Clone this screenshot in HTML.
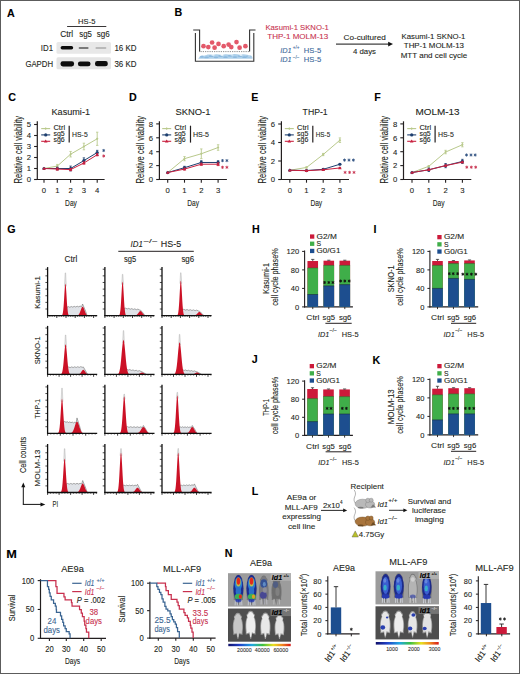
<!DOCTYPE html><html><head><meta charset="utf-8"><title>Figure</title><style>html,body{margin:0;padding:0;background:#fff;}svg{display:block;}</style></head><body>
<svg width="520" height="674" viewBox="0 0 520 674" font-family='"Liberation Sans", sans-serif' fill="#231f20">
<defs><filter id="bl" x="-50%" y="-50%" width="200%" height="200%"><feGaussianBlur stdDeviation="0.7"/></filter><filter id="bl3" x="-30%" y="-60%" width="160%" height="220%"><feGaussianBlur stdDeviation="0.45"/></filter><filter id="bl2" x="-20%" y="-20%" width="140%" height="140%"><feGaussianBlur stdDeviation="0.35"/></filter><linearGradient id="cbar" x1="0" x2="1" y1="0" y2="0"><stop offset="0" stop-color="#10106a"/><stop offset="0.18" stop-color="#1f3fc8"/><stop offset="0.38" stop-color="#20a8e0"/><stop offset="0.55" stop-color="#3cc040"/><stop offset="0.72" stop-color="#e8e020"/><stop offset="0.86" stop-color="#f08a20"/><stop offset="1" stop-color="#d81818"/></linearGradient></defs>
<rect x="0.00" y="0.00" width="520.00" height="674.00" fill="#fff"/>
<text x="7.00" y="17.20" font-size="10.7" fill="#000" font-weight="bold" stroke="#000" stroke-width="0.1">A</text>
<text x="78.10" y="23.50" font-size="8.0" textLength="17.30" lengthAdjust="spacingAndGlyphs" stroke="#231f20" stroke-width="0.1">HS-5</text>
<line x1="67.10" y1="26.50" x2="106.30" y2="26.50" stroke="#231f20" stroke-width="0.9"/>
<text x="60.20" y="36.60" font-size="8.2" textLength="13.00" lengthAdjust="spacingAndGlyphs" stroke="#231f20" stroke-width="0.1">Ctrl</text>
<text x="79.20" y="36.60" font-size="8.2" textLength="12.70" lengthAdjust="spacingAndGlyphs" stroke="#231f20" stroke-width="0.1">sg5</text>
<text x="96.80" y="36.60" font-size="8.2" textLength="13.00" lengthAdjust="spacingAndGlyphs" stroke="#231f20" stroke-width="0.1">sg6</text>
<text x="40.80" y="50.90" font-size="8.2" textLength="12.20" lengthAdjust="spacingAndGlyphs" stroke="#231f20" stroke-width="0.1">ID1</text>
<text x="25.40" y="67.00" font-size="8.2" textLength="27.60" lengthAdjust="spacingAndGlyphs" stroke="#231f20" stroke-width="0.1">GAPDH</text>
<text x="114.40" y="51.30" font-size="8.2" textLength="22.10" lengthAdjust="spacingAndGlyphs" stroke="#231f20" stroke-width="0.1">16 KD</text>
<text x="114.40" y="66.80" font-size="8.2" textLength="22.10" lengthAdjust="spacingAndGlyphs" stroke="#231f20" stroke-width="0.1">36 KD</text>
<rect x="56.5" y="42" width="54.5" height="11.8" rx="1.5" fill="#e8e8e8" filter="url(#bl)"/>
<rect x="56.5" y="57.3" width="54.5" height="12" rx="1.5" fill="#e4e4e4" filter="url(#bl)"/>
<g filter="url(#bl3)">
<rect x="60.6" y="46" width="12.6" height="3.4" rx="1.7" fill="#111"/>
<rect x="78.6" y="46.9" width="10" height="2" rx="1" fill="#7a7a7a"/>
<rect x="95.4" y="47.2" width="11" height="1.6" rx="0.8" fill="#aaa"/>
<rect x="60.5" y="61.2" width="13.6" height="5.2" rx="2.4" fill="#0a0a0a"/>
<rect x="77.9" y="61.4" width="12.6" height="4.8" rx="2.3" fill="#111"/>
<rect x="95" y="61" width="12.8" height="5.3" rx="2.4" fill="#0a0a0a"/>
</g>
<text x="174.60" y="16.40" font-size="10.7" fill="#000" font-weight="bold" stroke="#000" stroke-width="0.1">B</text>
<path d="M195.4,33 V61.2 H253.8 V33" stroke="#333" fill="none" stroke-width="1.1"/>
<path d="M193.2,30 H199.6 V51.5" stroke="#333" fill="none" stroke-width="1.1"/>
<path d="M255.5,30 H249.6 V51.5" stroke="#333" fill="none" stroke-width="1.1"/>
<line x1="199.60" y1="51.60" x2="249.60" y2="51.60" stroke="#333" stroke-width="0.7" stroke-dasharray="0.8 1"/>
<path d="M198.2,58.8 C200,55.2 203,54.6 206,55.2 C209,53.8 212,55.4 215,54.4 C218,53.6 221,55.6 224,54.6 C227,53.4 230,55.4 233,54.2 C236,53.6 239,55.2 242,54.4 C245,53.8 248,55.2 251,55.4 C252.6,56.4 252.8,58 252.4,58.8 Z" fill="#aed0ea" filter="url(#bl3)"/>
<ellipse cx="202" cy="56.8" rx="2.3" ry="0.9" fill="#6fa6d6" opacity="0.55"/>
<ellipse cx="206.5" cy="57.4" rx="2.3" ry="0.9" fill="#6fa6d6" opacity="0.55"/>
<ellipse cx="211" cy="56.2" rx="2.3" ry="0.9" fill="#6fa6d6" opacity="0.55"/>
<ellipse cx="216" cy="57.3" rx="2.3" ry="0.9" fill="#6fa6d6" opacity="0.55"/>
<ellipse cx="220.5" cy="56" rx="2.3" ry="0.9" fill="#6fa6d6" opacity="0.55"/>
<ellipse cx="225.5" cy="57.2" rx="2.3" ry="0.9" fill="#6fa6d6" opacity="0.55"/>
<ellipse cx="230" cy="55.8" rx="2.3" ry="0.9" fill="#6fa6d6" opacity="0.55"/>
<ellipse cx="235" cy="57.1" rx="2.3" ry="0.9" fill="#6fa6d6" opacity="0.55"/>
<ellipse cx="240" cy="56.1" rx="2.3" ry="0.9" fill="#6fa6d6" opacity="0.55"/>
<ellipse cx="244.5" cy="57.2" rx="2.3" ry="0.9" fill="#6fa6d6" opacity="0.55"/>
<ellipse cx="248.5" cy="56.4" rx="2.3" ry="0.9" fill="#6fa6d6" opacity="0.55"/>
<ellipse cx="204" cy="55.6" rx="1.6" ry="0.6" fill="#eef6fc" opacity="0.8"/>
<ellipse cx="213" cy="55.2" rx="1.6" ry="0.6" fill="#eef6fc" opacity="0.8"/>
<ellipse cx="222" cy="55.4" rx="1.6" ry="0.6" fill="#eef6fc" opacity="0.8"/>
<ellipse cx="232" cy="55" rx="1.6" ry="0.6" fill="#eef6fc" opacity="0.8"/>
<ellipse cx="241" cy="55.3" rx="1.6" ry="0.6" fill="#eef6fc" opacity="0.8"/>
<ellipse cx="249" cy="56" rx="1.6" ry="0.6" fill="#eef6fc" opacity="0.8"/>
<circle cx="203.5" cy="46.2" r="2.35" fill="#e3596a"/>
<circle cx="208.3" cy="47.1" r="2.35" fill="#e3596a"/>
<circle cx="212.1" cy="42.5" r="2.35" fill="#e3596a"/>
<circle cx="214.6" cy="47.7" r="2.35" fill="#e3596a"/>
<circle cx="218.5" cy="43.9" r="2.35" fill="#e3596a"/>
<circle cx="223.7" cy="46.2" r="2.35" fill="#e3596a"/>
<circle cx="231.3" cy="47.1" r="2.35" fill="#e3596a"/>
<circle cx="236.5" cy="42.1" r="2.35" fill="#e3596a"/>
<circle cx="239.6" cy="47.7" r="2.35" fill="#e3596a"/>
<circle cx="245.4" cy="46.2" r="2.35" fill="#e3596a"/>
<circle cx="228.6" cy="44.6" r="2.35" fill="#e3596a"/>
<text x="265.40" y="30.00" font-size="7.9" fill="#c8334f" textLength="63.40" lengthAdjust="spacingAndGlyphs" stroke="#c8334f" stroke-width="0.1">Kasumi-1 SKNO-1</text>
<text x="267.30" y="39.00" font-size="7.9" fill="#c8334f" textLength="61.00" lengthAdjust="spacingAndGlyphs" stroke="#c8334f" stroke-width="0.1">THP-1 MOLM-13</text>
<text x="280.20" y="52.50" font-size="7.9" font-style="italic" fill="#3b6a9b" textLength="11.50" lengthAdjust="spacingAndGlyphs" stroke="#3b6a9b" stroke-width="0.1">ID1</text>
<text x="292.70" y="49.20" font-size="4.6" fill="#3b6a9b" textLength="6.70" lengthAdjust="spacingAndGlyphs" stroke="#3b6a9b" stroke-width="0.1">+/+</text>
<text x="303.80" y="52.50" font-size="7.9" fill="#3b6a9b" textLength="17.40" lengthAdjust="spacingAndGlyphs" stroke="#3b6a9b" stroke-width="0.1">HS-5</text>
<text x="280.20" y="62.00" font-size="7.9" font-style="italic" fill="#3b6a9b" textLength="11.50" lengthAdjust="spacingAndGlyphs" stroke="#3b6a9b" stroke-width="0.1">ID1</text>
<text x="292.70" y="58.70" font-size="4.6" fill="#3b6a9b" textLength="6.70" lengthAdjust="spacingAndGlyphs" stroke="#3b6a9b" stroke-width="0.1">−/−</text>
<text x="303.80" y="62.00" font-size="7.9" fill="#3b6a9b" textLength="17.40" lengthAdjust="spacingAndGlyphs" stroke="#3b6a9b" stroke-width="0.1">HS-5</text>
<line x1="336.00" y1="44.10" x2="389.50" y2="44.10" stroke="#111" stroke-width="1"/>
<path d="M393,44.1 L388.2,41.7 L388.2,46.5 Z" stroke="none" fill="#111" stroke-width="0.8"/>
<text x="343.50" y="39.60" font-size="7.9" textLength="42.30" lengthAdjust="spacingAndGlyphs" stroke="#231f20" stroke-width="0.1">Co-cultured</text>
<text x="353.00" y="54.40" font-size="7.9" textLength="23.00" lengthAdjust="spacingAndGlyphs" stroke="#231f20" stroke-width="0.1">4 days</text>
<text x="433.50" y="38.80" font-size="7.9" text-anchor="middle" textLength="63.90" lengthAdjust="spacingAndGlyphs" stroke="#231f20" stroke-width="0.1">Kasumi-1 SKNO-1</text>
<text x="433.90" y="48.30" font-size="7.9" text-anchor="middle" textLength="60.20" lengthAdjust="spacingAndGlyphs" stroke="#231f20" stroke-width="0.1">THP-1 MOLM-13</text>
<text x="434.00" y="57.90" font-size="7.9" text-anchor="middle" textLength="66.70" lengthAdjust="spacingAndGlyphs" stroke="#231f20" stroke-width="0.1">MTT and cell cycle</text>
<text x="8.30" y="101.40" font-size="10.7" fill="#000" font-weight="bold" stroke="#000" stroke-width="0.1">C</text>
<text x="51.50" y="115.40" font-size="9.3" textLength="38.50" lengthAdjust="spacingAndGlyphs" stroke="#231f20" stroke-width="0.1">Kasumi-1</text>
<text x="0" y="0" font-size="10.2" text-anchor="middle" transform="translate(22.10,149.7) rotate(-90)" textLength="67.5" lengthAdjust="spacingAndGlyphs" stroke="#231f20" stroke-width="0.1">Relative cell viability</text>
<line x1="37.30" y1="121.30" x2="37.30" y2="180.00" stroke="#231f20" stroke-width="1.2"/>
<line x1="36.70" y1="179.50" x2="104.60" y2="179.50" stroke="#231f20" stroke-width="1.2"/>
<line x1="34.10" y1="179.50" x2="37.30" y2="179.50" stroke="#231f20" stroke-width="1.1"/>
<text x="31.00" y="182.35" font-size="8.1" text-anchor="end" textLength="4.30" lengthAdjust="spacingAndGlyphs" stroke="#231f20" stroke-width="0.1">0</text>
<line x1="34.10" y1="168.50" x2="37.30" y2="168.50" stroke="#231f20" stroke-width="1.1"/>
<text x="31.00" y="171.35" font-size="8.1" text-anchor="end" textLength="4.30" lengthAdjust="spacingAndGlyphs" stroke="#231f20" stroke-width="0.1">1</text>
<line x1="34.10" y1="157.50" x2="37.30" y2="157.50" stroke="#231f20" stroke-width="1.1"/>
<text x="31.00" y="160.35" font-size="8.1" text-anchor="end" textLength="4.30" lengthAdjust="spacingAndGlyphs" stroke="#231f20" stroke-width="0.1">2</text>
<line x1="34.10" y1="146.50" x2="37.30" y2="146.50" stroke="#231f20" stroke-width="1.1"/>
<text x="31.00" y="149.35" font-size="8.1" text-anchor="end" textLength="4.30" lengthAdjust="spacingAndGlyphs" stroke="#231f20" stroke-width="0.1">3</text>
<line x1="34.10" y1="135.50" x2="37.30" y2="135.50" stroke="#231f20" stroke-width="1.1"/>
<text x="31.00" y="138.35" font-size="8.1" text-anchor="end" textLength="4.30" lengthAdjust="spacingAndGlyphs" stroke="#231f20" stroke-width="0.1">4</text>
<line x1="34.10" y1="124.50" x2="37.30" y2="124.50" stroke="#231f20" stroke-width="1.1"/>
<text x="31.00" y="127.35" font-size="8.1" text-anchor="end" textLength="4.30" lengthAdjust="spacingAndGlyphs" stroke="#231f20" stroke-width="0.1">5</text>
<line x1="44.00" y1="179.50" x2="44.00" y2="182.70" stroke="#231f20" stroke-width="1.1"/>
<text x="44.00" y="192.80" font-size="8.1" text-anchor="middle" textLength="4.30" lengthAdjust="spacingAndGlyphs" stroke="#231f20" stroke-width="0.1">0</text>
<line x1="57.30" y1="179.50" x2="57.30" y2="182.70" stroke="#231f20" stroke-width="1.1"/>
<text x="57.30" y="192.80" font-size="8.1" text-anchor="middle" textLength="4.30" lengthAdjust="spacingAndGlyphs" stroke="#231f20" stroke-width="0.1">1</text>
<line x1="70.60" y1="179.50" x2="70.60" y2="182.70" stroke="#231f20" stroke-width="1.1"/>
<text x="70.60" y="192.80" font-size="8.1" text-anchor="middle" textLength="4.30" lengthAdjust="spacingAndGlyphs" stroke="#231f20" stroke-width="0.1">2</text>
<line x1="83.90" y1="179.50" x2="83.90" y2="182.70" stroke="#231f20" stroke-width="1.1"/>
<text x="83.90" y="192.80" font-size="8.1" text-anchor="middle" textLength="4.30" lengthAdjust="spacingAndGlyphs" stroke="#231f20" stroke-width="0.1">3</text>
<line x1="97.20" y1="179.50" x2="97.20" y2="182.70" stroke="#231f20" stroke-width="1.1"/>
<text x="97.20" y="192.80" font-size="8.1" text-anchor="middle" textLength="4.30" lengthAdjust="spacingAndGlyphs" stroke="#231f20" stroke-width="0.1">4</text>
<text x="71.00" y="205.60" font-size="8.9" text-anchor="middle" textLength="11.80" lengthAdjust="spacingAndGlyphs" stroke="#231f20" stroke-width="0.1">Day</text>
<path d="M44.00,168.50 L57.30,166.08 L70.60,154.20 L83.90,146.50 L97.20,138.80" stroke="#b9c98c" fill="none" stroke-width="1.0"/>
<path d="M42.70,168.50 L44.00,167.20 L45.30,168.50 L44.00,169.80 Z" fill="#b9c98c"/>
<line x1="57.30" y1="164.43" x2="57.30" y2="167.73" stroke="#b9c98c" stroke-width="0.9"/>
<line x1="56.10" y1="164.43" x2="58.50" y2="164.43" stroke="#b9c98c" stroke-width="0.8"/>
<line x1="56.10" y1="167.73" x2="58.50" y2="167.73" stroke="#b9c98c" stroke-width="0.8"/>
<path d="M56.00,166.08 L57.30,164.78 L58.60,166.08 L57.30,167.38 Z" fill="#b9c98c"/>
<line x1="70.60" y1="151.45" x2="70.60" y2="156.95" stroke="#b9c98c" stroke-width="0.9"/>
<line x1="69.40" y1="151.45" x2="71.80" y2="151.45" stroke="#b9c98c" stroke-width="0.8"/>
<line x1="69.40" y1="156.95" x2="71.80" y2="156.95" stroke="#b9c98c" stroke-width="0.8"/>
<path d="M69.30,154.20 L70.60,152.90 L71.90,154.20 L70.60,155.50 Z" fill="#b9c98c"/>
<line x1="83.90" y1="143.20" x2="83.90" y2="149.80" stroke="#b9c98c" stroke-width="0.9"/>
<line x1="82.70" y1="143.20" x2="85.10" y2="143.20" stroke="#b9c98c" stroke-width="0.8"/>
<line x1="82.70" y1="149.80" x2="85.10" y2="149.80" stroke="#b9c98c" stroke-width="0.8"/>
<path d="M82.60,146.50 L83.90,145.20 L85.20,146.50 L83.90,147.80 Z" fill="#b9c98c"/>
<line x1="97.20" y1="132.20" x2="97.20" y2="145.40" stroke="#b9c98c" stroke-width="0.9"/>
<line x1="96.00" y1="132.20" x2="98.40" y2="132.20" stroke="#b9c98c" stroke-width="0.8"/>
<line x1="96.00" y1="145.40" x2="98.40" y2="145.40" stroke="#b9c98c" stroke-width="0.8"/>
<path d="M95.90,138.80 L97.20,137.50 L98.50,138.80 L97.20,140.10 Z" fill="#b9c98c"/>
<path d="M44.00,168.50 L57.30,168.50 L70.60,168.50 L83.90,160.58 L97.20,152.55" stroke="#1e3f6f" fill="none" stroke-width="1.0"/>
<circle cx="44.00" cy="168.50" r="1.6" fill="#1e3f6f"/>
<line x1="57.30" y1="167.18" x2="57.30" y2="169.82" stroke="#1e3f6f" stroke-width="0.9"/>
<line x1="56.10" y1="167.18" x2="58.50" y2="167.18" stroke="#1e3f6f" stroke-width="0.8"/>
<line x1="56.10" y1="169.82" x2="58.50" y2="169.82" stroke="#1e3f6f" stroke-width="0.8"/>
<circle cx="57.30" cy="168.50" r="1.6" fill="#1e3f6f"/>
<line x1="70.60" y1="166.08" x2="70.60" y2="170.92" stroke="#1e3f6f" stroke-width="0.9"/>
<line x1="69.40" y1="166.08" x2="71.80" y2="166.08" stroke="#1e3f6f" stroke-width="0.8"/>
<line x1="69.40" y1="170.92" x2="71.80" y2="170.92" stroke="#1e3f6f" stroke-width="0.8"/>
<circle cx="70.60" cy="168.50" r="1.6" fill="#1e3f6f"/>
<line x1="83.90" y1="157.83" x2="83.90" y2="163.33" stroke="#1e3f6f" stroke-width="0.9"/>
<line x1="82.70" y1="157.83" x2="85.10" y2="157.83" stroke="#1e3f6f" stroke-width="0.8"/>
<line x1="82.70" y1="163.33" x2="85.10" y2="163.33" stroke="#1e3f6f" stroke-width="0.8"/>
<circle cx="83.90" cy="160.58" r="1.6" fill="#1e3f6f"/>
<line x1="97.20" y1="150.35" x2="97.20" y2="154.75" stroke="#1e3f6f" stroke-width="0.9"/>
<line x1="96.00" y1="150.35" x2="98.40" y2="150.35" stroke="#1e3f6f" stroke-width="0.8"/>
<line x1="96.00" y1="154.75" x2="98.40" y2="154.75" stroke="#1e3f6f" stroke-width="0.8"/>
<circle cx="97.20" cy="152.55" r="1.6" fill="#1e3f6f"/>
<path d="M44.00,168.50 L57.30,169.05 L70.60,169.60 L83.90,163.00 L97.20,154.75" stroke="#c8203f" fill="none" stroke-width="1.0"/>
<path d="M42.20,169.70 L44.00,166.80 L45.80,169.70 Z" fill="#c8203f"/>
<line x1="57.30" y1="167.95" x2="57.30" y2="170.15" stroke="#c8203f" stroke-width="0.9"/>
<line x1="56.10" y1="167.95" x2="58.50" y2="167.95" stroke="#c8203f" stroke-width="0.8"/>
<line x1="56.10" y1="170.15" x2="58.50" y2="170.15" stroke="#c8203f" stroke-width="0.8"/>
<path d="M55.50,170.25 L57.30,167.35 L59.10,170.25 Z" fill="#c8203f"/>
<line x1="70.60" y1="168.50" x2="70.60" y2="170.70" stroke="#c8203f" stroke-width="0.9"/>
<line x1="69.40" y1="168.50" x2="71.80" y2="168.50" stroke="#c8203f" stroke-width="0.8"/>
<line x1="69.40" y1="170.70" x2="71.80" y2="170.70" stroke="#c8203f" stroke-width="0.8"/>
<path d="M68.80,170.80 L70.60,167.90 L72.40,170.80 Z" fill="#c8203f"/>
<line x1="83.90" y1="161.90" x2="83.90" y2="164.10" stroke="#c8203f" stroke-width="0.9"/>
<line x1="82.70" y1="161.90" x2="85.10" y2="161.90" stroke="#c8203f" stroke-width="0.8"/>
<line x1="82.70" y1="164.10" x2="85.10" y2="164.10" stroke="#c8203f" stroke-width="0.8"/>
<path d="M82.10,164.20 L83.90,161.30 L85.70,164.20 Z" fill="#c8203f"/>
<line x1="97.20" y1="153.65" x2="97.20" y2="155.85" stroke="#c8203f" stroke-width="0.9"/>
<line x1="96.00" y1="153.65" x2="98.40" y2="153.65" stroke="#c8203f" stroke-width="0.8"/>
<line x1="96.00" y1="155.85" x2="98.40" y2="155.85" stroke="#c8203f" stroke-width="0.8"/>
<path d="M95.40,155.95 L97.20,153.05 L99.00,155.95 Z" fill="#c8203f"/>
<line x1="41.20" y1="128.60" x2="50.20" y2="128.60" stroke="#b9c98c" stroke-width="1.1"/>
<path d="M44.40,128.60 L45.70,127.30 L47.00,128.60 L45.70,129.90 Z" fill="#b9c98c"/>
<text x="53.40" y="130.40" font-size="7.5" textLength="11.70" lengthAdjust="spacingAndGlyphs" stroke="#231f20" stroke-width="0.1">Ctrl</text>
<line x1="41.20" y1="134.90" x2="50.20" y2="134.90" stroke="#1e3f6f" stroke-width="1.1"/>
<circle cx="45.70" cy="134.90" r="1.6" fill="#1e3f6f"/>
<text x="53.40" y="136.30" font-size="7.5" textLength="11.30" lengthAdjust="spacingAndGlyphs" stroke="#231f20" stroke-width="0.1">sg5</text>
<line x1="41.20" y1="141.30" x2="50.20" y2="141.30" stroke="#c8203f" stroke-width="1.1"/>
<path d="M43.90,142.50 L45.70,139.60 L47.50,142.50 Z" fill="#c8203f"/>
<text x="53.40" y="142.30" font-size="7.5" textLength="11.30" lengthAdjust="spacingAndGlyphs" stroke="#231f20" stroke-width="0.1">sg6</text>
<line x1="69.20" y1="125.70" x2="69.20" y2="142.60" stroke="#231f20" stroke-width="1.2"/>
<text x="72.10" y="136.60" font-size="7.4" textLength="15.60" lengthAdjust="spacingAndGlyphs" stroke="#231f20" stroke-width="0.1">HS-5</text>
<path d="M103.70,148.95 L103.70,152.05 M102.36,149.72 L105.04,151.28 M105.04,149.72 L102.36,151.28 " stroke="#2d4f80" stroke-width="0.85" fill="none"/>
<path d="M103.70,154.45 L103.70,157.55 M102.36,155.22 L105.04,156.78 M105.04,155.22 L102.36,156.78 " stroke="#c8304e" stroke-width="0.85" fill="none"/>
<text x="129.00" y="101.40" font-size="10.7" fill="#000" font-weight="bold" stroke="#000" stroke-width="0.1">D</text>
<text x="175.50" y="115.40" font-size="9.3" textLength="34.90" lengthAdjust="spacingAndGlyphs" stroke="#231f20" stroke-width="0.1">SKNO-1</text>
<text x="0" y="0" font-size="10.2" text-anchor="middle" transform="translate(144.20,149.7) rotate(-90)" textLength="67.5" lengthAdjust="spacingAndGlyphs" stroke="#231f20" stroke-width="0.1">Relative cell viability</text>
<line x1="159.40" y1="121.30" x2="159.40" y2="180.00" stroke="#231f20" stroke-width="1.2"/>
<line x1="158.80" y1="179.50" x2="226.90" y2="179.50" stroke="#231f20" stroke-width="1.2"/>
<line x1="156.20" y1="179.50" x2="159.40" y2="179.50" stroke="#231f20" stroke-width="1.1"/>
<text x="153.10" y="182.35" font-size="8.1" text-anchor="end" textLength="4.30" lengthAdjust="spacingAndGlyphs" stroke="#231f20" stroke-width="0.1">0</text>
<line x1="156.20" y1="165.60" x2="159.40" y2="165.60" stroke="#231f20" stroke-width="1.1"/>
<text x="153.10" y="168.45" font-size="8.1" text-anchor="end" textLength="4.30" lengthAdjust="spacingAndGlyphs" stroke="#231f20" stroke-width="0.1">2</text>
<line x1="156.20" y1="151.70" x2="159.40" y2="151.70" stroke="#231f20" stroke-width="1.1"/>
<text x="153.10" y="154.55" font-size="8.1" text-anchor="end" textLength="4.30" lengthAdjust="spacingAndGlyphs" stroke="#231f20" stroke-width="0.1">4</text>
<line x1="156.20" y1="137.80" x2="159.40" y2="137.80" stroke="#231f20" stroke-width="1.1"/>
<text x="153.10" y="140.65" font-size="8.1" text-anchor="end" textLength="4.30" lengthAdjust="spacingAndGlyphs" stroke="#231f20" stroke-width="0.1">6</text>
<line x1="156.20" y1="123.90" x2="159.40" y2="123.90" stroke="#231f20" stroke-width="1.1"/>
<text x="153.10" y="126.75" font-size="8.1" text-anchor="end" textLength="4.30" lengthAdjust="spacingAndGlyphs" stroke="#231f20" stroke-width="0.1">8</text>
<line x1="167.70" y1="179.50" x2="167.70" y2="182.70" stroke="#231f20" stroke-width="1.1"/>
<text x="167.70" y="192.80" font-size="8.1" text-anchor="middle" textLength="4.30" lengthAdjust="spacingAndGlyphs" stroke="#231f20" stroke-width="0.1">0</text>
<line x1="184.50" y1="179.50" x2="184.50" y2="182.70" stroke="#231f20" stroke-width="1.1"/>
<text x="184.50" y="192.80" font-size="8.1" text-anchor="middle" textLength="4.30" lengthAdjust="spacingAndGlyphs" stroke="#231f20" stroke-width="0.1">1</text>
<line x1="201.30" y1="179.50" x2="201.30" y2="182.70" stroke="#231f20" stroke-width="1.1"/>
<text x="201.30" y="192.80" font-size="8.1" text-anchor="middle" textLength="4.30" lengthAdjust="spacingAndGlyphs" stroke="#231f20" stroke-width="0.1">2</text>
<line x1="218.10" y1="179.50" x2="218.10" y2="182.70" stroke="#231f20" stroke-width="1.1"/>
<text x="218.10" y="192.80" font-size="8.1" text-anchor="middle" textLength="4.30" lengthAdjust="spacingAndGlyphs" stroke="#231f20" stroke-width="0.1">3</text>
<text x="193.20" y="205.60" font-size="8.9" text-anchor="middle" textLength="11.80" lengthAdjust="spacingAndGlyphs" stroke="#231f20" stroke-width="0.1">Day</text>
<path d="M167.70,172.55 L184.50,158.65 L201.30,153.78 L218.10,147.53" stroke="#b9c98c" fill="none" stroke-width="1.0"/>
<path d="M166.40,172.55 L167.70,171.25 L169.00,172.55 L167.70,173.85 Z" fill="#b9c98c"/>
<line x1="184.50" y1="156.56" x2="184.50" y2="160.74" stroke="#b9c98c" stroke-width="0.9"/>
<line x1="183.30" y1="156.56" x2="185.70" y2="156.56" stroke="#b9c98c" stroke-width="0.8"/>
<line x1="183.30" y1="160.74" x2="185.70" y2="160.74" stroke="#b9c98c" stroke-width="0.8"/>
<path d="M183.20,158.65 L184.50,157.35 L185.80,158.65 L184.50,159.95 Z" fill="#b9c98c"/>
<line x1="201.30" y1="148.92" x2="201.30" y2="158.65" stroke="#b9c98c" stroke-width="0.9"/>
<line x1="200.10" y1="148.92" x2="202.50" y2="148.92" stroke="#b9c98c" stroke-width="0.8"/>
<line x1="200.10" y1="158.65" x2="202.50" y2="158.65" stroke="#b9c98c" stroke-width="0.8"/>
<path d="M200.00,153.78 L201.30,152.48 L202.60,153.78 L201.30,155.09 Z" fill="#b9c98c"/>
<line x1="218.10" y1="144.75" x2="218.10" y2="150.31" stroke="#b9c98c" stroke-width="0.9"/>
<line x1="216.90" y1="144.75" x2="219.30" y2="144.75" stroke="#b9c98c" stroke-width="0.8"/>
<line x1="216.90" y1="150.31" x2="219.30" y2="150.31" stroke="#b9c98c" stroke-width="0.8"/>
<path d="M216.80,147.53 L218.10,146.23 L219.40,147.53 L218.10,148.83 Z" fill="#b9c98c"/>
<path d="M167.70,172.55 L184.50,167.69 L201.30,162.47 L218.10,162.47" stroke="#1e3f6f" fill="none" stroke-width="1.0"/>
<circle cx="167.70" cy="172.55" r="1.6" fill="#1e3f6f"/>
<line x1="184.50" y1="166.30" x2="184.50" y2="169.07" stroke="#1e3f6f" stroke-width="0.9"/>
<line x1="183.30" y1="166.30" x2="185.70" y2="166.30" stroke="#1e3f6f" stroke-width="0.8"/>
<line x1="183.30" y1="169.07" x2="185.70" y2="169.07" stroke="#1e3f6f" stroke-width="0.8"/>
<circle cx="184.50" cy="167.69" r="1.6" fill="#1e3f6f"/>
<line x1="201.30" y1="160.73" x2="201.30" y2="164.21" stroke="#1e3f6f" stroke-width="0.9"/>
<line x1="200.10" y1="160.73" x2="202.50" y2="160.73" stroke="#1e3f6f" stroke-width="0.8"/>
<line x1="200.10" y1="164.21" x2="202.50" y2="164.21" stroke="#1e3f6f" stroke-width="0.8"/>
<circle cx="201.30" cy="162.47" r="1.6" fill="#1e3f6f"/>
<line x1="218.10" y1="160.73" x2="218.10" y2="164.21" stroke="#1e3f6f" stroke-width="0.9"/>
<line x1="216.90" y1="160.73" x2="219.30" y2="160.73" stroke="#1e3f6f" stroke-width="0.8"/>
<line x1="216.90" y1="164.21" x2="219.30" y2="164.21" stroke="#1e3f6f" stroke-width="0.8"/>
<circle cx="218.10" cy="162.47" r="1.6" fill="#1e3f6f"/>
<path d="M167.70,172.55 L184.50,169.07 L201.30,164.21 L218.10,164.21" stroke="#c8203f" fill="none" stroke-width="1.0"/>
<path d="M165.90,173.75 L167.70,170.85 L169.50,173.75 Z" fill="#c8203f"/>
<line x1="184.50" y1="168.03" x2="184.50" y2="170.12" stroke="#c8203f" stroke-width="0.9"/>
<line x1="183.30" y1="168.03" x2="185.70" y2="168.03" stroke="#c8203f" stroke-width="0.8"/>
<line x1="183.30" y1="170.12" x2="185.70" y2="170.12" stroke="#c8203f" stroke-width="0.8"/>
<path d="M182.70,170.27 L184.50,167.38 L186.30,170.27 Z" fill="#c8203f"/>
<line x1="201.30" y1="163.17" x2="201.30" y2="165.25" stroke="#c8203f" stroke-width="0.9"/>
<line x1="200.10" y1="163.17" x2="202.50" y2="163.17" stroke="#c8203f" stroke-width="0.8"/>
<line x1="200.10" y1="165.25" x2="202.50" y2="165.25" stroke="#c8203f" stroke-width="0.8"/>
<path d="M199.50,165.41 L201.30,162.51 L203.10,165.41 Z" fill="#c8203f"/>
<line x1="218.10" y1="162.82" x2="218.10" y2="165.60" stroke="#c8203f" stroke-width="0.9"/>
<line x1="216.90" y1="162.82" x2="219.30" y2="162.82" stroke="#c8203f" stroke-width="0.8"/>
<line x1="216.90" y1="165.60" x2="219.30" y2="165.60" stroke="#c8203f" stroke-width="0.8"/>
<path d="M216.30,165.41 L218.10,162.51 L219.90,165.41 Z" fill="#c8203f"/>
<line x1="162.20" y1="128.60" x2="171.20" y2="128.60" stroke="#b9c98c" stroke-width="1.1"/>
<path d="M165.40,128.60 L166.70,127.30 L168.00,128.60 L166.70,129.90 Z" fill="#b9c98c"/>
<text x="174.40" y="130.40" font-size="7.5" textLength="11.70" lengthAdjust="spacingAndGlyphs" stroke="#231f20" stroke-width="0.1">Ctrl</text>
<line x1="162.20" y1="134.90" x2="171.20" y2="134.90" stroke="#1e3f6f" stroke-width="1.1"/>
<circle cx="166.70" cy="134.90" r="1.6" fill="#1e3f6f"/>
<text x="174.40" y="136.30" font-size="7.5" textLength="11.30" lengthAdjust="spacingAndGlyphs" stroke="#231f20" stroke-width="0.1">sg5</text>
<line x1="162.20" y1="141.30" x2="171.20" y2="141.30" stroke="#c8203f" stroke-width="1.1"/>
<path d="M164.90,142.50 L166.70,139.60 L168.50,142.50 Z" fill="#c8203f"/>
<text x="174.40" y="142.30" font-size="7.5" textLength="11.30" lengthAdjust="spacingAndGlyphs" stroke="#231f20" stroke-width="0.1">sg6</text>
<line x1="190.50" y1="125.70" x2="190.50" y2="142.60" stroke="#231f20" stroke-width="1.2"/>
<text x="192.90" y="136.60" font-size="7.4" textLength="16.10" lengthAdjust="spacingAndGlyphs" stroke="#231f20" stroke-width="0.1">HS-5</text>
<path d="M222.50,159.05 L222.50,162.15 M221.16,159.82 L223.84,161.38 M223.84,159.82 L221.16,161.38 " stroke="#2d4f80" stroke-width="0.85" fill="none"/>
<path d="M226.90,159.05 L226.90,162.15 M225.56,159.82 L228.24,161.38 M228.24,159.82 L225.56,161.38 " stroke="#2d4f80" stroke-width="0.85" fill="none"/>
<path d="M222.50,165.75 L222.50,168.85 M221.16,166.53 L223.84,168.08 M223.84,166.53 L221.16,168.08 " stroke="#c8304e" stroke-width="0.85" fill="none"/>
<path d="M226.90,165.75 L226.90,168.85 M225.56,166.53 L228.24,168.08 M228.24,166.53 L225.56,168.08 " stroke="#c8304e" stroke-width="0.85" fill="none"/>
<text x="251.30" y="101.40" font-size="10.7" fill="#000" font-weight="bold" stroke="#000" stroke-width="0.1">E</text>
<text x="302.60" y="115.40" font-size="9.3" textLength="25.10" lengthAdjust="spacingAndGlyphs" stroke="#231f20" stroke-width="0.1">THP-1</text>
<text x="0" y="0" font-size="10.2" text-anchor="middle" transform="translate(266.20,149.7) rotate(-90)" textLength="67.5" lengthAdjust="spacingAndGlyphs" stroke="#231f20" stroke-width="0.1">Relative cell viability</text>
<line x1="281.40" y1="121.30" x2="281.40" y2="180.00" stroke="#231f20" stroke-width="1.2"/>
<line x1="280.80" y1="179.50" x2="349.00" y2="179.50" stroke="#231f20" stroke-width="1.2"/>
<line x1="278.20" y1="179.50" x2="281.40" y2="179.50" stroke="#231f20" stroke-width="1.1"/>
<text x="275.10" y="182.35" font-size="8.1" text-anchor="end" textLength="4.30" lengthAdjust="spacingAndGlyphs" stroke="#231f20" stroke-width="0.1">0</text>
<line x1="278.20" y1="161.00" x2="281.40" y2="161.00" stroke="#231f20" stroke-width="1.1"/>
<text x="275.10" y="163.85" font-size="8.1" text-anchor="end" textLength="4.30" lengthAdjust="spacingAndGlyphs" stroke="#231f20" stroke-width="0.1">2</text>
<line x1="278.20" y1="142.50" x2="281.40" y2="142.50" stroke="#231f20" stroke-width="1.1"/>
<text x="275.10" y="145.35" font-size="8.1" text-anchor="end" textLength="4.30" lengthAdjust="spacingAndGlyphs" stroke="#231f20" stroke-width="0.1">4</text>
<line x1="278.20" y1="124.00" x2="281.40" y2="124.00" stroke="#231f20" stroke-width="1.1"/>
<text x="275.10" y="126.85" font-size="8.1" text-anchor="end" textLength="4.30" lengthAdjust="spacingAndGlyphs" stroke="#231f20" stroke-width="0.1">6</text>
<line x1="289.80" y1="179.50" x2="289.80" y2="182.70" stroke="#231f20" stroke-width="1.1"/>
<text x="289.80" y="192.80" font-size="8.1" text-anchor="middle" textLength="4.30" lengthAdjust="spacingAndGlyphs" stroke="#231f20" stroke-width="0.1">0</text>
<line x1="306.50" y1="179.50" x2="306.50" y2="182.70" stroke="#231f20" stroke-width="1.1"/>
<text x="306.50" y="192.80" font-size="8.1" text-anchor="middle" textLength="4.30" lengthAdjust="spacingAndGlyphs" stroke="#231f20" stroke-width="0.1">1</text>
<line x1="323.20" y1="179.50" x2="323.20" y2="182.70" stroke="#231f20" stroke-width="1.1"/>
<text x="323.20" y="192.80" font-size="8.1" text-anchor="middle" textLength="4.30" lengthAdjust="spacingAndGlyphs" stroke="#231f20" stroke-width="0.1">2</text>
<line x1="339.90" y1="179.50" x2="339.90" y2="182.70" stroke="#231f20" stroke-width="1.1"/>
<text x="339.90" y="192.80" font-size="8.1" text-anchor="middle" textLength="4.30" lengthAdjust="spacingAndGlyphs" stroke="#231f20" stroke-width="0.1">3</text>
<text x="316.30" y="205.60" font-size="8.9" text-anchor="middle" textLength="11.80" lengthAdjust="spacingAndGlyphs" stroke="#231f20" stroke-width="0.1">Day</text>
<path d="M289.80,170.25 L306.50,167.47 L323.20,154.53 L339.90,140.19" stroke="#b9c98c" fill="none" stroke-width="1.0"/>
<path d="M288.50,170.25 L289.80,168.95 L291.10,170.25 L289.80,171.55 Z" fill="#b9c98c"/>
<line x1="306.50" y1="166.73" x2="306.50" y2="168.22" stroke="#b9c98c" stroke-width="0.9"/>
<line x1="305.30" y1="166.73" x2="307.70" y2="166.73" stroke="#b9c98c" stroke-width="0.8"/>
<line x1="305.30" y1="168.22" x2="307.70" y2="168.22" stroke="#b9c98c" stroke-width="0.8"/>
<path d="M305.20,167.47 L306.50,166.17 L307.80,167.47 L306.50,168.78 Z" fill="#b9c98c"/>
<line x1="323.20" y1="153.41" x2="323.20" y2="155.64" stroke="#b9c98c" stroke-width="0.9"/>
<line x1="322.00" y1="153.41" x2="324.40" y2="153.41" stroke="#b9c98c" stroke-width="0.8"/>
<line x1="322.00" y1="155.64" x2="324.40" y2="155.64" stroke="#b9c98c" stroke-width="0.8"/>
<path d="M321.90,154.53 L323.20,153.22 L324.50,154.53 L323.20,155.83 Z" fill="#b9c98c"/>
<line x1="339.90" y1="137.88" x2="339.90" y2="142.50" stroke="#b9c98c" stroke-width="0.9"/>
<line x1="338.70" y1="137.88" x2="341.10" y2="137.88" stroke="#b9c98c" stroke-width="0.8"/>
<line x1="338.70" y1="142.50" x2="341.10" y2="142.50" stroke="#b9c98c" stroke-width="0.8"/>
<path d="M338.60,140.19 L339.90,138.89 L341.20,140.19 L339.90,141.49 Z" fill="#b9c98c"/>
<path d="M289.80,170.25 L306.50,170.53 L323.20,169.32 L339.90,164.24" stroke="#1e3f6f" fill="none" stroke-width="1.0"/>
<circle cx="289.80" cy="170.25" r="1.6" fill="#1e3f6f"/>
<line x1="306.50" y1="170.06" x2="306.50" y2="170.99" stroke="#1e3f6f" stroke-width="0.9"/>
<line x1="305.30" y1="170.06" x2="307.70" y2="170.06" stroke="#1e3f6f" stroke-width="0.8"/>
<line x1="305.30" y1="170.99" x2="307.70" y2="170.99" stroke="#1e3f6f" stroke-width="0.8"/>
<circle cx="306.50" cy="170.53" r="1.6" fill="#1e3f6f"/>
<line x1="323.20" y1="168.86" x2="323.20" y2="169.79" stroke="#1e3f6f" stroke-width="0.9"/>
<line x1="322.00" y1="168.86" x2="324.40" y2="168.86" stroke="#1e3f6f" stroke-width="0.8"/>
<line x1="322.00" y1="169.79" x2="324.40" y2="169.79" stroke="#1e3f6f" stroke-width="0.8"/>
<circle cx="323.20" cy="169.32" r="1.6" fill="#1e3f6f"/>
<line x1="339.90" y1="163.78" x2="339.90" y2="164.70" stroke="#1e3f6f" stroke-width="0.9"/>
<line x1="338.70" y1="163.78" x2="341.10" y2="163.78" stroke="#1e3f6f" stroke-width="0.8"/>
<line x1="338.70" y1="164.70" x2="341.10" y2="164.70" stroke="#1e3f6f" stroke-width="0.8"/>
<circle cx="339.90" cy="164.24" r="1.6" fill="#1e3f6f"/>
<path d="M289.80,170.25 L306.50,170.71 L323.20,169.79 L339.90,167.94" stroke="#c8203f" fill="none" stroke-width="1.0"/>
<path d="M288.00,171.45 L289.80,168.55 L291.60,171.45 Z" fill="#c8203f"/>
<line x1="306.50" y1="170.25" x2="306.50" y2="171.18" stroke="#c8203f" stroke-width="0.9"/>
<line x1="305.30" y1="170.25" x2="307.70" y2="170.25" stroke="#c8203f" stroke-width="0.8"/>
<line x1="305.30" y1="171.18" x2="307.70" y2="171.18" stroke="#c8203f" stroke-width="0.8"/>
<path d="M304.70,171.91 L306.50,169.01 L308.30,171.91 Z" fill="#c8203f"/>
<line x1="323.20" y1="169.32" x2="323.20" y2="170.25" stroke="#c8203f" stroke-width="0.9"/>
<line x1="322.00" y1="169.32" x2="324.40" y2="169.32" stroke="#c8203f" stroke-width="0.8"/>
<line x1="322.00" y1="170.25" x2="324.40" y2="170.25" stroke="#c8203f" stroke-width="0.8"/>
<path d="M321.40,170.99 L323.20,168.09 L325.00,170.99 Z" fill="#c8203f"/>
<line x1="339.90" y1="167.47" x2="339.90" y2="168.40" stroke="#c8203f" stroke-width="0.9"/>
<line x1="338.70" y1="167.47" x2="341.10" y2="167.47" stroke="#c8203f" stroke-width="0.8"/>
<line x1="338.70" y1="168.40" x2="341.10" y2="168.40" stroke="#c8203f" stroke-width="0.8"/>
<path d="M338.10,169.14 L339.90,166.24 L341.70,169.14 Z" fill="#c8203f"/>
<line x1="284.80" y1="128.60" x2="293.80" y2="128.60" stroke="#b9c98c" stroke-width="1.1"/>
<path d="M288.00,128.60 L289.30,127.30 L290.60,128.60 L289.30,129.90 Z" fill="#b9c98c"/>
<text x="297.00" y="130.40" font-size="7.5" textLength="11.70" lengthAdjust="spacingAndGlyphs" stroke="#231f20" stroke-width="0.1">Ctrl</text>
<line x1="284.80" y1="134.90" x2="293.80" y2="134.90" stroke="#1e3f6f" stroke-width="1.1"/>
<circle cx="289.30" cy="134.90" r="1.6" fill="#1e3f6f"/>
<text x="297.00" y="136.30" font-size="7.5" textLength="11.30" lengthAdjust="spacingAndGlyphs" stroke="#231f20" stroke-width="0.1">sg5</text>
<line x1="284.80" y1="141.30" x2="293.80" y2="141.30" stroke="#c8203f" stroke-width="1.1"/>
<path d="M287.50,142.50 L289.30,139.60 L291.10,142.50 Z" fill="#c8203f"/>
<text x="297.00" y="142.30" font-size="7.5" textLength="11.30" lengthAdjust="spacingAndGlyphs" stroke="#231f20" stroke-width="0.1">sg6</text>
<line x1="312.80" y1="125.70" x2="312.80" y2="142.60" stroke="#231f20" stroke-width="1.2"/>
<text x="315.80" y="136.60" font-size="7.4" textLength="14.40" lengthAdjust="spacingAndGlyphs" stroke="#231f20" stroke-width="0.1">HS-5</text>
<path d="M344.50,158.55 L344.50,161.65 M343.16,159.32 L345.84,160.88 M345.84,159.32 L343.16,160.88 " stroke="#2d4f80" stroke-width="0.85" fill="none"/>
<path d="M349.00,158.55 L349.00,161.65 M347.66,159.32 L350.34,160.88 M350.34,159.32 L347.66,160.88 " stroke="#2d4f80" stroke-width="0.85" fill="none"/>
<path d="M353.40,158.55 L353.40,161.65 M352.06,159.32 L354.74,160.88 M354.74,159.32 L352.06,160.88 " stroke="#2d4f80" stroke-width="0.85" fill="none"/>
<path d="M345.10,170.85 L345.10,173.95 M343.76,171.62 L346.44,173.18 M346.44,171.62 L343.76,173.18 " stroke="#c8304e" stroke-width="0.85" fill="none"/>
<path d="M349.60,170.85 L349.60,173.95 M348.26,171.62 L350.94,173.18 M350.94,171.62 L348.26,173.18 " stroke="#c8304e" stroke-width="0.85" fill="none"/>
<path d="M354.00,170.85 L354.00,173.95 M352.66,171.62 L355.34,173.18 M355.34,171.62 L352.66,173.18 " stroke="#c8304e" stroke-width="0.85" fill="none"/>
<text x="374.20" y="101.40" font-size="10.7" fill="#000" font-weight="bold" stroke="#000" stroke-width="0.1">F</text>
<text x="415.50" y="115.40" font-size="9.3" textLength="44.10" lengthAdjust="spacingAndGlyphs" stroke="#231f20" stroke-width="0.1">MOLM-13</text>
<text x="0" y="0" font-size="10.2" text-anchor="middle" transform="translate(388.30,149.7) rotate(-90)" textLength="67.5" lengthAdjust="spacingAndGlyphs" stroke="#231f20" stroke-width="0.1">Relative cell viability</text>
<line x1="403.50" y1="121.30" x2="403.50" y2="180.00" stroke="#231f20" stroke-width="1.2"/>
<line x1="402.90" y1="179.50" x2="471.30" y2="179.50" stroke="#231f20" stroke-width="1.2"/>
<line x1="400.30" y1="179.50" x2="403.50" y2="179.50" stroke="#231f20" stroke-width="1.1"/>
<text x="397.20" y="182.35" font-size="8.1" text-anchor="end" textLength="4.30" lengthAdjust="spacingAndGlyphs" stroke="#231f20" stroke-width="0.1">0</text>
<line x1="400.30" y1="165.60" x2="403.50" y2="165.60" stroke="#231f20" stroke-width="1.1"/>
<text x="397.20" y="168.45" font-size="8.1" text-anchor="end" textLength="4.30" lengthAdjust="spacingAndGlyphs" stroke="#231f20" stroke-width="0.1">2</text>
<line x1="400.30" y1="151.70" x2="403.50" y2="151.70" stroke="#231f20" stroke-width="1.1"/>
<text x="397.20" y="154.55" font-size="8.1" text-anchor="end" textLength="4.30" lengthAdjust="spacingAndGlyphs" stroke="#231f20" stroke-width="0.1">4</text>
<line x1="400.30" y1="137.80" x2="403.50" y2="137.80" stroke="#231f20" stroke-width="1.1"/>
<text x="397.20" y="140.65" font-size="8.1" text-anchor="end" textLength="4.30" lengthAdjust="spacingAndGlyphs" stroke="#231f20" stroke-width="0.1">6</text>
<line x1="400.30" y1="123.90" x2="403.50" y2="123.90" stroke="#231f20" stroke-width="1.1"/>
<text x="397.20" y="126.75" font-size="8.1" text-anchor="end" textLength="4.30" lengthAdjust="spacingAndGlyphs" stroke="#231f20" stroke-width="0.1">8</text>
<line x1="412.00" y1="179.50" x2="412.00" y2="182.70" stroke="#231f20" stroke-width="1.1"/>
<text x="412.00" y="192.80" font-size="8.1" text-anchor="middle" textLength="4.30" lengthAdjust="spacingAndGlyphs" stroke="#231f20" stroke-width="0.1">0</text>
<line x1="428.80" y1="179.50" x2="428.80" y2="182.70" stroke="#231f20" stroke-width="1.1"/>
<text x="428.80" y="192.80" font-size="8.1" text-anchor="middle" textLength="4.30" lengthAdjust="spacingAndGlyphs" stroke="#231f20" stroke-width="0.1">1</text>
<line x1="445.60" y1="179.50" x2="445.60" y2="182.70" stroke="#231f20" stroke-width="1.1"/>
<text x="445.60" y="192.80" font-size="8.1" text-anchor="middle" textLength="4.30" lengthAdjust="spacingAndGlyphs" stroke="#231f20" stroke-width="0.1">2</text>
<line x1="462.40" y1="179.50" x2="462.40" y2="182.70" stroke="#231f20" stroke-width="1.1"/>
<text x="462.40" y="192.80" font-size="8.1" text-anchor="middle" textLength="4.30" lengthAdjust="spacingAndGlyphs" stroke="#231f20" stroke-width="0.1">3</text>
<text x="438.70" y="205.60" font-size="8.9" text-anchor="middle" textLength="11.80" lengthAdjust="spacingAndGlyphs" stroke="#231f20" stroke-width="0.1">Day</text>
<path d="M412.00,172.55 L428.80,166.29 L445.60,152.05 L462.40,144.75" stroke="#b9c98c" fill="none" stroke-width="1.0"/>
<path d="M410.70,172.55 L412.00,171.25 L413.30,172.55 L412.00,173.85 Z" fill="#b9c98c"/>
<line x1="428.80" y1="165.60" x2="428.80" y2="166.99" stroke="#b9c98c" stroke-width="0.9"/>
<line x1="427.60" y1="165.60" x2="430.00" y2="165.60" stroke="#b9c98c" stroke-width="0.8"/>
<line x1="427.60" y1="166.99" x2="430.00" y2="166.99" stroke="#b9c98c" stroke-width="0.8"/>
<path d="M427.50,166.29 L428.80,164.99 L430.10,166.29 L428.80,167.59 Z" fill="#b9c98c"/>
<line x1="445.60" y1="150.31" x2="445.60" y2="153.79" stroke="#b9c98c" stroke-width="0.9"/>
<line x1="444.40" y1="150.31" x2="446.80" y2="150.31" stroke="#b9c98c" stroke-width="0.8"/>
<line x1="444.40" y1="153.79" x2="446.80" y2="153.79" stroke="#b9c98c" stroke-width="0.8"/>
<path d="M444.30,152.05 L445.60,150.75 L446.90,152.05 L445.60,153.35 Z" fill="#b9c98c"/>
<line x1="462.40" y1="142.66" x2="462.40" y2="146.84" stroke="#b9c98c" stroke-width="0.9"/>
<line x1="461.20" y1="142.66" x2="463.60" y2="142.66" stroke="#b9c98c" stroke-width="0.8"/>
<line x1="461.20" y1="146.84" x2="463.60" y2="146.84" stroke="#b9c98c" stroke-width="0.8"/>
<path d="M461.10,144.75 L462.40,143.45 L463.70,144.75 L462.40,146.05 Z" fill="#b9c98c"/>
<path d="M412.00,172.55 L428.80,169.77 L445.60,165.60 L462.40,161.43" stroke="#1e3f6f" fill="none" stroke-width="1.0"/>
<circle cx="412.00" cy="172.55" r="1.6" fill="#1e3f6f"/>
<line x1="428.80" y1="168.03" x2="428.80" y2="171.51" stroke="#1e3f6f" stroke-width="0.9"/>
<line x1="427.60" y1="168.03" x2="430.00" y2="168.03" stroke="#1e3f6f" stroke-width="0.8"/>
<line x1="427.60" y1="171.51" x2="430.00" y2="171.51" stroke="#1e3f6f" stroke-width="0.8"/>
<circle cx="428.80" cy="169.77" r="1.6" fill="#1e3f6f"/>
<line x1="445.60" y1="163.51" x2="445.60" y2="167.69" stroke="#1e3f6f" stroke-width="0.9"/>
<line x1="444.40" y1="163.51" x2="446.80" y2="163.51" stroke="#1e3f6f" stroke-width="0.8"/>
<line x1="444.40" y1="167.69" x2="446.80" y2="167.69" stroke="#1e3f6f" stroke-width="0.8"/>
<circle cx="445.60" cy="165.60" r="1.6" fill="#1e3f6f"/>
<line x1="462.40" y1="159.34" x2="462.40" y2="163.52" stroke="#1e3f6f" stroke-width="0.9"/>
<line x1="461.20" y1="159.34" x2="463.60" y2="159.34" stroke="#1e3f6f" stroke-width="0.8"/>
<line x1="461.20" y1="163.52" x2="463.60" y2="163.52" stroke="#1e3f6f" stroke-width="0.8"/>
<circle cx="462.40" cy="161.43" r="1.6" fill="#1e3f6f"/>
<path d="M412.00,172.55 L428.80,169.77 L445.60,165.60 L462.40,162.12" stroke="#c8203f" fill="none" stroke-width="1.0"/>
<path d="M410.20,173.75 L412.00,170.85 L413.80,173.75 Z" fill="#c8203f"/>
<line x1="428.80" y1="169.08" x2="428.80" y2="170.47" stroke="#c8203f" stroke-width="0.9"/>
<line x1="427.60" y1="169.08" x2="430.00" y2="169.08" stroke="#c8203f" stroke-width="0.8"/>
<line x1="427.60" y1="170.47" x2="430.00" y2="170.47" stroke="#c8203f" stroke-width="0.8"/>
<path d="M427.00,170.97 L428.80,168.07 L430.60,170.97 Z" fill="#c8203f"/>
<line x1="445.60" y1="164.91" x2="445.60" y2="166.29" stroke="#c8203f" stroke-width="0.9"/>
<line x1="444.40" y1="164.91" x2="446.80" y2="164.91" stroke="#c8203f" stroke-width="0.8"/>
<line x1="444.40" y1="166.29" x2="446.80" y2="166.29" stroke="#c8203f" stroke-width="0.8"/>
<path d="M443.80,166.80 L445.60,163.90 L447.40,166.80 Z" fill="#c8203f"/>
<line x1="462.40" y1="161.43" x2="462.40" y2="162.82" stroke="#c8203f" stroke-width="0.9"/>
<line x1="461.20" y1="161.43" x2="463.60" y2="161.43" stroke="#c8203f" stroke-width="0.8"/>
<line x1="461.20" y1="162.82" x2="463.60" y2="162.82" stroke="#c8203f" stroke-width="0.8"/>
<path d="M460.60,163.32 L462.40,160.43 L464.20,163.32 Z" fill="#c8203f"/>
<line x1="407.20" y1="128.60" x2="416.20" y2="128.60" stroke="#b9c98c" stroke-width="1.1"/>
<path d="M410.40,128.60 L411.70,127.30 L413.00,128.60 L411.70,129.90 Z" fill="#b9c98c"/>
<text x="419.40" y="130.40" font-size="7.5" textLength="11.70" lengthAdjust="spacingAndGlyphs" stroke="#231f20" stroke-width="0.1">Ctrl</text>
<line x1="407.20" y1="134.90" x2="416.20" y2="134.90" stroke="#1e3f6f" stroke-width="1.1"/>
<circle cx="411.70" cy="134.90" r="1.6" fill="#1e3f6f"/>
<text x="419.40" y="136.30" font-size="7.5" textLength="11.30" lengthAdjust="spacingAndGlyphs" stroke="#231f20" stroke-width="0.1">sg5</text>
<line x1="407.20" y1="141.30" x2="416.20" y2="141.30" stroke="#c8203f" stroke-width="1.1"/>
<path d="M409.90,142.50 L411.70,139.60 L413.50,142.50 Z" fill="#c8203f"/>
<text x="419.40" y="142.30" font-size="7.5" textLength="11.30" lengthAdjust="spacingAndGlyphs" stroke="#231f20" stroke-width="0.1">sg6</text>
<line x1="435.10" y1="125.70" x2="435.10" y2="142.60" stroke="#231f20" stroke-width="1.2"/>
<text x="437.90" y="136.60" font-size="7.4" textLength="15.90" lengthAdjust="spacingAndGlyphs" stroke="#231f20" stroke-width="0.1">HS-5</text>
<path d="M466.50,153.45 L466.50,156.55 M465.16,154.22 L467.84,155.78 M467.84,154.22 L465.16,155.78 " stroke="#2d4f80" stroke-width="0.85" fill="none"/>
<path d="M471.00,153.45 L471.00,156.55 M469.66,154.22 L472.34,155.78 M472.34,154.22 L469.66,155.78 " stroke="#2d4f80" stroke-width="0.85" fill="none"/>
<path d="M475.20,153.45 L475.20,156.55 M473.86,154.22 L476.54,155.78 M476.54,154.22 L473.86,155.78 " stroke="#2d4f80" stroke-width="0.85" fill="none"/>
<path d="M466.80,165.65 L466.80,168.75 M465.46,166.42 L468.14,167.97 M468.14,166.42 L465.46,167.97 " stroke="#c8304e" stroke-width="0.85" fill="none"/>
<path d="M471.30,165.65 L471.30,168.75 M469.96,166.42 L472.64,167.97 M472.64,166.42 L469.96,167.97 " stroke="#c8304e" stroke-width="0.85" fill="none"/>
<path d="M475.70,165.65 L475.70,168.75 M474.36,166.42 L477.04,167.97 M477.04,166.42 L474.36,167.97 " stroke="#c8304e" stroke-width="0.85" fill="none"/>
<text x="7.20" y="232.60" font-size="10.7" fill="#000" font-weight="bold" stroke="#000" stroke-width="0.1">G</text>
<text x="130.50" y="247.10" font-size="9.4" font-style="italic" textLength="12.30" lengthAdjust="spacingAndGlyphs" stroke="#231f20" stroke-width="0.1">ID1</text>
<text x="143.30" y="243.10" font-size="5.6" textLength="14.30" lengthAdjust="spacingAndGlyphs" stroke="#231f20" stroke-width="0.1">−/−</text>
<text x="160.80" y="247.10" font-size="9.4" textLength="20.40" lengthAdjust="spacingAndGlyphs" stroke="#231f20" stroke-width="0.1">HS-5</text>
<line x1="118.30" y1="251.30" x2="193.80" y2="251.30" stroke="#231f20" stroke-width="1.0"/>
<text x="64.60" y="261.60" font-size="8.2" textLength="12.60" lengthAdjust="spacingAndGlyphs" stroke="#231f20" stroke-width="0.1">Ctrl</text>
<text x="124.00" y="261.60" font-size="8.2" textLength="12.20" lengthAdjust="spacingAndGlyphs" stroke="#231f20" stroke-width="0.1">sg5</text>
<text x="181.40" y="261.60" font-size="8.2" textLength="12.80" lengthAdjust="spacingAndGlyphs" stroke="#231f20" stroke-width="0.1">sg6</text>
<text x="0" y="0" font-size="7.6" text-anchor="middle" transform="translate(39.6,292.5) rotate(-90)" textLength="32.4" lengthAdjust="spacingAndGlyphs" stroke="#231f20" stroke-width="0.1">Kasumi-1</text>
<text x="0" y="0" font-size="7.6" text-anchor="middle" transform="translate(39.6,350.3) rotate(-90)" textLength="28" lengthAdjust="spacingAndGlyphs" stroke="#231f20" stroke-width="0.1">SKNO-1</text>
<text x="0" y="0" font-size="7.6" text-anchor="middle" transform="translate(39.6,408.8) rotate(-90)" textLength="19.5" lengthAdjust="spacingAndGlyphs" stroke="#231f20" stroke-width="0.1">THP-1</text>
<text x="0" y="0" font-size="7.6" text-anchor="middle" transform="translate(39.6,468.2) rotate(-90)" textLength="37" lengthAdjust="spacingAndGlyphs" stroke="#231f20" stroke-width="0.1">MOLM-13</text>
<path d="M66.90,315.60 L66.90,307.10 L68.37,306.63 L69.84,307.26 L71.31,306.49 L72.78,307.12 L74.25,306.35 L75.72,306.98 L77.19,306.21 L78.66,306.84 L80.13,306.07 L81.60,306.70 L82.60,304.00 L85.60,311.20 L87.10,315.60 Z" stroke="#666" fill="#e0e3e8" stroke-width="0.55"/>
<path d="M64.50,286.16 L65.15,272.90 L65.65,272.90 L66.30,286.16 Z" stroke="#9a9a9a" fill="#e8e8e8" stroke-width="0.35"/>
<path d="M61.72,315.41 L62.03,315.17 L62.33,314.69 L62.64,313.80 L62.95,312.31 L63.25,310.00 L63.56,306.70 L63.87,302.44 L64.17,297.48 L64.48,292.36 L64.79,287.84 L65.09,284.72 L65.40,283.60 L65.71,284.72 L66.01,287.84 L66.32,292.36 L66.63,297.48 L66.93,302.44 L67.24,306.70 L67.55,310.00 L67.85,312.31 L68.16,313.80 L68.47,314.69 L68.77,315.17 L69.08,315.41 Z" stroke="none" fill="#cc1126" stroke-width="0.8"/>
<path d="M76.90,315.50 L77.37,315.40 L77.85,315.21 L78.32,314.90 L78.80,314.41 L79.27,313.70 L79.75,312.74 L80.22,311.57 L80.70,310.26 L81.17,308.96 L81.65,307.83 L82.12,307.07 L82.60,306.80 L83.07,307.07 L83.55,307.83 L84.02,308.96 L84.50,310.26 L84.97,311.57 L85.45,312.74 L85.92,313.70 L86.40,314.41 L86.88,314.90 L87.35,315.21 L87.83,315.40 L88.30,315.50 Z" stroke="none" fill="#cc1126" stroke-width="0.8"/>
<line x1="47.60" y1="267.10" x2="47.60" y2="316.20" stroke="#111" stroke-width="1.3"/>
<line x1="47.00" y1="315.60" x2="97.20" y2="315.60" stroke="#111" stroke-width="1.3"/>
<line x1="45.40" y1="309.00" x2="47.60" y2="309.00" stroke="#111" stroke-width="0.75"/>
<line x1="45.40" y1="302.37" x2="47.60" y2="302.37" stroke="#111" stroke-width="0.75"/>
<line x1="45.40" y1="295.74" x2="47.60" y2="295.74" stroke="#111" stroke-width="0.75"/>
<line x1="45.40" y1="289.11" x2="47.60" y2="289.11" stroke="#111" stroke-width="0.75"/>
<line x1="45.40" y1="282.48" x2="47.60" y2="282.48" stroke="#111" stroke-width="0.75"/>
<line x1="45.40" y1="275.85" x2="47.60" y2="275.85" stroke="#111" stroke-width="0.75"/>
<line x1="45.40" y1="269.22" x2="47.60" y2="269.22" stroke="#111" stroke-width="0.75"/>
<line x1="47.60" y1="315.60" x2="47.60" y2="318.00" stroke="#111" stroke-width="0.8"/>
<line x1="49.90" y1="315.60" x2="49.90" y2="316.90" stroke="#111" stroke-width="0.55"/>
<line x1="52.20" y1="315.60" x2="52.20" y2="316.90" stroke="#111" stroke-width="0.55"/>
<line x1="54.50" y1="315.60" x2="54.50" y2="316.90" stroke="#111" stroke-width="0.55"/>
<line x1="56.80" y1="315.60" x2="56.80" y2="318.00" stroke="#111" stroke-width="0.8"/>
<line x1="59.10" y1="315.60" x2="59.10" y2="316.90" stroke="#111" stroke-width="0.55"/>
<line x1="61.40" y1="315.60" x2="61.40" y2="316.90" stroke="#111" stroke-width="0.55"/>
<line x1="63.70" y1="315.60" x2="63.70" y2="316.90" stroke="#111" stroke-width="0.55"/>
<line x1="66.00" y1="315.60" x2="66.00" y2="318.00" stroke="#111" stroke-width="0.8"/>
<line x1="68.30" y1="315.60" x2="68.30" y2="316.90" stroke="#111" stroke-width="0.55"/>
<line x1="70.60" y1="315.60" x2="70.60" y2="316.90" stroke="#111" stroke-width="0.55"/>
<line x1="72.90" y1="315.60" x2="72.90" y2="316.90" stroke="#111" stroke-width="0.55"/>
<line x1="75.20" y1="315.60" x2="75.20" y2="318.00" stroke="#111" stroke-width="0.8"/>
<line x1="77.50" y1="315.60" x2="77.50" y2="316.90" stroke="#111" stroke-width="0.55"/>
<line x1="79.80" y1="315.60" x2="79.80" y2="316.90" stroke="#111" stroke-width="0.55"/>
<line x1="82.10" y1="315.60" x2="82.10" y2="316.90" stroke="#111" stroke-width="0.55"/>
<line x1="84.40" y1="315.60" x2="84.40" y2="318.00" stroke="#111" stroke-width="0.8"/>
<line x1="86.70" y1="315.60" x2="86.70" y2="316.90" stroke="#111" stroke-width="0.55"/>
<line x1="89.00" y1="315.60" x2="89.00" y2="316.90" stroke="#111" stroke-width="0.55"/>
<line x1="91.30" y1="315.60" x2="91.30" y2="316.90" stroke="#111" stroke-width="0.55"/>
<line x1="93.60" y1="315.60" x2="93.60" y2="318.00" stroke="#111" stroke-width="0.8"/>
<line x1="95.90" y1="315.60" x2="95.90" y2="316.90" stroke="#111" stroke-width="0.55"/>
<path d="M124.10,315.60 L124.10,308.40 L125.63,308.12 L127.16,308.94 L128.69,308.36 L130.22,309.18 L131.75,308.60 L133.28,309.42 L134.81,308.84 L136.34,309.66 L137.87,309.08 L139.40,309.90 L140.40,310.00 L143.40,313.30 L144.90,315.60 Z" stroke="#666" fill="#e0e3e8" stroke-width="0.55"/>
<path d="M121.70,284.32 L122.35,274.30 L122.85,274.30 L123.50,284.32 Z" stroke="#9a9a9a" fill="#e8e8e8" stroke-width="0.35"/>
<path d="M118.92,315.40 L119.23,315.14 L119.53,314.63 L119.84,313.69 L120.15,312.11 L120.45,309.65 L120.76,306.15 L121.07,301.62 L121.37,296.35 L121.68,290.91 L121.99,286.11 L122.29,282.79 L122.60,281.60 L122.91,282.79 L123.21,286.11 L123.52,290.91 L123.83,296.35 L124.13,301.62 L124.44,306.15 L124.75,309.65 L125.05,312.11 L125.36,313.69 L125.67,314.63 L125.97,315.14 L126.28,315.40 Z" stroke="none" fill="#cc1126" stroke-width="0.8"/>
<path d="M134.70,315.55 L135.18,315.50 L135.65,315.40 L136.12,315.23 L136.60,314.98 L137.08,314.61 L137.55,314.11 L138.03,313.49 L138.50,312.81 L138.98,312.13 L139.45,311.54 L139.93,311.14 L140.40,311.00 L140.88,311.14 L141.35,311.54 L141.82,312.13 L142.30,312.81 L142.78,313.49 L143.25,314.11 L143.72,314.61 L144.20,314.98 L144.68,315.23 L145.15,315.40 L145.62,315.50 L146.10,315.55 Z" stroke="none" fill="#cc1126" stroke-width="0.8"/>
<line x1="104.90" y1="267.10" x2="104.90" y2="316.20" stroke="#111" stroke-width="1.3"/>
<line x1="104.30" y1="315.60" x2="154.50" y2="315.60" stroke="#111" stroke-width="1.3"/>
<line x1="102.70" y1="309.00" x2="104.90" y2="309.00" stroke="#111" stroke-width="0.75"/>
<line x1="102.70" y1="302.37" x2="104.90" y2="302.37" stroke="#111" stroke-width="0.75"/>
<line x1="102.70" y1="295.74" x2="104.90" y2="295.74" stroke="#111" stroke-width="0.75"/>
<line x1="102.70" y1="289.11" x2="104.90" y2="289.11" stroke="#111" stroke-width="0.75"/>
<line x1="102.70" y1="282.48" x2="104.90" y2="282.48" stroke="#111" stroke-width="0.75"/>
<line x1="102.70" y1="275.85" x2="104.90" y2="275.85" stroke="#111" stroke-width="0.75"/>
<line x1="102.70" y1="269.22" x2="104.90" y2="269.22" stroke="#111" stroke-width="0.75"/>
<line x1="104.90" y1="315.60" x2="104.90" y2="318.00" stroke="#111" stroke-width="0.8"/>
<line x1="107.20" y1="315.60" x2="107.20" y2="316.90" stroke="#111" stroke-width="0.55"/>
<line x1="109.50" y1="315.60" x2="109.50" y2="316.90" stroke="#111" stroke-width="0.55"/>
<line x1="111.80" y1="315.60" x2="111.80" y2="316.90" stroke="#111" stroke-width="0.55"/>
<line x1="114.10" y1="315.60" x2="114.10" y2="318.00" stroke="#111" stroke-width="0.8"/>
<line x1="116.40" y1="315.60" x2="116.40" y2="316.90" stroke="#111" stroke-width="0.55"/>
<line x1="118.70" y1="315.60" x2="118.70" y2="316.90" stroke="#111" stroke-width="0.55"/>
<line x1="121.00" y1="315.60" x2="121.00" y2="316.90" stroke="#111" stroke-width="0.55"/>
<line x1="123.30" y1="315.60" x2="123.30" y2="318.00" stroke="#111" stroke-width="0.8"/>
<line x1="125.60" y1="315.60" x2="125.60" y2="316.90" stroke="#111" stroke-width="0.55"/>
<line x1="127.90" y1="315.60" x2="127.90" y2="316.90" stroke="#111" stroke-width="0.55"/>
<line x1="130.20" y1="315.60" x2="130.20" y2="316.90" stroke="#111" stroke-width="0.55"/>
<line x1="132.50" y1="315.60" x2="132.50" y2="318.00" stroke="#111" stroke-width="0.8"/>
<line x1="134.80" y1="315.60" x2="134.80" y2="316.90" stroke="#111" stroke-width="0.55"/>
<line x1="137.10" y1="315.60" x2="137.10" y2="316.90" stroke="#111" stroke-width="0.55"/>
<line x1="139.40" y1="315.60" x2="139.40" y2="316.90" stroke="#111" stroke-width="0.55"/>
<line x1="141.70" y1="315.60" x2="141.70" y2="318.00" stroke="#111" stroke-width="0.8"/>
<line x1="144.00" y1="315.60" x2="144.00" y2="316.90" stroke="#111" stroke-width="0.55"/>
<line x1="146.30" y1="315.60" x2="146.30" y2="316.90" stroke="#111" stroke-width="0.55"/>
<line x1="148.60" y1="315.60" x2="148.60" y2="316.90" stroke="#111" stroke-width="0.55"/>
<line x1="150.90" y1="315.60" x2="150.90" y2="318.00" stroke="#111" stroke-width="0.8"/>
<line x1="153.20" y1="315.60" x2="153.20" y2="316.90" stroke="#111" stroke-width="0.55"/>
<path d="M182.30,315.60 L182.30,309.60 L183.90,309.30 L185.50,310.10 L187.10,309.50 L188.70,310.30 L190.30,309.70 L191.90,310.50 L193.50,309.90 L195.10,310.70 L196.70,310.10 L198.30,310.90 L199.30,311.20 L202.30,313.80 L203.80,315.60 Z" stroke="#666" fill="#e0e3e8" stroke-width="0.55"/>
<path d="M179.90,283.40 L180.55,272.80 L181.05,272.80 L181.70,283.40 Z" stroke="#9a9a9a" fill="#e8e8e8" stroke-width="0.35"/>
<path d="M177.12,315.39 L177.43,315.13 L177.73,314.60 L178.04,313.64 L178.35,312.00 L178.65,309.47 L178.96,305.87 L179.27,301.21 L179.57,295.78 L179.88,290.18 L180.19,285.24 L180.49,281.82 L180.80,280.60 L181.11,281.82 L181.41,285.24 L181.72,290.18 L182.03,295.78 L182.33,301.21 L182.64,305.87 L182.95,309.47 L183.25,312.00 L183.56,313.64 L183.87,314.60 L184.17,315.13 L184.48,315.39 Z" stroke="none" fill="#cc1126" stroke-width="0.8"/>
<path d="M193.60,315.56 L194.08,315.52 L194.55,315.44 L195.03,315.31 L195.50,315.11 L195.98,314.82 L196.45,314.43 L196.93,313.95 L197.40,313.42 L197.88,312.88 L198.35,312.42 L198.83,312.11 L199.30,312.00 L199.78,312.11 L200.25,312.42 L200.73,312.88 L201.20,313.42 L201.68,313.95 L202.15,314.43 L202.62,314.82 L203.10,315.11 L203.57,315.31 L204.05,315.44 L204.53,315.52 L205.00,315.56 Z" stroke="none" fill="#cc1126" stroke-width="0.8"/>
<line x1="162.00" y1="267.10" x2="162.00" y2="316.20" stroke="#111" stroke-width="1.3"/>
<line x1="161.40" y1="315.60" x2="211.60" y2="315.60" stroke="#111" stroke-width="1.3"/>
<line x1="159.80" y1="309.00" x2="162.00" y2="309.00" stroke="#111" stroke-width="0.75"/>
<line x1="159.80" y1="302.37" x2="162.00" y2="302.37" stroke="#111" stroke-width="0.75"/>
<line x1="159.80" y1="295.74" x2="162.00" y2="295.74" stroke="#111" stroke-width="0.75"/>
<line x1="159.80" y1="289.11" x2="162.00" y2="289.11" stroke="#111" stroke-width="0.75"/>
<line x1="159.80" y1="282.48" x2="162.00" y2="282.48" stroke="#111" stroke-width="0.75"/>
<line x1="159.80" y1="275.85" x2="162.00" y2="275.85" stroke="#111" stroke-width="0.75"/>
<line x1="159.80" y1="269.22" x2="162.00" y2="269.22" stroke="#111" stroke-width="0.75"/>
<line x1="162.00" y1="315.60" x2="162.00" y2="318.00" stroke="#111" stroke-width="0.8"/>
<line x1="164.30" y1="315.60" x2="164.30" y2="316.90" stroke="#111" stroke-width="0.55"/>
<line x1="166.60" y1="315.60" x2="166.60" y2="316.90" stroke="#111" stroke-width="0.55"/>
<line x1="168.90" y1="315.60" x2="168.90" y2="316.90" stroke="#111" stroke-width="0.55"/>
<line x1="171.20" y1="315.60" x2="171.20" y2="318.00" stroke="#111" stroke-width="0.8"/>
<line x1="173.50" y1="315.60" x2="173.50" y2="316.90" stroke="#111" stroke-width="0.55"/>
<line x1="175.80" y1="315.60" x2="175.80" y2="316.90" stroke="#111" stroke-width="0.55"/>
<line x1="178.10" y1="315.60" x2="178.10" y2="316.90" stroke="#111" stroke-width="0.55"/>
<line x1="180.40" y1="315.60" x2="180.40" y2="318.00" stroke="#111" stroke-width="0.8"/>
<line x1="182.70" y1="315.60" x2="182.70" y2="316.90" stroke="#111" stroke-width="0.55"/>
<line x1="185.00" y1="315.60" x2="185.00" y2="316.90" stroke="#111" stroke-width="0.55"/>
<line x1="187.30" y1="315.60" x2="187.30" y2="316.90" stroke="#111" stroke-width="0.55"/>
<line x1="189.60" y1="315.60" x2="189.60" y2="318.00" stroke="#111" stroke-width="0.8"/>
<line x1="191.90" y1="315.60" x2="191.90" y2="316.90" stroke="#111" stroke-width="0.55"/>
<line x1="194.20" y1="315.60" x2="194.20" y2="316.90" stroke="#111" stroke-width="0.55"/>
<line x1="196.50" y1="315.60" x2="196.50" y2="316.90" stroke="#111" stroke-width="0.55"/>
<line x1="198.80" y1="315.60" x2="198.80" y2="318.00" stroke="#111" stroke-width="0.8"/>
<line x1="201.10" y1="315.60" x2="201.10" y2="316.90" stroke="#111" stroke-width="0.55"/>
<line x1="203.40" y1="315.60" x2="203.40" y2="316.90" stroke="#111" stroke-width="0.55"/>
<line x1="205.70" y1="315.60" x2="205.70" y2="316.90" stroke="#111" stroke-width="0.55"/>
<line x1="208.00" y1="315.60" x2="208.00" y2="318.00" stroke="#111" stroke-width="0.8"/>
<line x1="210.30" y1="315.60" x2="210.30" y2="316.90" stroke="#111" stroke-width="0.55"/>
<path d="M67.10,374.40 L67.10,367.40 L68.62,366.96 L70.14,367.62 L71.66,366.88 L73.18,367.54 L74.70,366.80 L76.22,367.46 L77.74,366.72 L79.26,367.38 L80.78,366.64 L82.30,367.30 L83.30,366.90 L86.30,372.10 L87.80,374.40 Z" stroke="#666" fill="#e0e3e8" stroke-width="0.55"/>
<path d="M64.70,346.62 L65.35,335.00 L65.85,335.00 L66.50,346.62 Z" stroke="#9a9a9a" fill="#e8e8e8" stroke-width="0.35"/>
<path d="M60.82,374.22 L61.21,373.99 L61.61,373.54 L62.01,372.70 L62.41,371.30 L62.81,369.11 L63.21,366.00 L63.61,361.98 L64.01,357.30 L64.40,352.47 L64.80,348.20 L65.20,345.25 L65.60,344.20 L66.00,345.25 L66.40,348.20 L66.80,352.47 L67.19,357.30 L67.59,361.98 L67.99,366.00 L68.39,369.11 L68.79,371.30 L69.19,372.70 L69.59,373.54 L69.99,373.99 L70.38,374.22 Z" stroke="none" fill="#cc1126" stroke-width="0.8"/>
<path d="M77.90,374.35 L78.35,374.30 L78.80,374.20 L79.25,374.03 L79.70,373.78 L80.15,373.41 L80.60,372.91 L81.05,372.29 L81.50,371.61 L81.95,370.93 L82.40,370.34 L82.85,369.94 L83.30,369.80 L83.75,369.94 L84.20,370.34 L84.65,370.93 L85.10,371.61 L85.55,372.29 L86.00,372.91 L86.45,373.41 L86.90,373.78 L87.35,374.03 L87.80,374.20 L88.25,374.30 L88.70,374.35 Z" stroke="none" fill="#cc1126" stroke-width="0.8"/>
<line x1="47.60" y1="325.90" x2="47.60" y2="375.00" stroke="#111" stroke-width="1.3"/>
<line x1="47.00" y1="374.40" x2="97.20" y2="374.40" stroke="#111" stroke-width="1.3"/>
<line x1="45.40" y1="367.80" x2="47.60" y2="367.80" stroke="#111" stroke-width="0.75"/>
<line x1="45.40" y1="361.17" x2="47.60" y2="361.17" stroke="#111" stroke-width="0.75"/>
<line x1="45.40" y1="354.54" x2="47.60" y2="354.54" stroke="#111" stroke-width="0.75"/>
<line x1="45.40" y1="347.91" x2="47.60" y2="347.91" stroke="#111" stroke-width="0.75"/>
<line x1="45.40" y1="341.28" x2="47.60" y2="341.28" stroke="#111" stroke-width="0.75"/>
<line x1="45.40" y1="334.65" x2="47.60" y2="334.65" stroke="#111" stroke-width="0.75"/>
<line x1="45.40" y1="328.02" x2="47.60" y2="328.02" stroke="#111" stroke-width="0.75"/>
<line x1="47.60" y1="374.40" x2="47.60" y2="376.80" stroke="#111" stroke-width="0.8"/>
<line x1="50.48" y1="374.40" x2="50.48" y2="375.70" stroke="#111" stroke-width="0.55"/>
<line x1="53.35" y1="374.40" x2="53.35" y2="375.70" stroke="#111" stroke-width="0.55"/>
<line x1="56.23" y1="374.40" x2="56.23" y2="375.70" stroke="#111" stroke-width="0.55"/>
<line x1="59.10" y1="374.40" x2="59.10" y2="376.80" stroke="#111" stroke-width="0.8"/>
<line x1="61.98" y1="374.40" x2="61.98" y2="375.70" stroke="#111" stroke-width="0.55"/>
<line x1="64.85" y1="374.40" x2="64.85" y2="375.70" stroke="#111" stroke-width="0.55"/>
<line x1="67.72" y1="374.40" x2="67.72" y2="375.70" stroke="#111" stroke-width="0.55"/>
<line x1="70.60" y1="374.40" x2="70.60" y2="376.80" stroke="#111" stroke-width="0.8"/>
<line x1="73.47" y1="374.40" x2="73.47" y2="375.70" stroke="#111" stroke-width="0.55"/>
<line x1="76.35" y1="374.40" x2="76.35" y2="375.70" stroke="#111" stroke-width="0.55"/>
<line x1="79.22" y1="374.40" x2="79.22" y2="375.70" stroke="#111" stroke-width="0.55"/>
<line x1="82.10" y1="374.40" x2="82.10" y2="376.80" stroke="#111" stroke-width="0.8"/>
<line x1="84.97" y1="374.40" x2="84.97" y2="375.70" stroke="#111" stroke-width="0.55"/>
<line x1="87.85" y1="374.40" x2="87.85" y2="375.70" stroke="#111" stroke-width="0.55"/>
<line x1="90.72" y1="374.40" x2="90.72" y2="375.70" stroke="#111" stroke-width="0.55"/>
<line x1="93.60" y1="374.40" x2="93.60" y2="376.80" stroke="#111" stroke-width="0.8"/>
<line x1="96.47" y1="374.40" x2="96.47" y2="375.70" stroke="#111" stroke-width="0.55"/>
<path d="M125.00,374.40 L125.00,369.40 L126.60,369.18 L128.20,370.06 L129.80,369.54 L131.40,370.42 L133.00,369.90 L134.60,370.78 L136.20,370.26 L137.80,371.14 L139.40,370.62 L141.00,371.50 L142.00,371.80 L145.00,373.50 L146.50,374.40 Z" stroke="#666" fill="#e0e3e8" stroke-width="0.55"/>
<path d="M122.60,342.57 L123.25,330.60 L123.75,330.60 L124.40,342.57 Z" stroke="#9a9a9a" fill="#e8e8e8" stroke-width="0.35"/>
<path d="M117.61,374.19 L118.10,373.93 L118.59,373.41 L119.08,372.46 L119.57,370.85 L120.07,368.34 L120.56,364.78 L121.05,360.18 L121.54,354.81 L122.03,349.28 L122.52,344.39 L123.01,341.01 L123.50,339.80 L123.99,341.01 L124.48,344.39 L124.97,349.28 L125.46,354.81 L125.95,360.18 L126.44,364.78 L126.93,368.34 L127.43,370.85 L127.92,372.46 L128.41,373.41 L128.90,373.93 L129.39,374.19 Z" stroke="none" fill="#cc1126" stroke-width="0.8"/>
<path d="M136.60,374.38 L137.05,374.36 L137.50,374.32 L137.95,374.26 L138.40,374.16 L138.85,374.01 L139.30,373.82 L139.75,373.58 L140.20,373.31 L140.65,373.04 L141.10,372.81 L141.55,372.66 L142.00,372.60 L142.45,372.66 L142.90,372.81 L143.35,373.04 L143.80,373.31 L144.25,373.58 L144.70,373.82 L145.15,374.01 L145.60,374.16 L146.05,374.26 L146.50,374.32 L146.95,374.36 L147.40,374.38 Z" stroke="none" fill="#cc1126" stroke-width="0.8"/>
<line x1="104.90" y1="325.90" x2="104.90" y2="375.00" stroke="#111" stroke-width="1.3"/>
<line x1="104.30" y1="374.40" x2="154.50" y2="374.40" stroke="#111" stroke-width="1.3"/>
<line x1="102.70" y1="367.80" x2="104.90" y2="367.80" stroke="#111" stroke-width="0.75"/>
<line x1="102.70" y1="361.17" x2="104.90" y2="361.17" stroke="#111" stroke-width="0.75"/>
<line x1="102.70" y1="354.54" x2="104.90" y2="354.54" stroke="#111" stroke-width="0.75"/>
<line x1="102.70" y1="347.91" x2="104.90" y2="347.91" stroke="#111" stroke-width="0.75"/>
<line x1="102.70" y1="341.28" x2="104.90" y2="341.28" stroke="#111" stroke-width="0.75"/>
<line x1="102.70" y1="334.65" x2="104.90" y2="334.65" stroke="#111" stroke-width="0.75"/>
<line x1="102.70" y1="328.02" x2="104.90" y2="328.02" stroke="#111" stroke-width="0.75"/>
<line x1="104.90" y1="374.40" x2="104.90" y2="376.80" stroke="#111" stroke-width="0.8"/>
<line x1="107.78" y1="374.40" x2="107.78" y2="375.70" stroke="#111" stroke-width="0.55"/>
<line x1="110.65" y1="374.40" x2="110.65" y2="375.70" stroke="#111" stroke-width="0.55"/>
<line x1="113.53" y1="374.40" x2="113.53" y2="375.70" stroke="#111" stroke-width="0.55"/>
<line x1="116.40" y1="374.40" x2="116.40" y2="376.80" stroke="#111" stroke-width="0.8"/>
<line x1="119.28" y1="374.40" x2="119.28" y2="375.70" stroke="#111" stroke-width="0.55"/>
<line x1="122.15" y1="374.40" x2="122.15" y2="375.70" stroke="#111" stroke-width="0.55"/>
<line x1="125.03" y1="374.40" x2="125.03" y2="375.70" stroke="#111" stroke-width="0.55"/>
<line x1="127.90" y1="374.40" x2="127.90" y2="376.80" stroke="#111" stroke-width="0.8"/>
<line x1="130.78" y1="374.40" x2="130.78" y2="375.70" stroke="#111" stroke-width="0.55"/>
<line x1="133.65" y1="374.40" x2="133.65" y2="375.70" stroke="#111" stroke-width="0.55"/>
<line x1="136.53" y1="374.40" x2="136.53" y2="375.70" stroke="#111" stroke-width="0.55"/>
<line x1="139.40" y1="374.40" x2="139.40" y2="376.80" stroke="#111" stroke-width="0.8"/>
<line x1="142.28" y1="374.40" x2="142.28" y2="375.70" stroke="#111" stroke-width="0.55"/>
<line x1="145.15" y1="374.40" x2="145.15" y2="375.70" stroke="#111" stroke-width="0.55"/>
<line x1="148.03" y1="374.40" x2="148.03" y2="375.70" stroke="#111" stroke-width="0.55"/>
<line x1="150.90" y1="374.40" x2="150.90" y2="376.80" stroke="#111" stroke-width="0.8"/>
<line x1="153.78" y1="374.40" x2="153.78" y2="375.70" stroke="#111" stroke-width="0.55"/>
<path d="M181.10,374.40 L181.10,369.90 L182.59,369.65 L184.08,370.50 L185.57,369.95 L187.06,370.80 L188.55,370.25 L190.04,371.10 L191.53,370.55 L193.02,371.40 L194.51,370.85 L196.00,371.70 L197.00,371.80 L200.00,373.40 L201.50,374.40 Z" stroke="#666" fill="#e0e3e8" stroke-width="0.55"/>
<path d="M178.70,344.78 L179.35,334.40 L179.85,334.40 L180.50,344.78 Z" stroke="#9a9a9a" fill="#e8e8e8" stroke-width="0.35"/>
<path d="M174.08,374.21 L174.54,373.96 L175.00,373.48 L175.46,372.59 L175.92,371.09 L176.38,368.76 L176.84,365.45 L177.30,361.16 L177.76,356.17 L178.22,351.02 L178.68,346.47 L179.14,343.32 L179.60,342.20 L180.06,343.32 L180.52,346.47 L180.98,351.02 L181.44,356.17 L181.90,361.16 L182.36,365.45 L182.82,368.76 L183.28,371.09 L183.74,372.59 L184.20,373.48 L184.66,373.96 L185.12,374.21 Z" stroke="none" fill="#cc1126" stroke-width="0.8"/>
<path d="M191.60,374.38 L192.05,374.35 L192.50,374.31 L192.95,374.24 L193.40,374.13 L193.85,373.97 L194.30,373.75 L194.75,373.48 L195.20,373.19 L195.65,372.89 L196.10,372.64 L196.55,372.46 L197.00,372.40 L197.45,372.46 L197.90,372.64 L198.35,372.89 L198.80,373.19 L199.25,373.48 L199.70,373.75 L200.15,373.97 L200.60,374.13 L201.05,374.24 L201.50,374.31 L201.95,374.35 L202.40,374.38 Z" stroke="none" fill="#cc1126" stroke-width="0.8"/>
<line x1="162.00" y1="325.90" x2="162.00" y2="375.00" stroke="#111" stroke-width="1.3"/>
<line x1="161.40" y1="374.40" x2="211.60" y2="374.40" stroke="#111" stroke-width="1.3"/>
<line x1="159.80" y1="367.80" x2="162.00" y2="367.80" stroke="#111" stroke-width="0.75"/>
<line x1="159.80" y1="361.17" x2="162.00" y2="361.17" stroke="#111" stroke-width="0.75"/>
<line x1="159.80" y1="354.54" x2="162.00" y2="354.54" stroke="#111" stroke-width="0.75"/>
<line x1="159.80" y1="347.91" x2="162.00" y2="347.91" stroke="#111" stroke-width="0.75"/>
<line x1="159.80" y1="341.28" x2="162.00" y2="341.28" stroke="#111" stroke-width="0.75"/>
<line x1="159.80" y1="334.65" x2="162.00" y2="334.65" stroke="#111" stroke-width="0.75"/>
<line x1="159.80" y1="328.02" x2="162.00" y2="328.02" stroke="#111" stroke-width="0.75"/>
<line x1="162.00" y1="374.40" x2="162.00" y2="376.80" stroke="#111" stroke-width="0.8"/>
<line x1="164.88" y1="374.40" x2="164.88" y2="375.70" stroke="#111" stroke-width="0.55"/>
<line x1="167.75" y1="374.40" x2="167.75" y2="375.70" stroke="#111" stroke-width="0.55"/>
<line x1="170.62" y1="374.40" x2="170.62" y2="375.70" stroke="#111" stroke-width="0.55"/>
<line x1="173.50" y1="374.40" x2="173.50" y2="376.80" stroke="#111" stroke-width="0.8"/>
<line x1="176.38" y1="374.40" x2="176.38" y2="375.70" stroke="#111" stroke-width="0.55"/>
<line x1="179.25" y1="374.40" x2="179.25" y2="375.70" stroke="#111" stroke-width="0.55"/>
<line x1="182.12" y1="374.40" x2="182.12" y2="375.70" stroke="#111" stroke-width="0.55"/>
<line x1="185.00" y1="374.40" x2="185.00" y2="376.80" stroke="#111" stroke-width="0.8"/>
<line x1="187.88" y1="374.40" x2="187.88" y2="375.70" stroke="#111" stroke-width="0.55"/>
<line x1="190.75" y1="374.40" x2="190.75" y2="375.70" stroke="#111" stroke-width="0.55"/>
<line x1="193.62" y1="374.40" x2="193.62" y2="375.70" stroke="#111" stroke-width="0.55"/>
<line x1="196.50" y1="374.40" x2="196.50" y2="376.80" stroke="#111" stroke-width="0.8"/>
<line x1="199.38" y1="374.40" x2="199.38" y2="375.70" stroke="#111" stroke-width="0.55"/>
<line x1="202.25" y1="374.40" x2="202.25" y2="375.70" stroke="#111" stroke-width="0.55"/>
<line x1="205.12" y1="374.40" x2="205.12" y2="375.70" stroke="#111" stroke-width="0.55"/>
<line x1="208.00" y1="374.40" x2="208.00" y2="376.80" stroke="#111" stroke-width="0.8"/>
<line x1="210.88" y1="374.40" x2="210.88" y2="375.70" stroke="#111" stroke-width="0.55"/>
<path d="M63.50,433.30 L63.50,421.80 L64.75,421.50 L66.00,422.30 L67.25,421.70 L68.50,422.50 L69.75,421.90 L71.00,422.70 L72.25,422.10 L73.50,422.90 L74.75,422.30 L76.00,423.10 L77.00,417.90 L80.00,427.50 L81.50,433.30 Z" stroke="#666" fill="#e0e3e8" stroke-width="0.55"/>
<path d="M61.10,401.47 L61.75,388.10 L62.25,388.10 L62.90,401.47 Z" stroke="#9a9a9a" fill="#e8e8e8" stroke-width="0.35"/>
<path d="M57.95,433.09 L58.29,432.83 L58.63,432.31 L58.96,431.36 L59.30,429.75 L59.64,427.24 L59.98,423.68 L60.31,419.08 L60.65,413.71 L60.99,408.18 L61.33,403.29 L61.66,399.91 L62.00,398.70 L62.34,399.91 L62.67,403.29 L63.01,408.18 L63.35,413.71 L63.69,419.08 L64.02,423.68 L64.36,427.24 L64.70,429.75 L65.04,431.36 L65.37,432.31 L65.71,432.83 L66.05,433.09 Z" stroke="none" fill="#cc1126" stroke-width="0.8"/>
<path d="M70.40,433.17 L70.95,433.04 L71.50,432.79 L72.05,432.38 L72.60,431.73 L73.15,430.79 L73.70,429.53 L74.25,427.99 L74.80,426.26 L75.35,424.54 L75.90,423.06 L76.45,422.06 L77.00,421.70 L77.55,422.06 L78.10,423.06 L78.65,424.54 L79.20,426.26 L79.75,427.99 L80.30,429.53 L80.85,430.79 L81.40,431.73 L81.95,432.38 L82.50,432.79 L83.05,433.04 L83.60,433.17 Z" stroke="none" fill="#cc1126" stroke-width="0.8"/>
<line x1="47.60" y1="384.80" x2="47.60" y2="433.90" stroke="#111" stroke-width="1.3"/>
<line x1="47.00" y1="433.30" x2="97.20" y2="433.30" stroke="#111" stroke-width="1.3"/>
<line x1="45.40" y1="426.70" x2="47.60" y2="426.70" stroke="#111" stroke-width="0.75"/>
<line x1="45.40" y1="420.07" x2="47.60" y2="420.07" stroke="#111" stroke-width="0.75"/>
<line x1="45.40" y1="413.44" x2="47.60" y2="413.44" stroke="#111" stroke-width="0.75"/>
<line x1="45.40" y1="406.81" x2="47.60" y2="406.81" stroke="#111" stroke-width="0.75"/>
<line x1="45.40" y1="400.18" x2="47.60" y2="400.18" stroke="#111" stroke-width="0.75"/>
<line x1="45.40" y1="393.55" x2="47.60" y2="393.55" stroke="#111" stroke-width="0.75"/>
<line x1="45.40" y1="386.92" x2="47.60" y2="386.92" stroke="#111" stroke-width="0.75"/>
<line x1="47.60" y1="433.30" x2="47.60" y2="435.70" stroke="#111" stroke-width="0.8"/>
<line x1="50.77" y1="433.30" x2="50.77" y2="434.60" stroke="#111" stroke-width="0.55"/>
<line x1="53.95" y1="433.30" x2="53.95" y2="434.60" stroke="#111" stroke-width="0.55"/>
<line x1="57.12" y1="433.30" x2="57.12" y2="434.60" stroke="#111" stroke-width="0.55"/>
<line x1="60.30" y1="433.30" x2="60.30" y2="435.70" stroke="#111" stroke-width="0.8"/>
<line x1="63.48" y1="433.30" x2="63.48" y2="434.60" stroke="#111" stroke-width="0.55"/>
<line x1="66.65" y1="433.30" x2="66.65" y2="434.60" stroke="#111" stroke-width="0.55"/>
<line x1="69.83" y1="433.30" x2="69.83" y2="434.60" stroke="#111" stroke-width="0.55"/>
<line x1="73.00" y1="433.30" x2="73.00" y2="435.70" stroke="#111" stroke-width="0.8"/>
<line x1="76.17" y1="433.30" x2="76.17" y2="434.60" stroke="#111" stroke-width="0.55"/>
<line x1="79.35" y1="433.30" x2="79.35" y2="434.60" stroke="#111" stroke-width="0.55"/>
<line x1="82.53" y1="433.30" x2="82.53" y2="434.60" stroke="#111" stroke-width="0.55"/>
<line x1="85.70" y1="433.30" x2="85.70" y2="435.70" stroke="#111" stroke-width="0.8"/>
<line x1="88.88" y1="433.30" x2="88.88" y2="434.60" stroke="#111" stroke-width="0.55"/>
<line x1="92.05" y1="433.30" x2="92.05" y2="434.60" stroke="#111" stroke-width="0.55"/>
<line x1="95.22" y1="433.30" x2="95.22" y2="434.60" stroke="#111" stroke-width="0.55"/>
<path d="M125.70,433.30 L125.70,427.00 L127.37,426.63 L129.04,427.36 L130.71,426.69 L132.38,427.42 L134.05,426.75 L135.72,427.48 L137.39,426.81 L139.06,427.54 L140.73,426.87 L142.40,427.60 L143.40,425.50 L146.40,430.15 L147.90,433.30 Z" stroke="#666" fill="#e0e3e8" stroke-width="0.55"/>
<path d="M123.30,399.26 L123.95,394.10 L124.45,394.10 L125.10,399.26 Z" stroke="#9a9a9a" fill="#e8e8e8" stroke-width="0.35"/>
<path d="M119.78,433.08 L120.15,432.80 L120.52,432.24 L120.89,431.22 L121.26,429.50 L121.62,426.82 L121.99,423.01 L122.36,418.09 L122.73,412.35 L123.10,406.43 L123.46,401.21 L123.83,397.59 L124.20,396.30 L124.57,397.59 L124.94,401.21 L125.30,406.43 L125.67,412.35 L126.04,418.09 L126.41,423.01 L126.78,426.82 L127.14,429.50 L127.51,431.22 L127.88,432.24 L128.25,432.80 L128.62,433.08 Z" stroke="none" fill="#cc1126" stroke-width="0.8"/>
<path d="M136.50,433.23 L137.07,433.16 L137.65,433.02 L138.22,432.80 L138.80,432.45 L139.38,431.94 L139.95,431.25 L140.53,430.42 L141.10,429.48 L141.68,428.54 L142.25,427.74 L142.83,427.19 L143.40,427.00 L143.97,427.19 L144.55,427.74 L145.12,428.54 L145.70,429.48 L146.28,430.42 L146.85,431.25 L147.43,431.94 L148.00,432.45 L148.58,432.80 L149.15,433.02 L149.73,433.16 L150.30,433.23 Z" stroke="none" fill="#cc1126" stroke-width="0.8"/>
<line x1="104.90" y1="384.80" x2="104.90" y2="433.90" stroke="#111" stroke-width="1.3"/>
<line x1="104.30" y1="433.30" x2="154.50" y2="433.30" stroke="#111" stroke-width="1.3"/>
<line x1="102.70" y1="426.70" x2="104.90" y2="426.70" stroke="#111" stroke-width="0.75"/>
<line x1="102.70" y1="420.07" x2="104.90" y2="420.07" stroke="#111" stroke-width="0.75"/>
<line x1="102.70" y1="413.44" x2="104.90" y2="413.44" stroke="#111" stroke-width="0.75"/>
<line x1="102.70" y1="406.81" x2="104.90" y2="406.81" stroke="#111" stroke-width="0.75"/>
<line x1="102.70" y1="400.18" x2="104.90" y2="400.18" stroke="#111" stroke-width="0.75"/>
<line x1="102.70" y1="393.55" x2="104.90" y2="393.55" stroke="#111" stroke-width="0.75"/>
<line x1="102.70" y1="386.92" x2="104.90" y2="386.92" stroke="#111" stroke-width="0.75"/>
<line x1="104.90" y1="433.30" x2="104.90" y2="435.70" stroke="#111" stroke-width="0.8"/>
<line x1="108.08" y1="433.30" x2="108.08" y2="434.60" stroke="#111" stroke-width="0.55"/>
<line x1="111.25" y1="433.30" x2="111.25" y2="434.60" stroke="#111" stroke-width="0.55"/>
<line x1="114.43" y1="433.30" x2="114.43" y2="434.60" stroke="#111" stroke-width="0.55"/>
<line x1="117.60" y1="433.30" x2="117.60" y2="435.70" stroke="#111" stroke-width="0.8"/>
<line x1="120.78" y1="433.30" x2="120.78" y2="434.60" stroke="#111" stroke-width="0.55"/>
<line x1="123.95" y1="433.30" x2="123.95" y2="434.60" stroke="#111" stroke-width="0.55"/>
<line x1="127.12" y1="433.30" x2="127.12" y2="434.60" stroke="#111" stroke-width="0.55"/>
<line x1="130.30" y1="433.30" x2="130.30" y2="435.70" stroke="#111" stroke-width="0.8"/>
<line x1="133.47" y1="433.30" x2="133.47" y2="434.60" stroke="#111" stroke-width="0.55"/>
<line x1="136.65" y1="433.30" x2="136.65" y2="434.60" stroke="#111" stroke-width="0.55"/>
<line x1="139.82" y1="433.30" x2="139.82" y2="434.60" stroke="#111" stroke-width="0.55"/>
<line x1="143.00" y1="433.30" x2="143.00" y2="435.70" stroke="#111" stroke-width="0.8"/>
<line x1="146.18" y1="433.30" x2="146.18" y2="434.60" stroke="#111" stroke-width="0.55"/>
<line x1="149.35" y1="433.30" x2="149.35" y2="434.60" stroke="#111" stroke-width="0.55"/>
<line x1="152.53" y1="433.30" x2="152.53" y2="434.60" stroke="#111" stroke-width="0.55"/>
<path d="M178.80,433.30 L178.80,427.10 L180.05,426.72 L181.30,427.44 L182.55,426.76 L183.80,427.48 L185.05,426.80 L186.30,427.52 L187.55,426.84 L188.80,427.56 L190.05,426.88 L191.30,427.60 L192.30,425.50 L195.30,430.20 L196.80,433.30 Z" stroke="#666" fill="#e0e3e8" stroke-width="0.55"/>
<path d="M176.40,398.34 L177.05,392.30 L177.55,392.30 L178.20,398.34 Z" stroke="#9a9a9a" fill="#e8e8e8" stroke-width="0.35"/>
<path d="M173.25,433.07 L173.59,432.79 L173.93,432.21 L174.26,431.17 L174.60,429.40 L174.94,426.65 L175.28,422.73 L175.61,417.68 L175.95,411.79 L176.29,405.71 L176.63,400.34 L176.96,396.63 L177.30,395.30 L177.64,396.63 L177.97,400.34 L178.31,405.71 L178.65,411.79 L178.99,417.68 L179.32,422.73 L179.66,426.65 L180.00,429.40 L180.34,431.17 L180.67,432.21 L181.01,432.79 L181.35,433.07 Z" stroke="none" fill="#cc1126" stroke-width="0.8"/>
<path d="M186.30,433.23 L186.80,433.16 L187.30,433.03 L187.80,432.81 L188.30,432.46 L188.80,431.96 L189.30,431.29 L189.80,430.46 L190.30,429.54 L190.80,428.62 L191.30,427.83 L191.80,427.29 L192.30,427.10 L192.80,427.29 L193.30,427.83 L193.80,428.62 L194.30,429.54 L194.80,430.46 L195.30,431.29 L195.80,431.96 L196.30,432.46 L196.80,432.81 L197.30,433.03 L197.80,433.16 L198.30,433.23 Z" stroke="none" fill="#cc1126" stroke-width="0.8"/>
<line x1="162.00" y1="384.80" x2="162.00" y2="433.90" stroke="#111" stroke-width="1.3"/>
<line x1="161.40" y1="433.30" x2="211.60" y2="433.30" stroke="#111" stroke-width="1.3"/>
<line x1="159.80" y1="426.70" x2="162.00" y2="426.70" stroke="#111" stroke-width="0.75"/>
<line x1="159.80" y1="420.07" x2="162.00" y2="420.07" stroke="#111" stroke-width="0.75"/>
<line x1="159.80" y1="413.44" x2="162.00" y2="413.44" stroke="#111" stroke-width="0.75"/>
<line x1="159.80" y1="406.81" x2="162.00" y2="406.81" stroke="#111" stroke-width="0.75"/>
<line x1="159.80" y1="400.18" x2="162.00" y2="400.18" stroke="#111" stroke-width="0.75"/>
<line x1="159.80" y1="393.55" x2="162.00" y2="393.55" stroke="#111" stroke-width="0.75"/>
<line x1="159.80" y1="386.92" x2="162.00" y2="386.92" stroke="#111" stroke-width="0.75"/>
<line x1="162.00" y1="433.30" x2="162.00" y2="435.70" stroke="#111" stroke-width="0.8"/>
<line x1="165.18" y1="433.30" x2="165.18" y2="434.60" stroke="#111" stroke-width="0.55"/>
<line x1="168.35" y1="433.30" x2="168.35" y2="434.60" stroke="#111" stroke-width="0.55"/>
<line x1="171.53" y1="433.30" x2="171.53" y2="434.60" stroke="#111" stroke-width="0.55"/>
<line x1="174.70" y1="433.30" x2="174.70" y2="435.70" stroke="#111" stroke-width="0.8"/>
<line x1="177.88" y1="433.30" x2="177.88" y2="434.60" stroke="#111" stroke-width="0.55"/>
<line x1="181.05" y1="433.30" x2="181.05" y2="434.60" stroke="#111" stroke-width="0.55"/>
<line x1="184.22" y1="433.30" x2="184.22" y2="434.60" stroke="#111" stroke-width="0.55"/>
<line x1="187.40" y1="433.30" x2="187.40" y2="435.70" stroke="#111" stroke-width="0.8"/>
<line x1="190.57" y1="433.30" x2="190.57" y2="434.60" stroke="#111" stroke-width="0.55"/>
<line x1="193.75" y1="433.30" x2="193.75" y2="434.60" stroke="#111" stroke-width="0.55"/>
<line x1="196.93" y1="433.30" x2="196.93" y2="434.60" stroke="#111" stroke-width="0.55"/>
<line x1="200.10" y1="433.30" x2="200.10" y2="435.70" stroke="#111" stroke-width="0.8"/>
<line x1="203.28" y1="433.30" x2="203.28" y2="434.60" stroke="#111" stroke-width="0.55"/>
<line x1="206.45" y1="433.30" x2="206.45" y2="434.60" stroke="#111" stroke-width="0.55"/>
<line x1="209.62" y1="433.30" x2="209.62" y2="434.60" stroke="#111" stroke-width="0.55"/>
<path d="M66.10,492.50 L66.10,483.90 L67.66,483.48 L69.22,484.16 L70.78,483.44 L72.34,484.12 L73.90,483.40 L75.46,484.08 L77.02,483.36 L78.58,484.04 L80.14,483.32 L81.70,484.00 L82.70,480.50 L85.70,488.05 L87.20,492.50 Z" stroke="#666" fill="#e0e3e8" stroke-width="0.55"/>
<path d="M63.70,461.22 L64.35,448.70 L64.85,448.70 L65.50,461.22 Z" stroke="#9a9a9a" fill="#e8e8e8" stroke-width="0.35"/>
<path d="M60.55,492.30 L60.89,492.04 L61.23,491.53 L61.56,490.59 L61.90,489.01 L62.24,486.55 L62.58,483.05 L62.91,478.52 L63.25,473.25 L63.59,467.81 L63.93,463.01 L64.26,459.69 L64.60,458.50 L64.94,459.69 L65.27,463.01 L65.61,467.81 L65.95,473.25 L66.29,478.52 L66.62,483.05 L66.96,486.55 L67.30,489.01 L67.64,490.59 L67.97,491.53 L68.31,492.04 L68.65,492.30 Z" stroke="none" fill="#cc1126" stroke-width="0.8"/>
<path d="M76.70,492.40 L77.20,492.30 L77.70,492.11 L78.20,491.79 L78.70,491.30 L79.20,490.58 L79.70,489.61 L80.20,488.43 L80.70,487.10 L81.20,485.78 L81.70,484.65 L82.20,483.87 L82.70,483.60 L83.20,483.87 L83.70,484.65 L84.20,485.78 L84.70,487.10 L85.20,488.43 L85.70,489.61 L86.20,490.58 L86.70,491.30 L87.20,491.79 L87.70,492.11 L88.20,492.30 L88.70,492.40 Z" stroke="none" fill="#cc1126" stroke-width="0.8"/>
<line x1="47.60" y1="444.00" x2="47.60" y2="493.10" stroke="#111" stroke-width="1.3"/>
<line x1="47.00" y1="492.50" x2="97.20" y2="492.50" stroke="#111" stroke-width="1.3"/>
<line x1="45.40" y1="485.90" x2="47.60" y2="485.90" stroke="#111" stroke-width="0.75"/>
<line x1="45.40" y1="479.27" x2="47.60" y2="479.27" stroke="#111" stroke-width="0.75"/>
<line x1="45.40" y1="472.64" x2="47.60" y2="472.64" stroke="#111" stroke-width="0.75"/>
<line x1="45.40" y1="466.01" x2="47.60" y2="466.01" stroke="#111" stroke-width="0.75"/>
<line x1="45.40" y1="459.38" x2="47.60" y2="459.38" stroke="#111" stroke-width="0.75"/>
<line x1="45.40" y1="452.75" x2="47.60" y2="452.75" stroke="#111" stroke-width="0.75"/>
<line x1="45.40" y1="446.12" x2="47.60" y2="446.12" stroke="#111" stroke-width="0.75"/>
<line x1="47.60" y1="492.50" x2="47.60" y2="494.90" stroke="#111" stroke-width="0.8"/>
<line x1="50.48" y1="492.50" x2="50.48" y2="493.80" stroke="#111" stroke-width="0.55"/>
<line x1="53.35" y1="492.50" x2="53.35" y2="493.80" stroke="#111" stroke-width="0.55"/>
<line x1="56.23" y1="492.50" x2="56.23" y2="493.80" stroke="#111" stroke-width="0.55"/>
<line x1="59.10" y1="492.50" x2="59.10" y2="494.90" stroke="#111" stroke-width="0.8"/>
<line x1="61.98" y1="492.50" x2="61.98" y2="493.80" stroke="#111" stroke-width="0.55"/>
<line x1="64.85" y1="492.50" x2="64.85" y2="493.80" stroke="#111" stroke-width="0.55"/>
<line x1="67.72" y1="492.50" x2="67.72" y2="493.80" stroke="#111" stroke-width="0.55"/>
<line x1="70.60" y1="492.50" x2="70.60" y2="494.90" stroke="#111" stroke-width="0.8"/>
<line x1="73.47" y1="492.50" x2="73.47" y2="493.80" stroke="#111" stroke-width="0.55"/>
<line x1="76.35" y1="492.50" x2="76.35" y2="493.80" stroke="#111" stroke-width="0.55"/>
<line x1="79.22" y1="492.50" x2="79.22" y2="493.80" stroke="#111" stroke-width="0.55"/>
<line x1="82.10" y1="492.50" x2="82.10" y2="494.90" stroke="#111" stroke-width="0.8"/>
<line x1="84.97" y1="492.50" x2="84.97" y2="493.80" stroke="#111" stroke-width="0.55"/>
<line x1="87.85" y1="492.50" x2="87.85" y2="493.80" stroke="#111" stroke-width="0.55"/>
<line x1="90.72" y1="492.50" x2="90.72" y2="493.80" stroke="#111" stroke-width="0.55"/>
<line x1="93.60" y1="492.50" x2="93.60" y2="494.90" stroke="#111" stroke-width="0.8"/>
<line x1="96.47" y1="492.50" x2="96.47" y2="493.80" stroke="#111" stroke-width="0.55"/>
<path d="M122.50,492.50 L122.50,485.50 L123.90,485.10 L125.30,485.80 L126.70,485.10 L128.10,485.80 L129.50,485.10 L130.90,485.80 L132.30,485.10 L133.70,485.80 L135.10,485.10 L136.50,485.80 L137.50,484.30 L140.50,490.10 L142.00,492.50 Z" stroke="#666" fill="#e0e3e8" stroke-width="0.55"/>
<path d="M120.10,455.70 L120.75,448.60 L121.25,448.60 L121.90,455.70 Z" stroke="#9a9a9a" fill="#e8e8e8" stroke-width="0.35"/>
<path d="M116.95,492.26 L117.29,491.96 L117.63,491.36 L117.96,490.25 L118.30,488.39 L118.64,485.49 L118.98,481.38 L119.31,476.06 L119.65,469.85 L119.99,463.45 L120.33,457.80 L120.66,453.90 L121.00,452.50 L121.34,453.90 L121.67,457.80 L122.01,463.45 L122.35,469.85 L122.69,476.06 L123.02,481.38 L123.36,485.49 L123.70,488.39 L124.04,490.25 L124.37,491.36 L124.71,491.96 L125.05,492.26 Z" stroke="none" fill="#cc1126" stroke-width="0.8"/>
<path d="M131.50,492.45 L132.00,492.39 L132.50,492.29 L133.00,492.12 L133.50,491.85 L134.00,491.46 L134.50,490.94 L135.00,490.30 L135.50,489.59 L136.00,488.88 L136.50,488.26 L137.00,487.85 L137.50,487.70 L138.00,487.85 L138.50,488.26 L139.00,488.88 L139.50,489.59 L140.00,490.30 L140.50,490.94 L141.00,491.46 L141.50,491.85 L142.00,492.12 L142.50,492.29 L143.00,492.39 L143.50,492.45 Z" stroke="none" fill="#cc1126" stroke-width="0.8"/>
<line x1="104.90" y1="444.00" x2="104.90" y2="493.10" stroke="#111" stroke-width="1.3"/>
<line x1="104.30" y1="492.50" x2="154.50" y2="492.50" stroke="#111" stroke-width="1.3"/>
<line x1="102.70" y1="485.90" x2="104.90" y2="485.90" stroke="#111" stroke-width="0.75"/>
<line x1="102.70" y1="479.27" x2="104.90" y2="479.27" stroke="#111" stroke-width="0.75"/>
<line x1="102.70" y1="472.64" x2="104.90" y2="472.64" stroke="#111" stroke-width="0.75"/>
<line x1="102.70" y1="466.01" x2="104.90" y2="466.01" stroke="#111" stroke-width="0.75"/>
<line x1="102.70" y1="459.38" x2="104.90" y2="459.38" stroke="#111" stroke-width="0.75"/>
<line x1="102.70" y1="452.75" x2="104.90" y2="452.75" stroke="#111" stroke-width="0.75"/>
<line x1="102.70" y1="446.12" x2="104.90" y2="446.12" stroke="#111" stroke-width="0.75"/>
<line x1="104.90" y1="492.50" x2="104.90" y2="494.90" stroke="#111" stroke-width="0.8"/>
<line x1="107.78" y1="492.50" x2="107.78" y2="493.80" stroke="#111" stroke-width="0.55"/>
<line x1="110.65" y1="492.50" x2="110.65" y2="493.80" stroke="#111" stroke-width="0.55"/>
<line x1="113.53" y1="492.50" x2="113.53" y2="493.80" stroke="#111" stroke-width="0.55"/>
<line x1="116.40" y1="492.50" x2="116.40" y2="494.90" stroke="#111" stroke-width="0.8"/>
<line x1="119.28" y1="492.50" x2="119.28" y2="493.80" stroke="#111" stroke-width="0.55"/>
<line x1="122.15" y1="492.50" x2="122.15" y2="493.80" stroke="#111" stroke-width="0.55"/>
<line x1="125.03" y1="492.50" x2="125.03" y2="493.80" stroke="#111" stroke-width="0.55"/>
<line x1="127.90" y1="492.50" x2="127.90" y2="494.90" stroke="#111" stroke-width="0.8"/>
<line x1="130.78" y1="492.50" x2="130.78" y2="493.80" stroke="#111" stroke-width="0.55"/>
<line x1="133.65" y1="492.50" x2="133.65" y2="493.80" stroke="#111" stroke-width="0.55"/>
<line x1="136.53" y1="492.50" x2="136.53" y2="493.80" stroke="#111" stroke-width="0.55"/>
<line x1="139.40" y1="492.50" x2="139.40" y2="494.90" stroke="#111" stroke-width="0.8"/>
<line x1="142.28" y1="492.50" x2="142.28" y2="493.80" stroke="#111" stroke-width="0.55"/>
<line x1="145.15" y1="492.50" x2="145.15" y2="493.80" stroke="#111" stroke-width="0.55"/>
<line x1="148.03" y1="492.50" x2="148.03" y2="493.80" stroke="#111" stroke-width="0.55"/>
<line x1="150.90" y1="492.50" x2="150.90" y2="494.90" stroke="#111" stroke-width="0.8"/>
<line x1="153.78" y1="492.50" x2="153.78" y2="493.80" stroke="#111" stroke-width="0.55"/>
<path d="M179.70,492.50 L179.70,485.50 L181.07,485.06 L182.44,485.72 L183.81,484.98 L185.18,485.64 L186.55,484.90 L187.92,485.56 L189.29,484.82 L190.66,485.48 L192.03,484.74 L193.40,485.40 L194.40,483.90 L197.40,490.10 L198.90,492.50 Z" stroke="#666" fill="#e0e3e8" stroke-width="0.55"/>
<path d="M177.30,455.70 L177.95,448.50 L178.45,448.50 L179.10,455.70 Z" stroke="#9a9a9a" fill="#e8e8e8" stroke-width="0.35"/>
<path d="M174.15,492.26 L174.49,491.96 L174.83,491.36 L175.16,490.25 L175.50,488.39 L175.84,485.49 L176.18,481.38 L176.51,476.06 L176.85,469.85 L177.19,463.45 L177.53,457.80 L177.86,453.90 L178.20,452.50 L178.54,453.90 L178.87,457.80 L179.21,463.45 L179.55,469.85 L179.89,476.06 L180.22,481.38 L180.56,485.49 L180.90,488.39 L181.24,490.25 L181.57,491.36 L181.91,491.96 L182.25,492.26 Z" stroke="none" fill="#cc1126" stroke-width="0.8"/>
<path d="M188.40,492.45 L188.90,492.39 L189.40,492.29 L189.90,492.12 L190.40,491.85 L190.90,491.46 L191.40,490.94 L191.90,490.30 L192.40,489.59 L192.90,488.88 L193.40,488.26 L193.90,487.85 L194.40,487.70 L194.90,487.85 L195.40,488.26 L195.90,488.88 L196.40,489.59 L196.90,490.30 L197.40,490.94 L197.90,491.46 L198.40,491.85 L198.90,492.12 L199.40,492.29 L199.90,492.39 L200.40,492.45 Z" stroke="none" fill="#cc1126" stroke-width="0.8"/>
<line x1="162.00" y1="444.00" x2="162.00" y2="493.10" stroke="#111" stroke-width="1.3"/>
<line x1="161.40" y1="492.50" x2="211.60" y2="492.50" stroke="#111" stroke-width="1.3"/>
<line x1="159.80" y1="485.90" x2="162.00" y2="485.90" stroke="#111" stroke-width="0.75"/>
<line x1="159.80" y1="479.27" x2="162.00" y2="479.27" stroke="#111" stroke-width="0.75"/>
<line x1="159.80" y1="472.64" x2="162.00" y2="472.64" stroke="#111" stroke-width="0.75"/>
<line x1="159.80" y1="466.01" x2="162.00" y2="466.01" stroke="#111" stroke-width="0.75"/>
<line x1="159.80" y1="459.38" x2="162.00" y2="459.38" stroke="#111" stroke-width="0.75"/>
<line x1="159.80" y1="452.75" x2="162.00" y2="452.75" stroke="#111" stroke-width="0.75"/>
<line x1="159.80" y1="446.12" x2="162.00" y2="446.12" stroke="#111" stroke-width="0.75"/>
<line x1="162.00" y1="492.50" x2="162.00" y2="494.90" stroke="#111" stroke-width="0.8"/>
<line x1="164.88" y1="492.50" x2="164.88" y2="493.80" stroke="#111" stroke-width="0.55"/>
<line x1="167.75" y1="492.50" x2="167.75" y2="493.80" stroke="#111" stroke-width="0.55"/>
<line x1="170.62" y1="492.50" x2="170.62" y2="493.80" stroke="#111" stroke-width="0.55"/>
<line x1="173.50" y1="492.50" x2="173.50" y2="494.90" stroke="#111" stroke-width="0.8"/>
<line x1="176.38" y1="492.50" x2="176.38" y2="493.80" stroke="#111" stroke-width="0.55"/>
<line x1="179.25" y1="492.50" x2="179.25" y2="493.80" stroke="#111" stroke-width="0.55"/>
<line x1="182.12" y1="492.50" x2="182.12" y2="493.80" stroke="#111" stroke-width="0.55"/>
<line x1="185.00" y1="492.50" x2="185.00" y2="494.90" stroke="#111" stroke-width="0.8"/>
<line x1="187.88" y1="492.50" x2="187.88" y2="493.80" stroke="#111" stroke-width="0.55"/>
<line x1="190.75" y1="492.50" x2="190.75" y2="493.80" stroke="#111" stroke-width="0.55"/>
<line x1="193.62" y1="492.50" x2="193.62" y2="493.80" stroke="#111" stroke-width="0.55"/>
<line x1="196.50" y1="492.50" x2="196.50" y2="494.90" stroke="#111" stroke-width="0.8"/>
<line x1="199.38" y1="492.50" x2="199.38" y2="493.80" stroke="#111" stroke-width="0.55"/>
<line x1="202.25" y1="492.50" x2="202.25" y2="493.80" stroke="#111" stroke-width="0.55"/>
<line x1="205.12" y1="492.50" x2="205.12" y2="493.80" stroke="#111" stroke-width="0.55"/>
<line x1="208.00" y1="492.50" x2="208.00" y2="494.90" stroke="#111" stroke-width="0.8"/>
<line x1="210.88" y1="492.50" x2="210.88" y2="493.80" stroke="#111" stroke-width="0.55"/>
<text x="0" y="0" font-size="9.0" text-anchor="middle" transform="translate(25.8,454.9) rotate(-90)" textLength="36.3" lengthAdjust="spacingAndGlyphs" stroke="#231f20" stroke-width="0.1">Cell counts</text>
<line x1="23.30" y1="504.40" x2="23.30" y2="486.00" stroke="#111" stroke-width="1.0"/>
<path d="M23.3,482.4 L21.3,487.3 L25.3,487.3 Z" stroke="none" fill="#111" stroke-width="0.8"/>
<line x1="22.80" y1="504.40" x2="41.50" y2="504.40" stroke="#111" stroke-width="1.0"/>
<path d="M45.3,504.4 L40.5,502.4 L40.5,506.4 Z" stroke="none" fill="#111" stroke-width="0.8"/>
<text x="52.60" y="507.30" font-size="9.2" textLength="5.60" lengthAdjust="spacingAndGlyphs" stroke="#231f20" stroke-width="0.1">PI</text>
<text x="252.00" y="233.10" font-size="10.7" fill="#000" font-weight="bold" stroke="#000" stroke-width="0.1">H</text>
<rect x="310.00" y="234.40" width="4.30" height="4.30" fill="#cc1a3a"/>
<text x="316.60" y="238.80" font-size="7.2" textLength="20.20" lengthAdjust="spacingAndGlyphs" stroke="#231f20" stroke-width="0.1">G2/M</text>
<rect x="310.00" y="241.60" width="4.30" height="4.30" fill="#3fae49"/>
<text x="316.60" y="246.00" font-size="7.2" textLength="4.60" lengthAdjust="spacingAndGlyphs" stroke="#231f20" stroke-width="0.1">S</text>
<rect x="310.00" y="248.80" width="4.30" height="4.30" fill="#1d4e8f"/>
<text x="316.60" y="253.20" font-size="7.2" textLength="23.80" lengthAdjust="spacingAndGlyphs" stroke="#231f20" stroke-width="0.1">G0/G1</text>
<line x1="304.60" y1="250.47" x2="304.60" y2="307.40" stroke="#231f20" stroke-width="1.1"/>
<line x1="304.10" y1="306.90" x2="352.90" y2="306.90" stroke="#231f20" stroke-width="1.1"/>
<line x1="302.10" y1="306.90" x2="304.60" y2="306.90" stroke="#231f20" stroke-width="1"/>
<text x="299.20" y="309.70" font-size="7.9" text-anchor="end" textLength="4.20" lengthAdjust="spacingAndGlyphs" stroke="#231f20" stroke-width="0.1">0</text>
<line x1="302.10" y1="288.40" x2="304.60" y2="288.40" stroke="#231f20" stroke-width="1"/>
<text x="299.20" y="291.20" font-size="7.9" text-anchor="end" textLength="8.40" lengthAdjust="spacingAndGlyphs" stroke="#231f20" stroke-width="0.1">40</text>
<line x1="302.10" y1="269.90" x2="304.60" y2="269.90" stroke="#231f20" stroke-width="1"/>
<text x="299.20" y="272.70" font-size="7.9" text-anchor="end" textLength="8.40" lengthAdjust="spacingAndGlyphs" stroke="#231f20" stroke-width="0.1">80</text>
<line x1="302.10" y1="251.40" x2="304.60" y2="251.40" stroke="#231f20" stroke-width="1"/>
<text x="299.20" y="254.20" font-size="7.9" text-anchor="end" textLength="12.60" lengthAdjust="spacingAndGlyphs" stroke="#231f20" stroke-width="0.1">120</text>
<rect x="307.45" y="261.02" width="10.60" height="45.88" fill="#cc1a3a"/>
<rect x="307.45" y="268.00" width="10.60" height="38.90" fill="#3fae49"/>
<rect x="307.45" y="294.50" width="10.60" height="12.40" fill="#1d4e8f"/>
<line x1="312.75" y1="261.02" x2="312.75" y2="259.40" stroke="#333" stroke-width="0.8"/>
<line x1="311.15" y1="259.40" x2="314.35" y2="259.40" stroke="#333" stroke-width="0.8"/>
<line x1="307.45" y1="294.50" x2="318.05" y2="294.50" stroke="#1a2a40" stroke-width="0.6"/>
<line x1="307.45" y1="268.00" x2="318.05" y2="268.00" stroke="#2a6a2a" stroke-width="0.5"/>
<line x1="312.75" y1="306.90" x2="312.75" y2="309.10" stroke="#231f20" stroke-width="0.9"/>
<rect x="323.50" y="260.70" width="10.60" height="46.20" fill="#cc1a3a"/>
<rect x="323.50" y="265.41" width="10.60" height="41.49" fill="#3fae49"/>
<rect x="323.50" y="285.90" width="10.60" height="21.00" fill="#1d4e8f"/>
<line x1="328.80" y1="260.70" x2="328.80" y2="260.23" stroke="#333" stroke-width="0.8"/>
<line x1="327.20" y1="260.23" x2="330.40" y2="260.23" stroke="#333" stroke-width="0.8"/>
<line x1="323.50" y1="285.90" x2="334.10" y2="285.90" stroke="#1a2a40" stroke-width="0.6"/>
<line x1="323.50" y1="265.41" x2="334.10" y2="265.41" stroke="#2a6a2a" stroke-width="0.5"/>
<line x1="328.80" y1="306.90" x2="328.80" y2="309.10" stroke="#231f20" stroke-width="0.9"/>
<rect x="339.50" y="260.70" width="10.60" height="46.20" fill="#cc1a3a"/>
<rect x="339.50" y="265.41" width="10.60" height="41.49" fill="#3fae49"/>
<rect x="339.50" y="284.61" width="10.60" height="22.29" fill="#1d4e8f"/>
<line x1="344.80" y1="260.70" x2="344.80" y2="260.23" stroke="#333" stroke-width="0.8"/>
<line x1="343.20" y1="260.23" x2="346.40" y2="260.23" stroke="#333" stroke-width="0.8"/>
<line x1="339.50" y1="284.61" x2="350.10" y2="284.61" stroke="#1a2a40" stroke-width="0.6"/>
<line x1="339.50" y1="265.41" x2="350.10" y2="265.41" stroke="#2a6a2a" stroke-width="0.5"/>
<line x1="344.80" y1="306.90" x2="344.80" y2="309.10" stroke="#231f20" stroke-width="0.9"/>
<path d="M324.60,281.00 L324.60,284.00 M323.30,281.75 L325.90,283.25 M325.90,281.75 L323.30,283.25 " stroke="#111" stroke-width="0.9" fill="none"/>
<path d="M328.80,281.00 L328.80,284.00 M327.50,281.75 L330.10,283.25 M330.10,281.75 L327.50,283.25 " stroke="#111" stroke-width="0.9" fill="none"/>
<path d="M332.90,281.00 L332.90,284.00 M331.60,281.75 L334.20,283.25 M334.20,281.75 L331.60,283.25 " stroke="#111" stroke-width="0.9" fill="none"/>
<path d="M340.60,279.50 L340.60,282.50 M339.30,280.25 L341.90,281.75 M341.90,280.25 L339.30,281.75 " stroke="#111" stroke-width="0.9" fill="none"/>
<path d="M344.80,279.50 L344.80,282.50 M343.50,280.25 L346.10,281.75 M346.10,280.25 L343.50,281.75 " stroke="#111" stroke-width="0.9" fill="none"/>
<path d="M349.20,279.50 L349.20,282.50 M347.90,280.25 L350.50,281.75 M350.50,280.25 L347.90,281.75 " stroke="#111" stroke-width="0.9" fill="none"/>
<text x="312.85" y="320.20" font-size="7.9" text-anchor="middle" textLength="13.00" lengthAdjust="spacingAndGlyphs" stroke="#231f20" stroke-width="0.1">Ctrl</text>
<text x="328.80" y="320.20" font-size="7.9" text-anchor="middle" textLength="12.40" lengthAdjust="spacingAndGlyphs" stroke="#231f20" stroke-width="0.1">sg5</text>
<text x="345.20" y="320.20" font-size="7.9" text-anchor="middle" textLength="12.50" lengthAdjust="spacingAndGlyphs" stroke="#231f20" stroke-width="0.1">sg6</text>
<line x1="325.40" y1="323.30" x2="351.70" y2="323.30" stroke="#231f20" stroke-width="1.0"/>
<text x="318.00" y="336.70" font-size="8.0" font-style="italic" textLength="11.20" lengthAdjust="spacingAndGlyphs" stroke="#231f20" stroke-width="0.1">ID1</text>
<text x="329.60" y="332.10" font-size="4.6" textLength="7.20" lengthAdjust="spacingAndGlyphs" stroke="#231f20" stroke-width="0.1">−/−</text>
<text x="341.70" y="336.70" font-size="8.0" textLength="16.90" lengthAdjust="spacingAndGlyphs" stroke="#231f20" stroke-width="0.1">HS-5</text>
<text x="0" y="0" font-size="8.5" text-anchor="middle" transform="translate(269.00,278.30) rotate(-90)" textLength="30.8" lengthAdjust="spacingAndGlyphs" stroke="#231f20" stroke-width="0.1">Kasumi-1</text>
<text x="0" y="0" font-size="8.5" text-anchor="middle" transform="translate(277.80,277.10) rotate(-90)" textLength="57.3" lengthAdjust="spacingAndGlyphs" stroke="#231f20" stroke-width="0.1">cell cycle phase%</text>
<text x="373.50" y="232.70" font-size="10.7" fill="#000" font-weight="bold" stroke="#000" stroke-width="0.1">I</text>
<rect x="437.30" y="235.00" width="4.30" height="4.30" fill="#cc1a3a"/>
<text x="443.90" y="239.40" font-size="7.2" textLength="20.20" lengthAdjust="spacingAndGlyphs" stroke="#231f20" stroke-width="0.1">G2/M</text>
<rect x="437.30" y="242.20" width="4.30" height="4.30" fill="#3fae49"/>
<text x="443.90" y="246.60" font-size="7.2" textLength="4.60" lengthAdjust="spacingAndGlyphs" stroke="#231f20" stroke-width="0.1">S</text>
<rect x="437.30" y="249.40" width="4.30" height="4.30" fill="#1d4e8f"/>
<text x="443.90" y="253.80" font-size="7.2" textLength="23.80" lengthAdjust="spacingAndGlyphs" stroke="#231f20" stroke-width="0.1">G0/G1</text>
<line x1="429.90" y1="250.47" x2="429.90" y2="307.40" stroke="#231f20" stroke-width="1.1"/>
<line x1="429.40" y1="306.90" x2="478.20" y2="306.90" stroke="#231f20" stroke-width="1.1"/>
<line x1="427.40" y1="306.90" x2="429.90" y2="306.90" stroke="#231f20" stroke-width="1"/>
<text x="424.50" y="309.70" font-size="7.9" text-anchor="end" textLength="4.20" lengthAdjust="spacingAndGlyphs" stroke="#231f20" stroke-width="0.1">0</text>
<line x1="427.40" y1="288.40" x2="429.90" y2="288.40" stroke="#231f20" stroke-width="1"/>
<text x="424.50" y="291.20" font-size="7.9" text-anchor="end" textLength="8.40" lengthAdjust="spacingAndGlyphs" stroke="#231f20" stroke-width="0.1">40</text>
<line x1="427.40" y1="269.90" x2="429.90" y2="269.90" stroke="#231f20" stroke-width="1"/>
<text x="424.50" y="272.70" font-size="7.9" text-anchor="end" textLength="8.40" lengthAdjust="spacingAndGlyphs" stroke="#231f20" stroke-width="0.1">80</text>
<line x1="427.40" y1="251.40" x2="429.90" y2="251.40" stroke="#231f20" stroke-width="1"/>
<text x="424.50" y="254.20" font-size="7.9" text-anchor="end" textLength="12.60" lengthAdjust="spacingAndGlyphs" stroke="#231f20" stroke-width="0.1">120</text>
<rect x="432.20" y="261.02" width="10.60" height="45.88" fill="#cc1a3a"/>
<rect x="432.20" y="265.41" width="10.60" height="41.49" fill="#3fae49"/>
<rect x="432.20" y="288.40" width="10.60" height="18.50" fill="#1d4e8f"/>
<line x1="437.50" y1="261.02" x2="437.50" y2="259.40" stroke="#333" stroke-width="0.8"/>
<line x1="435.90" y1="259.40" x2="439.10" y2="259.40" stroke="#333" stroke-width="0.8"/>
<line x1="432.20" y1="288.40" x2="442.80" y2="288.40" stroke="#1a2a40" stroke-width="0.6"/>
<line x1="432.20" y1="265.41" x2="442.80" y2="265.41" stroke="#2a6a2a" stroke-width="0.5"/>
<line x1="437.50" y1="306.90" x2="437.50" y2="309.10" stroke="#231f20" stroke-width="0.9"/>
<rect x="448.15" y="261.02" width="10.60" height="45.88" fill="#cc1a3a"/>
<rect x="448.15" y="263.56" width="10.60" height="43.34" fill="#3fae49"/>
<rect x="448.15" y="278.41" width="10.60" height="28.49" fill="#1d4e8f"/>
<line x1="453.45" y1="261.02" x2="453.45" y2="260.56" stroke="#333" stroke-width="0.8"/>
<line x1="451.85" y1="260.56" x2="455.05" y2="260.56" stroke="#333" stroke-width="0.8"/>
<line x1="448.15" y1="278.41" x2="458.75" y2="278.41" stroke="#1a2a40" stroke-width="0.6"/>
<line x1="448.15" y1="263.56" x2="458.75" y2="263.56" stroke="#2a6a2a" stroke-width="0.5"/>
<line x1="453.45" y1="306.90" x2="453.45" y2="309.10" stroke="#231f20" stroke-width="0.9"/>
<rect x="464.20" y="260.42" width="10.60" height="46.48" fill="#cc1a3a"/>
<rect x="464.20" y="263.56" width="10.60" height="43.34" fill="#3fae49"/>
<rect x="464.20" y="279.38" width="10.60" height="27.52" fill="#1d4e8f"/>
<line x1="469.50" y1="260.42" x2="469.50" y2="259.96" stroke="#333" stroke-width="0.8"/>
<line x1="467.90" y1="259.96" x2="471.10" y2="259.96" stroke="#333" stroke-width="0.8"/>
<line x1="464.20" y1="279.38" x2="474.80" y2="279.38" stroke="#1a2a40" stroke-width="0.6"/>
<line x1="464.20" y1="263.56" x2="474.80" y2="263.56" stroke="#2a6a2a" stroke-width="0.5"/>
<line x1="469.50" y1="306.90" x2="469.50" y2="309.10" stroke="#231f20" stroke-width="0.9"/>
<path d="M449.30,272.20 L449.30,275.20 M448.00,272.95 L450.60,274.45 M450.60,272.95 L448.00,274.45 " stroke="#111" stroke-width="0.9" fill="none"/>
<path d="M453.20,272.20 L453.20,275.20 M451.90,272.95 L454.50,274.45 M454.50,272.95 L451.90,274.45 " stroke="#111" stroke-width="0.9" fill="none"/>
<path d="M457.60,272.20 L457.60,275.20 M456.30,272.95 L458.90,274.45 M458.90,272.95 L456.30,274.45 " stroke="#111" stroke-width="0.9" fill="none"/>
<path d="M462.80,272.70 L462.80,275.70 M461.50,273.45 L464.10,274.95 M464.10,273.45 L461.50,274.95 " stroke="#111" stroke-width="0.9" fill="none"/>
<path d="M467.00,272.70 L467.00,275.70 M465.70,273.45 L468.30,274.95 M468.30,273.45 L465.70,274.95 " stroke="#111" stroke-width="0.9" fill="none"/>
<path d="M471.40,272.70 L471.40,275.70 M470.10,273.45 L472.70,274.95 M472.70,273.45 L470.10,274.95 " stroke="#111" stroke-width="0.9" fill="none"/>
<path d="M475.80,272.70 L475.80,275.70 M474.50,273.45 L477.10,274.95 M477.10,273.45 L474.50,274.95 " stroke="#111" stroke-width="0.9" fill="none"/>
<text x="437.60" y="320.20" font-size="7.9" text-anchor="middle" textLength="13.00" lengthAdjust="spacingAndGlyphs" stroke="#231f20" stroke-width="0.1">Ctrl</text>
<text x="453.45" y="320.20" font-size="7.9" text-anchor="middle" textLength="12.40" lengthAdjust="spacingAndGlyphs" stroke="#231f20" stroke-width="0.1">sg5</text>
<text x="469.90" y="320.20" font-size="7.9" text-anchor="middle" textLength="12.50" lengthAdjust="spacingAndGlyphs" stroke="#231f20" stroke-width="0.1">sg6</text>
<line x1="451.00" y1="323.30" x2="476.20" y2="323.30" stroke="#231f20" stroke-width="1.0"/>
<text x="443.60" y="336.70" font-size="8.0" font-style="italic" textLength="11.20" lengthAdjust="spacingAndGlyphs" stroke="#231f20" stroke-width="0.1">ID1</text>
<text x="455.20" y="332.10" font-size="4.6" textLength="7.20" lengthAdjust="spacingAndGlyphs" stroke="#231f20" stroke-width="0.1">−/−</text>
<text x="467.30" y="336.70" font-size="8.0" textLength="16.90" lengthAdjust="spacingAndGlyphs" stroke="#231f20" stroke-width="0.1">HS-5</text>
<text x="0" y="0" font-size="8.5" text-anchor="middle" transform="translate(394.30,278.80) rotate(-90)" textLength="26.8" lengthAdjust="spacingAndGlyphs" stroke="#231f20" stroke-width="0.1">SKNO-1</text>
<text x="0" y="0" font-size="8.5" text-anchor="middle" transform="translate(403.10,277.10) rotate(-90)" textLength="57.3" lengthAdjust="spacingAndGlyphs" stroke="#231f20" stroke-width="0.1">cell cycle phase%</text>
<text x="251.70" y="363.00" font-size="10.7" fill="#000" font-weight="bold" stroke="#000" stroke-width="0.1">J</text>
<rect x="309.70" y="364.00" width="4.30" height="4.30" fill="#cc1a3a"/>
<text x="316.30" y="368.40" font-size="7.2" textLength="20.20" lengthAdjust="spacingAndGlyphs" stroke="#231f20" stroke-width="0.1">G2/M</text>
<rect x="309.70" y="371.20" width="4.30" height="4.30" fill="#3fae49"/>
<text x="316.30" y="375.60" font-size="7.2" textLength="4.60" lengthAdjust="spacingAndGlyphs" stroke="#231f20" stroke-width="0.1">S</text>
<rect x="309.70" y="378.40" width="4.30" height="4.30" fill="#1d4e8f"/>
<text x="316.30" y="382.80" font-size="7.2" textLength="23.80" lengthAdjust="spacingAndGlyphs" stroke="#231f20" stroke-width="0.1">G0/G1</text>
<line x1="304.60" y1="380.19" x2="304.60" y2="435.90" stroke="#231f20" stroke-width="1.1"/>
<line x1="304.10" y1="435.40" x2="352.90" y2="435.40" stroke="#231f20" stroke-width="1.1"/>
<line x1="302.10" y1="435.40" x2="304.60" y2="435.40" stroke="#231f20" stroke-width="1"/>
<text x="299.20" y="438.20" font-size="7.9" text-anchor="end" textLength="4.20" lengthAdjust="spacingAndGlyphs" stroke="#231f20" stroke-width="0.1">0</text>
<line x1="302.10" y1="417.30" x2="304.60" y2="417.30" stroke="#231f20" stroke-width="1"/>
<text x="299.20" y="420.10" font-size="7.9" text-anchor="end" textLength="8.40" lengthAdjust="spacingAndGlyphs" stroke="#231f20" stroke-width="0.1">40</text>
<line x1="302.10" y1="399.20" x2="304.60" y2="399.20" stroke="#231f20" stroke-width="1"/>
<text x="299.20" y="402.00" font-size="7.9" text-anchor="end" textLength="8.40" lengthAdjust="spacingAndGlyphs" stroke="#231f20" stroke-width="0.1">80</text>
<line x1="302.10" y1="381.10" x2="304.60" y2="381.10" stroke="#231f20" stroke-width="1"/>
<text x="299.20" y="383.90" font-size="7.9" text-anchor="end" textLength="12.60" lengthAdjust="spacingAndGlyphs" stroke="#231f20" stroke-width="0.1">120</text>
<rect x="307.20" y="389.02" width="10.60" height="46.38" fill="#cc1a3a"/>
<rect x="307.20" y="398.61" width="10.60" height="36.79" fill="#3fae49"/>
<rect x="307.20" y="421.60" width="10.60" height="13.80" fill="#1d4e8f"/>
<line x1="312.50" y1="389.02" x2="312.50" y2="387.75" stroke="#333" stroke-width="0.8"/>
<line x1="310.90" y1="387.75" x2="314.10" y2="387.75" stroke="#333" stroke-width="0.8"/>
<line x1="307.20" y1="421.60" x2="317.80" y2="421.60" stroke="#1a2a40" stroke-width="0.6"/>
<line x1="307.20" y1="398.61" x2="317.80" y2="398.61" stroke="#2a6a2a" stroke-width="0.5"/>
<line x1="312.50" y1="435.40" x2="312.50" y2="437.60" stroke="#231f20" stroke-width="0.9"/>
<rect x="323.20" y="389.43" width="10.60" height="45.97" fill="#cc1a3a"/>
<rect x="323.20" y="396.48" width="10.60" height="38.91" fill="#3fae49"/>
<rect x="323.20" y="414.00" width="10.60" height="21.40" fill="#1d4e8f"/>
<line x1="328.50" y1="389.43" x2="328.50" y2="388.97" stroke="#333" stroke-width="0.8"/>
<line x1="326.90" y1="388.97" x2="330.10" y2="388.97" stroke="#333" stroke-width="0.8"/>
<line x1="323.20" y1="414.00" x2="333.80" y2="414.00" stroke="#1a2a40" stroke-width="0.6"/>
<line x1="323.20" y1="396.48" x2="333.80" y2="396.48" stroke="#2a6a2a" stroke-width="0.5"/>
<line x1="328.50" y1="435.40" x2="328.50" y2="437.60" stroke="#231f20" stroke-width="0.9"/>
<rect x="339.30" y="389.43" width="10.60" height="45.97" fill="#cc1a3a"/>
<rect x="339.30" y="396.67" width="10.60" height="38.73" fill="#3fae49"/>
<rect x="339.30" y="414.00" width="10.60" height="21.40" fill="#1d4e8f"/>
<line x1="344.60" y1="389.43" x2="344.60" y2="388.97" stroke="#333" stroke-width="0.8"/>
<line x1="343.00" y1="388.97" x2="346.20" y2="388.97" stroke="#333" stroke-width="0.8"/>
<line x1="339.30" y1="414.00" x2="349.90" y2="414.00" stroke="#1a2a40" stroke-width="0.6"/>
<line x1="339.30" y1="396.67" x2="349.90" y2="396.67" stroke="#2a6a2a" stroke-width="0.5"/>
<line x1="344.60" y1="435.40" x2="344.60" y2="437.60" stroke="#231f20" stroke-width="0.9"/>
<path d="M327.10,406.90 L327.10,409.90 M325.80,407.65 L328.40,409.15 M328.40,407.65 L325.80,409.15 " stroke="#111" stroke-width="0.9" fill="none"/>
<path d="M331.00,406.90 L331.00,409.90 M329.70,407.65 L332.30,409.15 M332.30,407.65 L329.70,409.15 " stroke="#111" stroke-width="0.9" fill="none"/>
<path d="M342.30,406.90 L342.30,409.90 M341.00,407.65 L343.60,409.15 M343.60,407.65 L341.00,409.15 " stroke="#111" stroke-width="0.9" fill="none"/>
<path d="M346.40,406.90 L346.40,409.90 M345.10,407.65 L347.70,409.15 M347.70,407.65 L345.10,409.15 " stroke="#111" stroke-width="0.9" fill="none"/>
<text x="312.60" y="448.70" font-size="7.9" text-anchor="middle" textLength="13.00" lengthAdjust="spacingAndGlyphs" stroke="#231f20" stroke-width="0.1">Ctrl</text>
<text x="328.50" y="448.70" font-size="7.9" text-anchor="middle" textLength="12.40" lengthAdjust="spacingAndGlyphs" stroke="#231f20" stroke-width="0.1">sg5</text>
<text x="345.00" y="448.70" font-size="7.9" text-anchor="middle" textLength="12.50" lengthAdjust="spacingAndGlyphs" stroke="#231f20" stroke-width="0.1">sg6</text>
<line x1="325.60" y1="451.80" x2="351.40" y2="451.80" stroke="#231f20" stroke-width="1.0"/>
<text x="318.20" y="465.20" font-size="8.0" font-style="italic" textLength="11.20" lengthAdjust="spacingAndGlyphs" stroke="#231f20" stroke-width="0.1">ID1</text>
<text x="329.80" y="460.60" font-size="4.6" textLength="7.20" lengthAdjust="spacingAndGlyphs" stroke="#231f20" stroke-width="0.1">−/−</text>
<text x="341.90" y="465.20" font-size="8.0" textLength="16.90" lengthAdjust="spacingAndGlyphs" stroke="#231f20" stroke-width="0.1">HS-5</text>
<text x="0" y="0" font-size="8.5" text-anchor="middle" transform="translate(269.00,407.40) rotate(-90)" textLength="16.9" lengthAdjust="spacingAndGlyphs" stroke="#231f20" stroke-width="0.1">THP-1</text>
<text x="0" y="0" font-size="8.5" text-anchor="middle" transform="translate(277.80,405.60) rotate(-90)" textLength="57.3" lengthAdjust="spacingAndGlyphs" stroke="#231f20" stroke-width="0.1">cell cycle phase%</text>
<text x="372.50" y="364.00" font-size="10.7" fill="#000" font-weight="bold" stroke="#000" stroke-width="0.1">K</text>
<rect x="437.30" y="364.00" width="4.30" height="4.30" fill="#cc1a3a"/>
<text x="443.90" y="368.40" font-size="7.2" textLength="20.20" lengthAdjust="spacingAndGlyphs" stroke="#231f20" stroke-width="0.1">G2/M</text>
<rect x="437.30" y="371.20" width="4.30" height="4.30" fill="#3fae49"/>
<text x="443.90" y="375.60" font-size="7.2" textLength="4.60" lengthAdjust="spacingAndGlyphs" stroke="#231f20" stroke-width="0.1">S</text>
<rect x="437.30" y="378.40" width="4.30" height="4.30" fill="#1d4e8f"/>
<text x="443.90" y="382.80" font-size="7.2" textLength="23.80" lengthAdjust="spacingAndGlyphs" stroke="#231f20" stroke-width="0.1">G0/G1</text>
<line x1="429.90" y1="378.47" x2="429.90" y2="435.40" stroke="#231f20" stroke-width="1.1"/>
<line x1="429.40" y1="434.90" x2="478.20" y2="434.90" stroke="#231f20" stroke-width="1.1"/>
<line x1="427.40" y1="434.90" x2="429.90" y2="434.90" stroke="#231f20" stroke-width="1"/>
<text x="424.50" y="437.70" font-size="7.9" text-anchor="end" textLength="4.20" lengthAdjust="spacingAndGlyphs" stroke="#231f20" stroke-width="0.1">0</text>
<line x1="427.40" y1="416.40" x2="429.90" y2="416.40" stroke="#231f20" stroke-width="1"/>
<text x="424.50" y="419.20" font-size="7.9" text-anchor="end" textLength="8.40" lengthAdjust="spacingAndGlyphs" stroke="#231f20" stroke-width="0.1">40</text>
<line x1="427.40" y1="397.90" x2="429.90" y2="397.90" stroke="#231f20" stroke-width="1"/>
<text x="424.50" y="400.70" font-size="7.9" text-anchor="end" textLength="8.40" lengthAdjust="spacingAndGlyphs" stroke="#231f20" stroke-width="0.1">80</text>
<line x1="427.40" y1="379.40" x2="429.90" y2="379.40" stroke="#231f20" stroke-width="1"/>
<text x="424.50" y="382.20" font-size="7.9" text-anchor="end" textLength="12.60" lengthAdjust="spacingAndGlyphs" stroke="#231f20" stroke-width="0.1">120</text>
<rect x="432.20" y="388.70" width="10.60" height="46.20" fill="#cc1a3a"/>
<rect x="432.20" y="394.89" width="10.60" height="40.01" fill="#3fae49"/>
<rect x="432.20" y="419.91" width="10.60" height="14.98" fill="#1d4e8f"/>
<line x1="437.50" y1="388.70" x2="437.50" y2="386.29" stroke="#333" stroke-width="0.8"/>
<line x1="435.90" y1="386.29" x2="439.10" y2="386.29" stroke="#333" stroke-width="0.8"/>
<line x1="432.20" y1="419.91" x2="442.80" y2="419.91" stroke="#1a2a40" stroke-width="0.6"/>
<line x1="432.20" y1="394.89" x2="442.80" y2="394.89" stroke="#2a6a2a" stroke-width="0.5"/>
<line x1="437.50" y1="434.90" x2="437.50" y2="437.10" stroke="#231f20" stroke-width="0.9"/>
<rect x="448.25" y="388.19" width="10.60" height="46.71" fill="#cc1a3a"/>
<rect x="448.25" y="393.92" width="10.60" height="40.98" fill="#3fae49"/>
<rect x="448.25" y="413.90" width="10.60" height="21.00" fill="#1d4e8f"/>
<line x1="453.55" y1="388.19" x2="453.55" y2="387.72" stroke="#333" stroke-width="0.8"/>
<line x1="451.95" y1="387.72" x2="455.15" y2="387.72" stroke="#333" stroke-width="0.8"/>
<line x1="448.25" y1="413.90" x2="458.85" y2="413.90" stroke="#1a2a40" stroke-width="0.6"/>
<line x1="448.25" y1="393.92" x2="458.85" y2="393.92" stroke="#2a6a2a" stroke-width="0.5"/>
<line x1="453.55" y1="434.90" x2="453.55" y2="437.10" stroke="#231f20" stroke-width="0.9"/>
<rect x="464.30" y="388.19" width="10.60" height="46.71" fill="#cc1a3a"/>
<rect x="464.30" y="393.92" width="10.60" height="40.98" fill="#3fae49"/>
<rect x="464.30" y="413.90" width="10.60" height="21.00" fill="#1d4e8f"/>
<line x1="469.60" y1="388.19" x2="469.60" y2="387.72" stroke="#333" stroke-width="0.8"/>
<line x1="468.00" y1="387.72" x2="471.20" y2="387.72" stroke="#333" stroke-width="0.8"/>
<line x1="464.30" y1="413.90" x2="474.90" y2="413.90" stroke="#1a2a40" stroke-width="0.6"/>
<line x1="464.30" y1="393.92" x2="474.90" y2="393.92" stroke="#2a6a2a" stroke-width="0.5"/>
<line x1="469.60" y1="434.90" x2="469.60" y2="437.10" stroke="#231f20" stroke-width="0.9"/>
<path d="M449.30,406.90 L449.30,409.90 M448.00,407.65 L450.60,409.15 M450.60,407.65 L448.00,409.15 " stroke="#111" stroke-width="0.9" fill="none"/>
<path d="M453.40,406.90 L453.40,409.90 M452.10,407.65 L454.70,409.15 M454.70,407.65 L452.10,409.15 " stroke="#111" stroke-width="0.9" fill="none"/>
<path d="M457.80,406.90 L457.80,409.90 M456.50,407.65 L459.10,409.15 M459.10,407.65 L456.50,409.15 " stroke="#111" stroke-width="0.9" fill="none"/>
<path d="M465.40,406.90 L465.40,409.90 M464.10,407.65 L466.70,409.15 M466.70,407.65 L464.10,409.15 " stroke="#111" stroke-width="0.9" fill="none"/>
<path d="M469.50,406.90 L469.50,409.90 M468.20,407.65 L470.80,409.15 M470.80,407.65 L468.20,409.15 " stroke="#111" stroke-width="0.9" fill="none"/>
<path d="M473.80,406.90 L473.80,409.90 M472.50,407.65 L475.10,409.15 M475.10,407.65 L472.50,409.15 " stroke="#111" stroke-width="0.9" fill="none"/>
<text x="437.60" y="448.20" font-size="7.9" text-anchor="middle" textLength="13.00" lengthAdjust="spacingAndGlyphs" stroke="#231f20" stroke-width="0.1">Ctrl</text>
<text x="453.55" y="448.20" font-size="7.9" text-anchor="middle" textLength="12.40" lengthAdjust="spacingAndGlyphs" stroke="#231f20" stroke-width="0.1">sg5</text>
<text x="470.00" y="448.20" font-size="7.9" text-anchor="middle" textLength="12.50" lengthAdjust="spacingAndGlyphs" stroke="#231f20" stroke-width="0.1">sg6</text>
<line x1="451.00" y1="451.30" x2="476.20" y2="451.30" stroke="#231f20" stroke-width="1.0"/>
<text x="443.60" y="464.70" font-size="8.0" font-style="italic" textLength="11.20" lengthAdjust="spacingAndGlyphs" stroke="#231f20" stroke-width="0.1">ID1</text>
<text x="455.20" y="460.10" font-size="4.6" textLength="7.20" lengthAdjust="spacingAndGlyphs" stroke="#231f20" stroke-width="0.1">−/−</text>
<text x="467.30" y="464.70" font-size="8.0" textLength="16.90" lengthAdjust="spacingAndGlyphs" stroke="#231f20" stroke-width="0.1">HS-5</text>
<text x="0" y="0" font-size="8.5" text-anchor="middle" transform="translate(394.30,406.80) rotate(-90)" textLength="34.8" lengthAdjust="spacingAndGlyphs" stroke="#231f20" stroke-width="0.1">MOLM-13</text>
<text x="0" y="0" font-size="8.5" text-anchor="middle" transform="translate(403.10,405.10) rotate(-90)" textLength="57.3" lengthAdjust="spacingAndGlyphs" stroke="#231f20" stroke-width="0.1">cell cycle phase%</text>
<text x="251.70" y="494.90" font-size="10.7" fill="#000" font-weight="bold" stroke="#000" stroke-width="0.1">L</text>
<text x="301.50" y="500.20" font-size="7.6" text-anchor="middle" textLength="29.60" lengthAdjust="spacingAndGlyphs" stroke="#231f20" stroke-width="0.1">AE9a or</text>
<text x="301.30" y="509.80" font-size="7.6" text-anchor="middle" textLength="32.90" lengthAdjust="spacingAndGlyphs" stroke="#231f20" stroke-width="0.1">MLL-AF9</text>
<text x="301.60" y="518.70" font-size="7.6" text-anchor="middle" textLength="38.80" lengthAdjust="spacingAndGlyphs" stroke="#231f20" stroke-width="0.1">expressing</text>
<text x="301.70" y="529.20" font-size="7.6" text-anchor="middle" textLength="27.50" lengthAdjust="spacingAndGlyphs" stroke="#231f20" stroke-width="0.1">cell line</text>
<text x="323" y="507.7" font-size="7.6" textLength="16.8" lengthAdjust="spacingAndGlyphs" stroke="#231f20" stroke-width="0.1">2x10</text>
<text x="340.00" y="503.60" font-size="4.6" stroke="#231f20" stroke-width="0.1">4</text>
<line x1="321.00" y1="510.40" x2="344.50" y2="510.40" stroke="#111" stroke-width="0.9"/>
<path d="M347.2,510.4 L343.2,508.5 L343.2,512.3 Z" stroke="none" fill="#111" stroke-width="0.8"/>
<text x="350.60" y="488.90" font-size="7.6" textLength="33.20" lengthAdjust="spacingAndGlyphs" stroke="#231f20" stroke-width="0.1">Recipient</text>
<g transform="translate(354.60,497.80)">
<path d="M1.5,6 C-1,4 -1,1 0.5,-2 C1.5,-4.5 0.5,-6.5 -0.5,-8" stroke="#666" fill="none" stroke-width="0.5"/>
<ellipse cx="8" cy="6" rx="7.5" ry="4.6" fill="#b9b9b9" stroke="#7a7a7a" stroke-width="0.4"/>
<ellipse cx="15.5" cy="6.6" rx="4.6" ry="3.6" fill="#b9b9b9" stroke="#7a7a7a" stroke-width="0.4"/>
<circle cx="13.3" cy="2.6" r="2.2" fill="#b9b9b9" stroke="#7a7a7a" stroke-width="0.4"/>
<circle cx="16.6" cy="2.4" r="2.0" fill="#b9b9b9" stroke="#7a7a7a" stroke-width="0.4"/>
<path d="M18.5,6.5 L21.5,9.6 L16,9.8 Z" fill="#7a7a7a"/>
<ellipse cx="6" cy="9.8" rx="3" ry="0.9" fill="#7a7a7a"/>
</g>
<g transform="translate(354.60,515.60)">
<path d="M1.5,6 C-1,4 -1,1 0.5,-2 C1.5,-4.5 0.5,-6.5 -0.5,-8" stroke="#666" fill="none" stroke-width="0.5"/>
<ellipse cx="8" cy="6" rx="7.5" ry="4.6" fill="#a8743c" stroke="#6b4a22" stroke-width="0.4"/>
<ellipse cx="15.5" cy="6.6" rx="4.6" ry="3.6" fill="#a8743c" stroke="#6b4a22" stroke-width="0.4"/>
<circle cx="13.3" cy="2.6" r="2.2" fill="#a8743c" stroke="#6b4a22" stroke-width="0.4"/>
<circle cx="16.6" cy="2.4" r="2.0" fill="#a8743c" stroke="#6b4a22" stroke-width="0.4"/>
<path d="M18.5,6.5 L21.5,9.6 L16,9.8 Z" fill="#6b4a22"/>
<ellipse cx="6" cy="9.8" rx="3" ry="0.9" fill="#6b4a22"/>
</g>
<text x="377.5" y="506.7" font-size="7.6" font-style="italic" stroke="#231f20" stroke-width="0.1">Id1</text>
<text x="388.20" y="502.40" font-size="5.0" textLength="9.20" lengthAdjust="spacingAndGlyphs" stroke="#231f20" stroke-width="0.1">+/+</text>
<text x="377.5" y="524.1" font-size="7.6" font-style="italic" stroke="#231f20" stroke-width="0.1">Id1</text>
<text x="388.20" y="519.80" font-size="5.0" textLength="9.20" lengthAdjust="spacingAndGlyphs" stroke="#231f20" stroke-width="0.1">−/−</text>
<path d="M352,537 L355.2,530.9 L358.4,537 Z" stroke="#555" fill="#b9c02a" stroke-width="0.4"/>
<text x="358.80" y="537.10" font-size="7.6" textLength="25.40" lengthAdjust="spacingAndGlyphs" stroke="#231f20" stroke-width="0.1">4.75Gy</text>
<line x1="389.00" y1="510.30" x2="404.50" y2="510.30" stroke="#111" stroke-width="0.9"/>
<path d="M407.4,510.3 L403.4,508.4 L403.4,512.2 Z" stroke="none" fill="#111" stroke-width="0.8"/>
<text x="429.40" y="503.60" font-size="7.6" text-anchor="middle" textLength="43.30" lengthAdjust="spacingAndGlyphs" stroke="#231f20" stroke-width="0.1">Survival and</text>
<text x="429.00" y="513.00" font-size="7.6" text-anchor="middle" textLength="34.00" lengthAdjust="spacingAndGlyphs" stroke="#231f20" stroke-width="0.1">luciferase</text>
<text x="429.40" y="521.60" font-size="7.6" text-anchor="middle" textLength="28.80" lengthAdjust="spacingAndGlyphs" stroke="#231f20" stroke-width="0.1">imaging</text>
<text x="6.3" y="558.1" font-size="10.2" font-weight="bold" fill="#000" textLength="10.6" lengthAdjust="spacingAndGlyphs" stroke="#000" stroke-width="0.1">M</text>
<text x="61.20" y="572.40" font-size="9.4" textLength="22.60" lengthAdjust="spacingAndGlyphs" stroke="#231f20" stroke-width="0.1">AE9a</text>
<line x1="40.50" y1="579.20" x2="40.50" y2="638.90" stroke="#231f20" stroke-width="1.2"/>
<line x1="39.90" y1="638.30" x2="106.00" y2="638.30" stroke="#231f20" stroke-width="1.2"/>
<line x1="37.70" y1="580.60" x2="40.50" y2="580.60" stroke="#231f20" stroke-width="1.1"/>
<text x="34.30" y="583.50" font-size="8.2" text-anchor="end" textLength="12.60" lengthAdjust="spacingAndGlyphs" stroke="#231f20" stroke-width="0.1">100</text>
<line x1="37.70" y1="609.45" x2="40.50" y2="609.45" stroke="#231f20" stroke-width="1.1"/>
<text x="34.30" y="612.35" font-size="8.2" text-anchor="end" textLength="8.50" lengthAdjust="spacingAndGlyphs" stroke="#231f20" stroke-width="0.1">50</text>
<line x1="37.70" y1="638.30" x2="40.50" y2="638.30" stroke="#231f20" stroke-width="1.1"/>
<text x="34.30" y="641.20" font-size="8.2" text-anchor="end" textLength="4.30" lengthAdjust="spacingAndGlyphs" stroke="#231f20" stroke-width="0.1">0</text>
<line x1="49.40" y1="638.30" x2="49.40" y2="641.00" stroke="#231f20" stroke-width="1.1"/>
<text x="49.40" y="652.10" font-size="8.4" text-anchor="middle" textLength="8.50" lengthAdjust="spacingAndGlyphs" stroke="#231f20" stroke-width="0.1">20</text>
<line x1="66.30" y1="638.30" x2="66.30" y2="641.00" stroke="#231f20" stroke-width="1.1"/>
<text x="66.30" y="652.10" font-size="8.4" text-anchor="middle" textLength="8.50" lengthAdjust="spacingAndGlyphs" stroke="#231f20" stroke-width="0.1">30</text>
<line x1="83.70" y1="638.30" x2="83.70" y2="641.00" stroke="#231f20" stroke-width="1.1"/>
<text x="83.70" y="652.10" font-size="8.4" text-anchor="middle" textLength="8.50" lengthAdjust="spacingAndGlyphs" stroke="#231f20" stroke-width="0.1">40</text>
<line x1="101.20" y1="638.30" x2="101.20" y2="641.00" stroke="#231f20" stroke-width="1.1"/>
<text x="101.20" y="652.10" font-size="8.4" text-anchor="middle" textLength="8.50" lengthAdjust="spacingAndGlyphs" stroke="#231f20" stroke-width="0.1">50</text>
<text x="72.50" y="663.60" font-size="8.8" text-anchor="middle" textLength="15.20" lengthAdjust="spacingAndGlyphs" stroke="#231f20" stroke-width="0.1">Days</text>
<text x="0" y="0" font-size="9.4" text-anchor="middle" transform="translate(15.10,607.95) rotate(-90)" textLength="26.7" lengthAdjust="spacingAndGlyphs" stroke="#231f20" stroke-width="0.1">Survival</text>
<path d="M82,48 H155 V100 H165 V160 H225 V190 H235 V215 H290 V240 H295 V270 H360 V300 H375 V330 H385 V360 H400 V400 H405 V435 H415 V465 H420 V495 H440 V548" transform="translate(38,575) scale(0.11538)" stroke="#c8304e" fill="none" stroke-width="1.25" vector-effect="non-scaling-stroke"/>
<path d="M22,48 H82 V100 H92 V125 H98 V155 H105 V185 H115 V215 H135 V245 H150 V270 H158 V300 H160 V325 H195 V355 H205 V385 H215 V410 H222 V440 H235 V465 H245 V490 H270 V510 H278 V548" transform="translate(38,575) scale(0.11538)" stroke="#3b6592" fill="none" stroke-width="1.25" vector-effect="non-scaling-stroke"/>
<line x1="72.20" y1="583.30" x2="81.60" y2="583.30" stroke="#3b6592" stroke-width="1.2"/>
<line x1="72.20" y1="591.60" x2="81.60" y2="591.60" stroke="#c8304e" stroke-width="1.2"/>
<text x="84.80" y="586.30" font-size="8.2" font-style="italic" fill="#3b6592" textLength="9.6" lengthAdjust="spacingAndGlyphs" stroke="#3b6592" stroke-width="0.1">Id1</text>
<text x="96.40" y="581.50" font-size="4.6" fill="#3b6592" textLength="8.20" lengthAdjust="spacingAndGlyphs" stroke="#3b6592" stroke-width="0.1">+/+</text>
<text x="84.80" y="594.60" font-size="8.2" font-style="italic" fill="#c8304e" textLength="9.6" lengthAdjust="spacingAndGlyphs" stroke="#c8304e" stroke-width="0.1">Id1</text>
<text x="96.40" y="589.80" font-size="4.6" fill="#c8304e" textLength="8.20" lengthAdjust="spacingAndGlyphs" stroke="#c8304e" stroke-width="0.1">−/−</text>
<text x="76.80" y="602.6" font-size="8.2" textLength="28.4" lengthAdjust="spacingAndGlyphs" stroke="#231f20" stroke-width="0.1"><tspan font-style="italic">P</tspan> = .002</text>
<text x="163.10" y="572.40" font-size="9.4" textLength="38.00" lengthAdjust="spacingAndGlyphs" stroke="#231f20" stroke-width="0.1">MLL-AF9</text>
<line x1="149.90" y1="581.80" x2="149.90" y2="638.70" stroke="#231f20" stroke-width="1.2"/>
<line x1="149.30" y1="638.10" x2="215.60" y2="638.10" stroke="#231f20" stroke-width="1.2"/>
<line x1="147.10" y1="583.20" x2="149.90" y2="583.20" stroke="#231f20" stroke-width="1.1"/>
<text x="143.70" y="586.10" font-size="8.2" text-anchor="end" textLength="12.60" lengthAdjust="spacingAndGlyphs" stroke="#231f20" stroke-width="0.1">100</text>
<line x1="147.10" y1="610.65" x2="149.90" y2="610.65" stroke="#231f20" stroke-width="1.1"/>
<text x="143.70" y="613.55" font-size="8.2" text-anchor="end" textLength="8.50" lengthAdjust="spacingAndGlyphs" stroke="#231f20" stroke-width="0.1">50</text>
<line x1="147.10" y1="638.10" x2="149.90" y2="638.10" stroke="#231f20" stroke-width="1.1"/>
<text x="143.70" y="641.00" font-size="8.2" text-anchor="end" textLength="4.30" lengthAdjust="spacingAndGlyphs" stroke="#231f20" stroke-width="0.1">0</text>
<line x1="158.30" y1="638.10" x2="158.30" y2="640.80" stroke="#231f20" stroke-width="1.1"/>
<text x="158.30" y="652.10" font-size="8.4" text-anchor="middle" textLength="8.50" lengthAdjust="spacingAndGlyphs" stroke="#231f20" stroke-width="0.1">20</text>
<line x1="175.80" y1="638.10" x2="175.80" y2="640.80" stroke="#231f20" stroke-width="1.1"/>
<text x="175.80" y="652.10" font-size="8.4" text-anchor="middle" textLength="8.50" lengthAdjust="spacingAndGlyphs" stroke="#231f20" stroke-width="0.1">30</text>
<line x1="193.30" y1="638.10" x2="193.30" y2="640.80" stroke="#231f20" stroke-width="1.1"/>
<text x="193.30" y="652.10" font-size="8.4" text-anchor="middle" textLength="8.50" lengthAdjust="spacingAndGlyphs" stroke="#231f20" stroke-width="0.1">40</text>
<line x1="210.80" y1="638.10" x2="210.80" y2="640.80" stroke="#231f20" stroke-width="1.1"/>
<text x="210.80" y="652.10" font-size="8.4" text-anchor="middle" textLength="8.50" lengthAdjust="spacingAndGlyphs" stroke="#231f20" stroke-width="0.1">50</text>
<text x="181.90" y="663.60" font-size="8.8" text-anchor="middle" textLength="15.20" lengthAdjust="spacingAndGlyphs" stroke="#231f20" stroke-width="0.1">Days</text>
<text x="0" y="0" font-size="9.4" text-anchor="middle" transform="translate(124.60,609.15) rotate(-90)" textLength="26.7" lengthAdjust="spacingAndGlyphs" stroke="#231f20" stroke-width="0.1">Survival</text>
<path d="M85,45 H160 V75 H165 V110 H185 V145 H210 V185 H260 V210 H270 V240 H280 V270 H320 V300 H330 V325 H350 V345 H360 V375 H375 V410 H380 V435 H390 V470 H400 V495 V520" transform="translate(147,578) scale(0.11538)" stroke="#c8304e" fill="none" stroke-width="1.25" vector-effect="non-scaling-stroke"/>
<path d="M25,45 H85 V75 H95 V98 H108 V125 H120 V145 H130 V180 H140 V210 H155 V245 H165 V270 H180 V285 H200 V310 H210 V335 H220 V360 H232 V380 H245 V400 H255 V430 H265 V465 H280 V490 V520" transform="translate(147,578) scale(0.11538)" stroke="#3b6592" fill="none" stroke-width="1.25" vector-effect="non-scaling-stroke"/>
<line x1="182.80" y1="583.30" x2="192.20" y2="583.30" stroke="#3b6592" stroke-width="1.2"/>
<line x1="182.80" y1="591.60" x2="192.20" y2="591.60" stroke="#c8304e" stroke-width="1.2"/>
<text x="195.40" y="586.30" font-size="8.2" font-style="italic" fill="#3b6592" textLength="9.6" lengthAdjust="spacingAndGlyphs" stroke="#3b6592" stroke-width="0.1">Id1</text>
<text x="207.00" y="581.50" font-size="4.6" fill="#3b6592" textLength="8.20" lengthAdjust="spacingAndGlyphs" stroke="#3b6592" stroke-width="0.1">+/+</text>
<text x="195.40" y="594.60" font-size="8.2" font-style="italic" fill="#c8304e" textLength="9.6" lengthAdjust="spacingAndGlyphs" stroke="#c8304e" stroke-width="0.1">Id1</text>
<text x="207.00" y="589.80" font-size="4.6" fill="#c8304e" textLength="8.20" lengthAdjust="spacingAndGlyphs" stroke="#c8304e" stroke-width="0.1">−/−</text>
<text x="187.40" y="602.6" font-size="8.2" textLength="28.4" lengthAdjust="spacingAndGlyphs" stroke="#231f20" stroke-width="0.1"><tspan font-style="italic">P</tspan> = .005</text>
<text x="51.90" y="623.50" font-size="8.8" text-anchor="middle" fill="#3b6592" textLength="8.80" lengthAdjust="spacingAndGlyphs" stroke="#3b6592" stroke-width="0.1">24</text>
<text x="51.75" y="632.50" font-size="8.8" text-anchor="middle" fill="#3b6592" textLength="16.50" lengthAdjust="spacingAndGlyphs" stroke="#3b6592" stroke-width="0.1">days</text>
<text x="93.75" y="614.80" font-size="8.8" text-anchor="middle" fill="#c8304e" textLength="8.70" lengthAdjust="spacingAndGlyphs" stroke="#c8304e" stroke-width="0.1">38</text>
<text x="93.75" y="623.70" font-size="8.8" text-anchor="middle" fill="#c8304e" textLength="16.30" lengthAdjust="spacingAndGlyphs" stroke="#c8304e" stroke-width="0.1">days</text>
<text x="162.50" y="623.10" font-size="8.8" text-anchor="middle" fill="#3b6592" textLength="16.20" lengthAdjust="spacingAndGlyphs" stroke="#3b6592" stroke-width="0.1">25.5</text>
<text x="162.20" y="631.80" font-size="8.8" text-anchor="middle" fill="#3b6592" textLength="15.60" lengthAdjust="spacingAndGlyphs" stroke="#3b6592" stroke-width="0.1">days</text>
<text x="200.30" y="615.60" font-size="8.8" text-anchor="middle" fill="#c8304e" textLength="15.60" lengthAdjust="spacingAndGlyphs" stroke="#c8304e" stroke-width="0.1">33.5</text>
<text x="200.30" y="623.90" font-size="8.8" text-anchor="middle" fill="#c8304e" textLength="15.60" lengthAdjust="spacingAndGlyphs" stroke="#c8304e" stroke-width="0.1">days</text>
<text x="224.70" y="557.40" font-size="10.7" fill="#000" font-weight="bold" stroke="#000" stroke-width="0.1">N</text>
<text x="250.00" y="566.20" font-size="9.0" textLength="21.90" lengthAdjust="spacingAndGlyphs" stroke="#231f20" stroke-width="0.1">AE9a</text>
<text x="389.30" y="565.00" font-size="9.4" textLength="38.00" lengthAdjust="spacingAndGlyphs" stroke="#231f20" stroke-width="0.1">MLL-AF9</text>
<rect x="228.00" y="573.20" width="63.00" height="33.40" fill="#9c9c9c"/>
<path d="M0,0 C1.6,0 2.6,1.2 2.8,2.6 C4.2,2.8 4.4,4.8 3.4,6 C4.8,8.5 5.3,13 5.1,17 C5,20 4.4,21.5 4.8,23.6 L3.2,23.4 L1.4,22.8 L0.5,28 L-0.5,28 L-1.4,22.8 L-3.2,23.4 L-4.8,23.6 C-4.4,21.5 -5,20 -5.1,17 C-5.3,13 -4.8,8.5 -3.4,6 C-4.4,4.8 -4.2,2.8 -2.8,2.6 C-2.6,1.2 -1.6,0 0,0 Z" transform="translate(238.40,574.80) scale(0.991,1.071)" fill="#767676" filter="url(#bl2)"/>
<ellipse cx="238.40" cy="588.30" rx="5.04" ry="13.20" fill="#1c2a90" opacity="1.0" filter="url(#bl)"/>
<ellipse cx="238.40" cy="583.80" rx="3.78" ry="6.60" fill="#2a7cd0" opacity="1.0" filter="url(#bl)"/>
<ellipse cx="238.40" cy="591.30" rx="2.73" ry="4.20" fill="#2a70c8" opacity="1.0" filter="url(#bl)"/>
<ellipse cx="238.70" cy="596.70" rx="3.99" ry="3.00" fill="#3cae58" opacity="1.0" filter="url(#bl)"/>
<ellipse cx="238.40" cy="582.00" rx="2.31" ry="4.50" fill="#c8c840" opacity="0.9" filter="url(#bl)"/>
<ellipse cx="238.40" cy="581.10" rx="1.79" ry="3.60" fill="#e22a1c" opacity="1.0" filter="url(#bl)"/>
<ellipse cx="240.40" cy="596.70" rx="1.57" ry="2.10" fill="#e22a1c" opacity="1.0" filter="url(#bl)"/>
<path d="M235.40,600.30 L235.10,605.40" stroke="#d8e0f0" stroke-width="0.8" opacity="0.8"/>
<path d="M237.40,600.30 L237.30,605.40" stroke="#d8e0f0" stroke-width="0.8" opacity="0.8"/>
<path d="M239.90,600.30 L240.05,605.40" stroke="#d8e0f0" stroke-width="0.8" opacity="0.8"/>
<path d="M241.60,600.30 L241.92,605.40" stroke="#d8e0f0" stroke-width="0.8" opacity="0.8"/>
<ellipse cx="238.40" cy="600.60" rx="3.15" ry="1.80" fill="#2a3fb0" opacity="0.8" filter="url(#bl)"/>
<path d="M0,0 C1.6,0 2.6,1.2 2.8,2.6 C4.2,2.8 4.4,4.8 3.4,6 C4.8,8.5 5.3,13 5.1,17 C5,20 4.4,21.5 4.8,23.6 L3.2,23.4 L1.4,22.8 L0.5,28 L-0.5,28 L-1.4,22.8 L-3.2,23.4 L-4.8,23.6 C-4.4,21.5 -5,20 -5.1,17 C-5.3,13 -4.8,8.5 -3.4,6 C-4.4,4.8 -4.2,2.8 -2.8,2.6 C-2.6,1.2 -1.6,0 0,0 Z" transform="translate(251.50,574.80) scale(0.991,1.071)" fill="#767676" filter="url(#bl2)"/>
<ellipse cx="251.50" cy="588.30" rx="5.04" ry="13.20" fill="#1c2a90" opacity="1.0" filter="url(#bl)"/>
<ellipse cx="251.50" cy="583.80" rx="3.78" ry="6.60" fill="#2a7cd0" opacity="1.0" filter="url(#bl)"/>
<ellipse cx="251.50" cy="591.30" rx="2.73" ry="4.20" fill="#2a70c8" opacity="1.0" filter="url(#bl)"/>
<ellipse cx="251.80" cy="596.70" rx="3.99" ry="3.00" fill="#3cae58" opacity="1.0" filter="url(#bl)"/>
<ellipse cx="251.50" cy="582.00" rx="2.31" ry="4.50" fill="#c8c840" opacity="0.9" filter="url(#bl)"/>
<ellipse cx="251.50" cy="581.10" rx="1.79" ry="3.60" fill="#e22a1c" opacity="1.0" filter="url(#bl)"/>
<ellipse cx="253.50" cy="596.70" rx="1.57" ry="2.10" fill="#e0a020" opacity="1.0" filter="url(#bl)"/>
<path d="M248.50,600.30 L248.20,605.40" stroke="#d8e0f0" stroke-width="0.8" opacity="0.8"/>
<path d="M250.50,600.30 L250.40,605.40" stroke="#d8e0f0" stroke-width="0.8" opacity="0.8"/>
<path d="M253.00,600.30 L253.15,605.40" stroke="#d8e0f0" stroke-width="0.8" opacity="0.8"/>
<path d="M254.70,600.30 L255.02,605.40" stroke="#d8e0f0" stroke-width="0.8" opacity="0.8"/>
<ellipse cx="251.50" cy="600.60" rx="3.15" ry="1.80" fill="#2a3fb0" opacity="0.8" filter="url(#bl)"/>
<path d="M0,0 C1.6,0 2.6,1.2 2.8,2.6 C4.2,2.8 4.4,4.8 3.4,6 C4.8,8.5 5.3,13 5.1,17 C5,20 4.4,21.5 4.8,23.6 L3.2,23.4 L1.4,22.8 L0.5,28 L-0.5,28 L-1.4,22.8 L-3.2,23.4 L-4.8,23.6 C-4.4,21.5 -5,20 -5.1,17 C-5.3,13 -4.8,8.5 -3.4,6 C-4.4,4.8 -4.2,2.8 -2.8,2.6 C-2.6,1.2 -1.6,0 0,0 Z" transform="translate(263.80,575.50) scale(0.943,1.036)" fill="#767676" filter="url(#bl2)"/>
<path d="M0,0 C1.6,0 2.6,1.2 2.8,2.6 C4.2,2.8 4.4,4.8 3.4,6 C4.8,8.5 5.3,13 5.1,17 C5,20 4.4,21.5 4.8,23.6 L3.2,23.4 L1.4,22.8 L0.5,28 L-0.5,28 L-1.4,22.8 L-3.2,23.4 L-4.8,23.6 C-4.4,21.5 -5,20 -5.1,17 C-5.3,13 -4.8,8.5 -3.4,6 C-4.4,4.8 -4.2,2.8 -2.8,2.6 C-2.6,1.2 -1.6,0 0,0 Z" transform="translate(263.80,576.50) scale(0.802,0.964)" fill="#7a7a80" filter="url(#bl2)"/>
<ellipse cx="263.80" cy="583.62" rx="3.40" ry="4.35" fill="#2c4c98" opacity="0.85" filter="url(#bl)"/>
<ellipse cx="264.30" cy="584.20" rx="1.50" ry="2.32" fill="#6a9ad0" opacity="0.8" filter="url(#bl)"/>
<ellipse cx="263.30" cy="595.22" rx="3.40" ry="3.48" fill="#3a3a98" opacity="0.8" filter="url(#bl)"/>
<ellipse cx="264.80" cy="590.00" rx="2.00" ry="2.90" fill="#9a9aa8" opacity="0.6" filter="url(#bl)"/>
<path d="M261.30,598.70 L261.05,604.50" stroke="#d8d8e8" stroke-width="0.7" opacity="0.7"/>
<path d="M264.30,598.70 L264.35,604.50" stroke="#d8d8e8" stroke-width="0.7" opacity="0.7"/>
<path d="M266.60,598.70 L266.88,604.50" stroke="#d8d8e8" stroke-width="0.7" opacity="0.7"/>
<path d="M0,0 C1.6,0 2.6,1.2 2.8,2.6 C4.2,2.8 4.4,4.8 3.4,6 C4.8,8.5 5.3,13 5.1,17 C5,20 4.4,21.5 4.8,23.6 L3.2,23.4 L1.4,22.8 L0.5,28 L-0.5,28 L-1.4,22.8 L-3.2,23.4 L-4.8,23.6 C-4.4,21.5 -5,20 -5.1,17 C-5.3,13 -4.8,8.5 -3.4,6 C-4.4,4.8 -4.2,2.8 -2.8,2.6 C-2.6,1.2 -1.6,0 0,0 Z" transform="translate(276.50,576.00) scale(0.991,1.018)" fill="#767676" filter="url(#bl2)"/>
<path d="M0,0 C1.6,0 2.6,1.2 2.8,2.6 C4.2,2.8 4.4,4.8 3.4,6 C4.8,8.5 5.3,13 5.1,17 C5,20 4.4,21.5 4.8,23.6 L3.2,23.4 L1.4,22.8 L0.5,28 L-0.5,28 L-1.4,22.8 L-3.2,23.4 L-4.8,23.6 C-4.4,21.5 -5,20 -5.1,17 C-5.3,13 -4.8,8.5 -3.4,6 C-4.4,4.8 -4.2,2.8 -2.8,2.6 C-2.6,1.2 -1.6,0 0,0 Z" transform="translate(276.50,577.00) scale(0.842,0.946)" fill="#6e6e6e" filter="url(#bl2)"/>
<ellipse cx="275.50" cy="584.55" rx="2.62" ry="3.42" fill="#4a5a88" opacity="0.8" filter="url(#bl)"/>
<ellipse cx="277.50" cy="591.67" rx="2.10" ry="4.27" fill="#888" opacity="0.7" filter="url(#bl)"/>
<path d="M274.00,598.80 L273.75,604.50" stroke="#d0d0d0" stroke-width="0.7" opacity="0.7"/>
<path d="M277.00,598.80 L277.05,604.50" stroke="#d0d0d0" stroke-width="0.7" opacity="0.7"/>
<path d="M279.30,598.80 L279.58,604.50" stroke="#d0d0d0" stroke-width="0.7" opacity="0.7"/>
<rect x="270.50" y="573.20" width="20.50" height="7.60" fill="#b4b4b4" opacity="0.85"/>
<text x="271.80" y="579.90" font-size="7.4" font-weight="bold" font-style="italic" fill="#000" textLength="10.4" lengthAdjust="spacingAndGlyphs" stroke="#000" stroke-width="0.1">Id1</text>
<text x="283.60" y="576.80" font-size="3.8" fill="#111" font-weight="bold" stroke="#111" stroke-width="0.1">+/+</text>
<rect x="228.00" y="608.50" width="63.00" height="33.20" fill="#4e4e4e"/>
<path d="M0,0 C1.6,0 2.6,1.2 2.8,2.6 C4.2,2.8 4.4,4.8 3.4,6 C4.8,8.5 5.3,13 5.1,17 C5,20 4.4,21.5 4.8,23.6 L3.2,23.4 L1.4,22.8 L0.5,28 L-0.5,28 L-1.4,22.8 L-3.2,23.4 L-4.8,23.6 C-4.4,21.5 -5,20 -5.1,17 C-5.3,13 -4.8,8.5 -3.4,6 C-4.4,4.8 -4.2,2.8 -2.8,2.6 C-2.6,1.2 -1.6,0 0,0 Z" transform="translate(237.90,612.80) scale(0.991,0.929)" fill="#9a9a9a" filter="url(#bl2)"/>
<path d="M0,0 C1.6,0 2.6,1.2 2.8,2.6 C4.2,2.8 4.4,4.8 3.4,6 C4.8,8.5 5.3,13 5.1,17 C5,20 4.4,21.5 4.8,23.6 L3.2,23.4 L1.4,22.8 L0.5,28 L-0.5,28 L-1.4,22.8 L-3.2,23.4 L-4.8,23.6 C-4.4,21.5 -5,20 -5.1,17 C-5.3,13 -4.8,8.5 -3.4,6 C-4.4,4.8 -4.2,2.8 -2.8,2.6 C-2.6,1.2 -1.6,0 0,0 Z" transform="translate(237.90,614.00) scale(0.832,0.821)" fill="#c8c8c8" filter="url(#bl2)"/>
<path d="M0,0 C1.6,0 2.6,1.2 2.8,2.6 C4.2,2.8 4.4,4.8 3.4,6 C4.8,8.5 5.3,13 5.1,17 C5,20 4.4,21.5 4.8,23.6 L3.2,23.4 L1.4,22.8 L0.5,28 L-0.5,28 L-1.4,22.8 L-3.2,23.4 L-4.8,23.6 C-4.4,21.5 -5,20 -5.1,17 C-5.3,13 -4.8,8.5 -3.4,6 C-4.4,4.8 -4.2,2.8 -2.8,2.6 C-2.6,1.2 -1.6,0 0,0 Z" transform="translate(250.70,610.80) scale(1.038,1.000)" fill="#9a9a9a" filter="url(#bl2)"/>
<path d="M0,0 C1.6,0 2.6,1.2 2.8,2.6 C4.2,2.8 4.4,4.8 3.4,6 C4.8,8.5 5.3,13 5.1,17 C5,20 4.4,21.5 4.8,23.6 L3.2,23.4 L1.4,22.8 L0.5,28 L-0.5,28 L-1.4,22.8 L-3.2,23.4 L-4.8,23.6 C-4.4,21.5 -5,20 -5.1,17 C-5.3,13 -4.8,8.5 -3.4,6 C-4.4,4.8 -4.2,2.8 -2.8,2.6 C-2.6,1.2 -1.6,0 0,0 Z" transform="translate(250.70,612.00) scale(0.872,0.893)" fill="#eeeeee" filter="url(#bl2)"/>
<path d="M0,0 C1.6,0 2.6,1.2 2.8,2.6 C4.2,2.8 4.4,4.8 3.4,6 C4.8,8.5 5.3,13 5.1,17 C5,20 4.4,21.5 4.8,23.6 L3.2,23.4 L1.4,22.8 L0.5,28 L-0.5,28 L-1.4,22.8 L-3.2,23.4 L-4.8,23.6 C-4.4,21.5 -5,20 -5.1,17 C-5.3,13 -4.8,8.5 -3.4,6 C-4.4,4.8 -4.2,2.8 -2.8,2.6 C-2.6,1.2 -1.6,0 0,0 Z" transform="translate(265.40,612.50) scale(1.000,0.946)" fill="#9a9a9a" filter="url(#bl2)"/>
<path d="M0,0 C1.6,0 2.6,1.2 2.8,2.6 C4.2,2.8 4.4,4.8 3.4,6 C4.8,8.5 5.3,13 5.1,17 C5,20 4.4,21.5 4.8,23.6 L3.2,23.4 L1.4,22.8 L0.5,28 L-0.5,28 L-1.4,22.8 L-3.2,23.4 L-4.8,23.6 C-4.4,21.5 -5,20 -5.1,17 C-5.3,13 -4.8,8.5 -3.4,6 C-4.4,4.8 -4.2,2.8 -2.8,2.6 C-2.6,1.2 -1.6,0 0,0 Z" transform="translate(265.40,613.70) scale(0.840,0.839)" fill="#e8e8e8" filter="url(#bl2)"/>
<path d="M0,0 C1.6,0 2.6,1.2 2.8,2.6 C4.2,2.8 4.4,4.8 3.4,6 C4.8,8.5 5.3,13 5.1,17 C5,20 4.4,21.5 4.8,23.6 L3.2,23.4 L1.4,22.8 L0.5,28 L-0.5,28 L-1.4,22.8 L-3.2,23.4 L-4.8,23.6 C-4.4,21.5 -5,20 -5.1,17 C-5.3,13 -4.8,8.5 -3.4,6 C-4.4,4.8 -4.2,2.8 -2.8,2.6 C-2.6,1.2 -1.6,0 0,0 Z" transform="translate(279.50,614.50) scale(0.962,0.875)" fill="#9a9a9a" filter="url(#bl2)"/>
<path d="M0,0 C1.6,0 2.6,1.2 2.8,2.6 C4.2,2.8 4.4,4.8 3.4,6 C4.8,8.5 5.3,13 5.1,17 C5,20 4.4,21.5 4.8,23.6 L3.2,23.4 L1.4,22.8 L0.5,28 L-0.5,28 L-1.4,22.8 L-3.2,23.4 L-4.8,23.6 C-4.4,21.5 -5,20 -5.1,17 C-5.3,13 -4.8,8.5 -3.4,6 C-4.4,4.8 -4.2,2.8 -2.8,2.6 C-2.6,1.2 -1.6,0 0,0 Z" transform="translate(279.50,615.70) scale(0.808,0.768)" fill="#e4e4e4" filter="url(#bl2)"/>
<rect x="270.50" y="608.50" width="20.50" height="7.60" fill="#7a7a7a" opacity="0.9"/>
<text x="271.80" y="615.20" font-size="7.4" font-weight="bold" font-style="italic" fill="#000" textLength="10.4" lengthAdjust="spacingAndGlyphs" stroke="#000" stroke-width="0.1">Id1</text>
<text x="283.60" y="612.10" font-size="3.8" fill="#ddd" font-weight="bold" stroke="#ddd" stroke-width="0.1">−/−</text>
<rect x="228.30" y="643.80" width="62.40" height="2.40" fill="url(#cbar)"/>
<text x="237.10" y="652.20" font-size="5.6" fill="#333" textLength="14.60" lengthAdjust="spacingAndGlyphs" stroke="#333" stroke-width="0.1">20000</text>
<text x="254.80" y="652.20" font-size="5.6" fill="#333" textLength="14.80" lengthAdjust="spacingAndGlyphs" stroke="#333" stroke-width="0.1">40000</text>
<text x="273.40" y="652.20" font-size="5.6" fill="#333" textLength="14.80" lengthAdjust="spacingAndGlyphs" stroke="#333" stroke-width="0.1">60000</text>
<rect x="375.50" y="571.30" width="63.50" height="33.10" fill="#9c9c9c"/>
<path d="M0,0 C1.6,0 2.6,1.2 2.8,2.6 C4.2,2.8 4.4,4.8 3.4,6 C4.8,8.5 5.3,13 5.1,17 C5,20 4.4,21.5 4.8,23.6 L3.2,23.4 L1.4,22.8 L0.5,28 L-0.5,28 L-1.4,22.8 L-3.2,23.4 L-4.8,23.6 C-4.4,21.5 -5,20 -5.1,17 C-5.3,13 -4.8,8.5 -3.4,6 C-4.4,4.8 -4.2,2.8 -2.8,2.6 C-2.6,1.2 -1.6,0 0,0 Z" transform="translate(385.60,573.20) scale(0.981,1.036)" fill="#767676" filter="url(#bl2)"/>
<ellipse cx="385.60" cy="586.25" rx="4.78" ry="12.18" fill="#1e2a8a" opacity="1.0" filter="url(#bl)"/>
<ellipse cx="385.60" cy="585.38" rx="3.12" ry="8.70" fill="#3a5ed0" opacity="1.0" filter="url(#bl)"/>
<ellipse cx="384.80" cy="580.45" rx="1.46" ry="2.32" fill="#7090e0" opacity="0.8" filter="url(#bl)"/>
<ellipse cx="385.10" cy="587.70" rx="1.66" ry="2.90" fill="#38b8c8" opacity="0.9" filter="url(#bl)"/>
<ellipse cx="385.60" cy="596.40" rx="3.74" ry="2.32" fill="#2638b0" opacity="1.0" filter="url(#bl)"/>
<path d="M382.60,598.14 L382.30,602.78" stroke="#e0e4f0" stroke-width="0.8" opacity="0.85"/>
<path d="M384.60,598.14 L384.50,602.78" stroke="#e0e4f0" stroke-width="0.8" opacity="0.85"/>
<path d="M387.10,598.14 L387.25,602.78" stroke="#e0e4f0" stroke-width="0.8" opacity="0.85"/>
<path d="M388.80,598.14 L389.12,602.78" stroke="#e0e4f0" stroke-width="0.8" opacity="0.85"/>
<path d="M0,0 C1.6,0 2.6,1.2 2.8,2.6 C4.2,2.8 4.4,4.8 3.4,6 C4.8,8.5 5.3,13 5.1,17 C5,20 4.4,21.5 4.8,23.6 L3.2,23.4 L1.4,22.8 L0.5,28 L-0.5,28 L-1.4,22.8 L-3.2,23.4 L-4.8,23.6 C-4.4,21.5 -5,20 -5.1,17 C-5.3,13 -4.8,8.5 -3.4,6 C-4.4,4.8 -4.2,2.8 -2.8,2.6 C-2.6,1.2 -1.6,0 0,0 Z" transform="translate(398.80,573.20) scale(1.019,1.036)" fill="#767676" filter="url(#bl2)"/>
<ellipse cx="398.80" cy="586.25" rx="4.97" ry="12.18" fill="#1e2a8a" opacity="1.0" filter="url(#bl)"/>
<ellipse cx="398.80" cy="585.38" rx="3.24" ry="8.70" fill="#3a5ed0" opacity="1.0" filter="url(#bl)"/>
<ellipse cx="398.00" cy="580.45" rx="1.51" ry="2.32" fill="#7090e0" opacity="0.8" filter="url(#bl)"/>
<ellipse cx="398.30" cy="587.70" rx="1.73" ry="2.90" fill="#38b8c8" opacity="0.9" filter="url(#bl)"/>
<ellipse cx="398.80" cy="596.40" rx="3.89" ry="2.32" fill="#2638b0" opacity="1.0" filter="url(#bl)"/>
<path d="M395.80,598.14 L395.50,602.78" stroke="#e0e4f0" stroke-width="0.8" opacity="0.85"/>
<path d="M397.80,598.14 L397.70,602.78" stroke="#e0e4f0" stroke-width="0.8" opacity="0.85"/>
<path d="M400.30,598.14 L400.45,602.78" stroke="#e0e4f0" stroke-width="0.8" opacity="0.85"/>
<path d="M402.00,598.14 L402.32,602.78" stroke="#e0e4f0" stroke-width="0.8" opacity="0.85"/>
<path d="M0,0 C1.6,0 2.6,1.2 2.8,2.6 C4.2,2.8 4.4,4.8 3.4,6 C4.8,8.5 5.3,13 5.1,17 C5,20 4.4,21.5 4.8,23.6 L3.2,23.4 L1.4,22.8 L0.5,28 L-0.5,28 L-1.4,22.8 L-3.2,23.4 L-4.8,23.6 C-4.4,21.5 -5,20 -5.1,17 C-5.3,13 -4.8,8.5 -3.4,6 C-4.4,4.8 -4.2,2.8 -2.8,2.6 C-2.6,1.2 -1.6,0 0,0 Z" transform="translate(412.80,573.80) scale(0.925,1.018)" fill="#767676" filter="url(#bl2)"/>
<path d="M0,0 C1.6,0 2.6,1.2 2.8,2.6 C4.2,2.8 4.4,4.8 3.4,6 C4.8,8.5 5.3,13 5.1,17 C5,20 4.4,21.5 4.8,23.6 L3.2,23.4 L1.4,22.8 L0.5,28 L-0.5,28 L-1.4,22.8 L-3.2,23.4 L-4.8,23.6 C-4.4,21.5 -5,20 -5.1,17 C-5.3,13 -4.8,8.5 -3.4,6 C-4.4,4.8 -4.2,2.8 -2.8,2.6 C-2.6,1.2 -1.6,0 0,0 Z" transform="translate(412.80,574.80) scale(0.786,0.946)" fill="#b4b4b4" filter="url(#bl2)"/>
<ellipse cx="412.80" cy="579.50" rx="1.96" ry="2.28" fill="#d8d8d8" opacity="0.8" filter="url(#bl)"/>
<ellipse cx="412.80" cy="596.60" rx="2.94" ry="2.00" fill="#3a48a8" opacity="0.7" filter="url(#bl)"/>
<path d="M410.30,597.74 L410.05,602.87" stroke="#e8e8e8" stroke-width="0.8" opacity="0.85"/>
<path d="M413.30,597.74 L413.35,602.87" stroke="#e8e8e8" stroke-width="0.8" opacity="0.85"/>
<path d="M415.60,597.74 L415.88,602.87" stroke="#e8e8e8" stroke-width="0.8" opacity="0.85"/>
<path d="M0,0 C1.6,0 2.6,1.2 2.8,2.6 C4.2,2.8 4.4,4.8 3.4,6 C4.8,8.5 5.3,13 5.1,17 C5,20 4.4,21.5 4.8,23.6 L3.2,23.4 L1.4,22.8 L0.5,28 L-0.5,28 L-1.4,22.8 L-3.2,23.4 L-4.8,23.6 C-4.4,21.5 -5,20 -5.1,17 C-5.3,13 -4.8,8.5 -3.4,6 C-4.4,4.8 -4.2,2.8 -2.8,2.6 C-2.6,1.2 -1.6,0 0,0 Z" transform="translate(426.80,574.20) scale(0.981,1.018)" fill="#767676" filter="url(#bl2)"/>
<ellipse cx="426.80" cy="587.03" rx="4.78" ry="11.97" fill="#1e2a8a" opacity="1.0" filter="url(#bl)"/>
<ellipse cx="426.80" cy="586.17" rx="3.12" ry="8.55" fill="#3a5ed0" opacity="1.0" filter="url(#bl)"/>
<ellipse cx="426.00" cy="581.33" rx="1.46" ry="2.28" fill="#7090e0" opacity="0.8" filter="url(#bl)"/>
<ellipse cx="426.30" cy="588.45" rx="1.66" ry="2.85" fill="#38b8c8" opacity="0.9" filter="url(#bl)"/>
<ellipse cx="426.80" cy="597.00" rx="3.74" ry="2.28" fill="#2638b0" opacity="1.0" filter="url(#bl)"/>
<path d="M423.80,598.71 L423.50,603.27" stroke="#e0e4f0" stroke-width="0.8" opacity="0.85"/>
<path d="M425.80,598.71 L425.70,603.27" stroke="#e0e4f0" stroke-width="0.8" opacity="0.85"/>
<path d="M428.30,598.71 L428.45,603.27" stroke="#e0e4f0" stroke-width="0.8" opacity="0.85"/>
<path d="M430.00,598.71 L430.32,603.27" stroke="#e0e4f0" stroke-width="0.8" opacity="0.85"/>
<rect x="418.50" y="571.30" width="20.50" height="7.60" fill="#b4b4b4" opacity="0.85"/>
<text x="419.80" y="578.00" font-size="7.4" font-weight="bold" font-style="italic" fill="#000" textLength="10.4" lengthAdjust="spacingAndGlyphs" stroke="#000" stroke-width="0.1">Id1</text>
<text x="431.60" y="574.90" font-size="3.8" fill="#111" font-weight="bold" stroke="#111" stroke-width="0.1">+/+</text>
<rect x="375.50" y="606.30" width="63.50" height="33.10" fill="#4e4e4e"/>
<path d="M0,0 C1.6,0 2.6,1.2 2.8,2.6 C4.2,2.8 4.4,4.8 3.4,6 C4.8,8.5 5.3,13 5.1,17 C5,20 4.4,21.5 4.8,23.6 L3.2,23.4 L1.4,22.8 L0.5,28 L-0.5,28 L-1.4,22.8 L-3.2,23.4 L-4.8,23.6 C-4.4,21.5 -5,20 -5.1,17 C-5.3,13 -4.8,8.5 -3.4,6 C-4.4,4.8 -4.2,2.8 -2.8,2.6 C-2.6,1.2 -1.6,0 0,0 Z" transform="translate(385.30,610.50) scale(1.038,0.964)" fill="#9a9a9a" filter="url(#bl2)"/>
<path d="M0,0 C1.6,0 2.6,1.2 2.8,2.6 C4.2,2.8 4.4,4.8 3.4,6 C4.8,8.5 5.3,13 5.1,17 C5,20 4.4,21.5 4.8,23.6 L3.2,23.4 L1.4,22.8 L0.5,28 L-0.5,28 L-1.4,22.8 L-3.2,23.4 L-4.8,23.6 C-4.4,21.5 -5,20 -5.1,17 C-5.3,13 -4.8,8.5 -3.4,6 C-4.4,4.8 -4.2,2.8 -2.8,2.6 C-2.6,1.2 -1.6,0 0,0 Z" transform="translate(385.30,611.70) scale(0.872,0.857)" fill="#e6e6e6" filter="url(#bl2)"/>
<ellipse cx="382.80" cy="627.50" rx="2.40" ry="2.16" fill="#2a3fb0" opacity="1.0" filter="url(#bl)"/>
<ellipse cx="387.10" cy="617.50" rx="1.20" ry="1.08" fill="#2a3fb0" opacity="1.0" filter="url(#bl)"/>
<path d="M0,0 C1.6,0 2.6,1.2 2.8,2.6 C4.2,2.8 4.4,4.8 3.4,6 C4.8,8.5 5.3,13 5.1,17 C5,20 4.4,21.5 4.8,23.6 L3.2,23.4 L1.4,22.8 L0.5,28 L-0.5,28 L-1.4,22.8 L-3.2,23.4 L-4.8,23.6 C-4.4,21.5 -5,20 -5.1,17 C-5.3,13 -4.8,8.5 -3.4,6 C-4.4,4.8 -4.2,2.8 -2.8,2.6 C-2.6,1.2 -1.6,0 0,0 Z" transform="translate(398.80,610.50) scale(1.038,0.964)" fill="#9a9a9a" filter="url(#bl2)"/>
<path d="M0,0 C1.6,0 2.6,1.2 2.8,2.6 C4.2,2.8 4.4,4.8 3.4,6 C4.8,8.5 5.3,13 5.1,17 C5,20 4.4,21.5 4.8,23.6 L3.2,23.4 L1.4,22.8 L0.5,28 L-0.5,28 L-1.4,22.8 L-3.2,23.4 L-4.8,23.6 C-4.4,21.5 -5,20 -5.1,17 C-5.3,13 -4.8,8.5 -3.4,6 C-4.4,4.8 -4.2,2.8 -2.8,2.6 C-2.6,1.2 -1.6,0 0,0 Z" transform="translate(398.80,611.70) scale(0.872,0.857)" fill="#eeeeee" filter="url(#bl2)"/>
<path d="M0,0 C1.6,0 2.6,1.2 2.8,2.6 C4.2,2.8 4.4,4.8 3.4,6 C4.8,8.5 5.3,13 5.1,17 C5,20 4.4,21.5 4.8,23.6 L3.2,23.4 L1.4,22.8 L0.5,28 L-0.5,28 L-1.4,22.8 L-3.2,23.4 L-4.8,23.6 C-4.4,21.5 -5,20 -5.1,17 C-5.3,13 -4.8,8.5 -3.4,6 C-4.4,4.8 -4.2,2.8 -2.8,2.6 C-2.6,1.2 -1.6,0 0,0 Z" transform="translate(412.60,611.00) scale(0.943,0.946)" fill="#9a9a9a" filter="url(#bl2)"/>
<path d="M0,0 C1.6,0 2.6,1.2 2.8,2.6 C4.2,2.8 4.4,4.8 3.4,6 C4.8,8.5 5.3,13 5.1,17 C5,20 4.4,21.5 4.8,23.6 L3.2,23.4 L1.4,22.8 L0.5,28 L-0.5,28 L-1.4,22.8 L-3.2,23.4 L-4.8,23.6 C-4.4,21.5 -5,20 -5.1,17 C-5.3,13 -4.8,8.5 -3.4,6 C-4.4,4.8 -4.2,2.8 -2.8,2.6 C-2.6,1.2 -1.6,0 0,0 Z" transform="translate(412.60,612.20) scale(0.792,0.839)" fill="#e6e6e6" filter="url(#bl2)"/>
<ellipse cx="413.40" cy="615.00" rx="2.00" ry="1.80" fill="#2a3fb0" opacity="1.0" filter="url(#bl)"/>
<ellipse cx="410.10" cy="628.50" rx="2.20" ry="1.98" fill="#2a3fb0" opacity="1.0" filter="url(#bl)"/>
<path d="M0,0 C1.6,0 2.6,1.2 2.8,2.6 C4.2,2.8 4.4,4.8 3.4,6 C4.8,8.5 5.3,13 5.1,17 C5,20 4.4,21.5 4.8,23.6 L3.2,23.4 L1.4,22.8 L0.5,28 L-0.5,28 L-1.4,22.8 L-3.2,23.4 L-4.8,23.6 C-4.4,21.5 -5,20 -5.1,17 C-5.3,13 -4.8,8.5 -3.4,6 C-4.4,4.8 -4.2,2.8 -2.8,2.6 C-2.6,1.2 -1.6,0 0,0 Z" transform="translate(427.20,611.00) scale(0.981,0.946)" fill="#9a9a9a" filter="url(#bl2)"/>
<path d="M0,0 C1.6,0 2.6,1.2 2.8,2.6 C4.2,2.8 4.4,4.8 3.4,6 C4.8,8.5 5.3,13 5.1,17 C5,20 4.4,21.5 4.8,23.6 L3.2,23.4 L1.4,22.8 L0.5,28 L-0.5,28 L-1.4,22.8 L-3.2,23.4 L-4.8,23.6 C-4.4,21.5 -5,20 -5.1,17 C-5.3,13 -4.8,8.5 -3.4,6 C-4.4,4.8 -4.2,2.8 -2.8,2.6 C-2.6,1.2 -1.6,0 0,0 Z" transform="translate(427.20,612.20) scale(0.824,0.839)" fill="#e2e2e2" filter="url(#bl2)"/>
<ellipse cx="424.70" cy="628.50" rx="2.00" ry="1.80" fill="#2a3fb0" opacity="1.0" filter="url(#bl)"/>
<rect x="418.50" y="606.30" width="20.50" height="7.60" fill="#7a7a7a" opacity="0.9"/>
<text x="419.80" y="613.00" font-size="7.4" font-weight="bold" font-style="italic" fill="#000" textLength="10.4" lengthAdjust="spacingAndGlyphs" stroke="#000" stroke-width="0.1">Id1</text>
<text x="431.60" y="609.90" font-size="3.8" fill="#ddd" font-weight="bold" stroke="#ddd" stroke-width="0.1">−/−</text>
<rect x="375.80" y="642.00" width="62.90" height="2.60" fill="url(#cbar)"/>
<text x="386.20" y="651.00" font-size="5.6" fill="#333" textLength="11.60" lengthAdjust="spacingAndGlyphs" stroke="#333" stroke-width="0.1">1000</text>
<text x="408.10" y="651.00" font-size="5.6" fill="#333" textLength="11.60" lengthAdjust="spacingAndGlyphs" stroke="#333" stroke-width="0.1">2000</text>
<text x="428.80" y="651.00" font-size="5.6" fill="#333" textLength="11.60" lengthAdjust="spacingAndGlyphs" stroke="#333" stroke-width="0.1">3000</text>
<text x="333.10" y="570.80" font-size="9.3" textLength="21.90" lengthAdjust="spacingAndGlyphs" stroke="#231f20" stroke-width="0.1">AE9a</text>
<line x1="327.80" y1="576.20" x2="327.80" y2="634.40" stroke="#231f20" stroke-width="1.1"/>
<line x1="327.30" y1="633.90" x2="359.60" y2="633.90" stroke="#231f20" stroke-width="1.1"/>
<line x1="325.40" y1="633.90" x2="327.80" y2="633.90" stroke="#231f20" stroke-width="1"/>
<text x="321.50" y="636.70" font-size="7.8" text-anchor="end" textLength="4.20" lengthAdjust="spacingAndGlyphs" stroke="#231f20" stroke-width="0.1">0</text>
<line x1="325.40" y1="620.65" x2="327.80" y2="620.65" stroke="#231f20" stroke-width="1"/>
<text x="321.50" y="623.45" font-size="7.8" text-anchor="end" textLength="8.20" lengthAdjust="spacingAndGlyphs" stroke="#231f20" stroke-width="0.1">20</text>
<line x1="325.40" y1="607.40" x2="327.80" y2="607.40" stroke="#231f20" stroke-width="1"/>
<text x="321.50" y="610.20" font-size="7.8" text-anchor="end" textLength="8.20" lengthAdjust="spacingAndGlyphs" stroke="#231f20" stroke-width="0.1">40</text>
<line x1="325.40" y1="594.15" x2="327.80" y2="594.15" stroke="#231f20" stroke-width="1"/>
<text x="321.50" y="596.95" font-size="7.8" text-anchor="end" textLength="8.20" lengthAdjust="spacingAndGlyphs" stroke="#231f20" stroke-width="0.1">60</text>
<line x1="325.40" y1="580.90" x2="327.80" y2="580.90" stroke="#231f20" stroke-width="1"/>
<text x="321.50" y="583.70" font-size="7.8" text-anchor="end" textLength="8.20" lengthAdjust="spacingAndGlyphs" stroke="#231f20" stroke-width="0.1">80</text>
<rect x="330.80" y="607.40" width="10.40" height="26.50" fill="#1d4e8f"/>
<line x1="336.00" y1="607.40" x2="336.00" y2="586.66" stroke="#222" stroke-width="0.9"/>
<line x1="333.80" y1="586.66" x2="338.20" y2="586.66" stroke="#222" stroke-width="0.9"/>
<line x1="336.00" y1="633.90" x2="336.00" y2="636.30" stroke="#231f20" stroke-width="1"/>
<line x1="351.30" y1="633.90" x2="351.30" y2="636.30" stroke="#231f20" stroke-width="1"/>
<g transform="translate(339.60,647.50) rotate(-54)"><text x="0" y="0" font-size="8.4" text-anchor="end" stroke="#231f20" stroke-width="0.1"><tspan>Id1</tspan><tspan font-size="4.8" dy="-3.4">+/+</tspan></text></g>
<g transform="translate(354.90,647.50) rotate(-54)"><text x="0" y="0" font-size="8.4" text-anchor="end" stroke="#231f20" stroke-width="0.1"><tspan>Id1</tspan><tspan font-size="4.8" dy="-3.4">−/−</tspan></text></g>
<text x="0" y="0" font-size="9.0" text-anchor="middle" transform="translate(306.60,605) rotate(-90)" textLength="62.6" lengthAdjust="spacingAndGlyphs" stroke="#231f20" stroke-width="0.1">Total counts(×10<tspan font-size="5.4" dy="-3.6">6</tspan><tspan dy="3.6">)</tspan></text>
<path d="M351.30,627.75 L351.30,630.85 M349.96,628.52 L352.64,630.07 M352.64,628.52 L349.96,630.07 " stroke="#222" stroke-width="0.85" fill="none"/>
<text x="475.30" y="570.80" font-size="9.3" textLength="38.50" lengthAdjust="spacingAndGlyphs" stroke="#231f20" stroke-width="0.1">MLL-AF9</text>
<line x1="478.30" y1="576.20" x2="478.30" y2="634.40" stroke="#231f20" stroke-width="1.1"/>
<line x1="477.80" y1="633.90" x2="510.10" y2="633.90" stroke="#231f20" stroke-width="1.1"/>
<line x1="475.90" y1="633.90" x2="478.30" y2="633.90" stroke="#231f20" stroke-width="1"/>
<text x="472.00" y="636.70" font-size="7.8" text-anchor="end" textLength="4.20" lengthAdjust="spacingAndGlyphs" stroke="#231f20" stroke-width="0.1">0</text>
<line x1="475.90" y1="620.65" x2="478.30" y2="620.65" stroke="#231f20" stroke-width="1"/>
<text x="472.00" y="623.45" font-size="7.8" text-anchor="end" textLength="8.20" lengthAdjust="spacingAndGlyphs" stroke="#231f20" stroke-width="0.1">20</text>
<line x1="475.90" y1="607.40" x2="478.30" y2="607.40" stroke="#231f20" stroke-width="1"/>
<text x="472.00" y="610.20" font-size="7.8" text-anchor="end" textLength="8.20" lengthAdjust="spacingAndGlyphs" stroke="#231f20" stroke-width="0.1">40</text>
<line x1="475.90" y1="594.15" x2="478.30" y2="594.15" stroke="#231f20" stroke-width="1"/>
<text x="472.00" y="596.95" font-size="7.8" text-anchor="end" textLength="8.20" lengthAdjust="spacingAndGlyphs" stroke="#231f20" stroke-width="0.1">60</text>
<line x1="475.90" y1="580.90" x2="478.30" y2="580.90" stroke="#231f20" stroke-width="1"/>
<text x="472.00" y="583.70" font-size="7.8" text-anchor="end" textLength="8.20" lengthAdjust="spacingAndGlyphs" stroke="#231f20" stroke-width="0.1">80</text>
<rect x="480.80" y="603.03" width="10.40" height="30.87" fill="#1d4e8f"/>
<line x1="486.00" y1="603.03" x2="486.00" y2="584.41" stroke="#222" stroke-width="0.9"/>
<line x1="483.80" y1="584.41" x2="488.20" y2="584.41" stroke="#222" stroke-width="0.9"/>
<rect x="496.40" y="627.01" width="10.40" height="6.89" fill="#cc1a3a"/>
<line x1="501.60" y1="627.01" x2="501.60" y2="624.03" stroke="#222" stroke-width="0.9"/>
<line x1="499.40" y1="624.03" x2="503.80" y2="624.03" stroke="#222" stroke-width="0.9"/>
<line x1="486.40" y1="633.90" x2="486.40" y2="636.30" stroke="#231f20" stroke-width="1"/>
<line x1="501.80" y1="633.90" x2="501.80" y2="636.30" stroke="#231f20" stroke-width="1"/>
<g transform="translate(490.00,647.50) rotate(-54)"><text x="0" y="0" font-size="8.4" text-anchor="end" stroke="#231f20" stroke-width="0.1"><tspan>Id1</tspan><tspan font-size="4.8" dy="-3.4">+/+</tspan></text></g>
<g transform="translate(505.40,647.50) rotate(-54)"><text x="0" y="0" font-size="8.4" text-anchor="end" stroke="#231f20" stroke-width="0.1"><tspan>Id1</tspan><tspan font-size="4.8" dy="-3.4">−/−</tspan></text></g>
<text x="0" y="0" font-size="9.0" text-anchor="middle" transform="translate(456.40,605) rotate(-90)" textLength="62.6" lengthAdjust="spacingAndGlyphs" stroke="#231f20" stroke-width="0.1">Total counts(×10<tspan font-size="5.4" dy="-3.6">4</tspan><tspan dy="3.6">)</tspan></text>
<path d="M500.30,617.45 L500.30,620.55 M498.96,618.23 L501.64,619.77 M501.64,618.23 L498.96,619.77 " stroke="#222" stroke-width="0.85" fill="none"/>
<path d="M504.50,617.45 L504.50,620.55 M503.16,618.23 L505.84,619.77 M505.84,618.23 L503.16,619.77 " stroke="#222" stroke-width="0.85" fill="none"/>
<rect x="0.5" y="0.5" width="519" height="673" fill="none" stroke="#5c5c5c" stroke-width="1"/>
</svg></body></html>
